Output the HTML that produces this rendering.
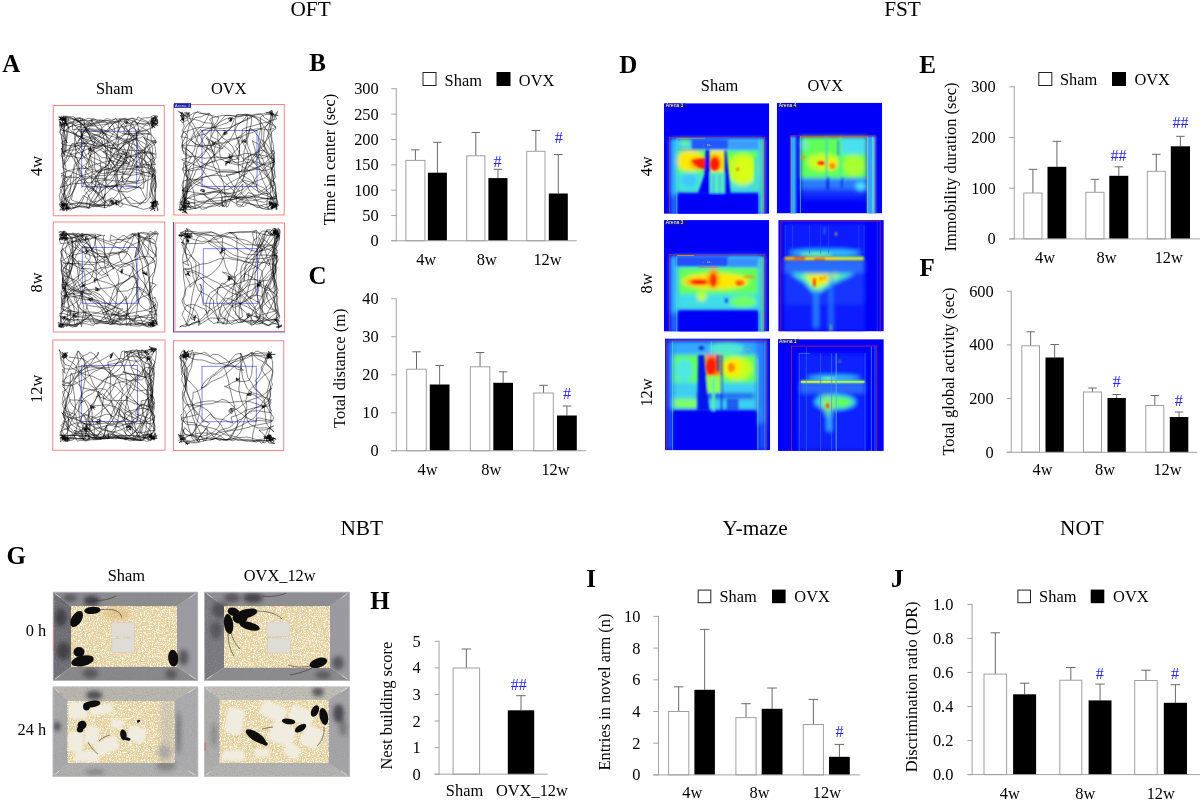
<!DOCTYPE html>
<html lang="en"><head><meta charset="utf-8"><title>Behavioural tests: OFT, FST, NBT, Y-maze, NOT</title>
<style>
html,body{margin:0;padding:0;background:#fff}
svg{display:block}
text{font-family:"Liberation Serif","Times New Roman",Times,serif}
text.sn{font-family:"Liberation Sans",Arial,sans-serif}
text.mo{font-family:"Liberation Mono",monospace}
</style></head><body>
<svg width="1200" height="802" viewBox="0 0 1200 802">
<defs>
<filter id="b1" x="-20%" y="-20%" width="140%" height="140%"><feGaussianBlur stdDeviation="0.9"/></filter>
<filter id="b2" x="-20%" y="-20%" width="140%" height="140%"><feGaussianBlur stdDeviation="2"/></filter>
<filter id="b3" x="-30%" y="-30%" width="160%" height="160%"><feGaussianBlur stdDeviation="3.5"/></filter>
<clipPath id="hc1"><rect x="663.82" y="103.2" width="105.39" height="110.64"/></clipPath>
<clipPath id="hc2"><rect x="776.82" y="102.66" width="105.39" height="110.75"/></clipPath>
<clipPath id="hc3"><rect x="663.82" y="220.12" width="105.39" height="111.5"/></clipPath>
<clipPath id="hc4"><rect x="778.24" y="220.12" width="105.59" height="111.32"/></clipPath>
<clipPath id="hc5"><rect x="664.94" y="338.41" width="105.15" height="111.76"/></clipPath>
<clipPath id="hc6"><rect x="777.94" y="339.15" width="105.88" height="111.76"/></clipPath>
<filter id="nzl" x="0" y="0" width="100%" height="100%"><feTurbulence type="fractalNoise" baseFrequency="0.75" numOctaves="2" seed="3"/><feColorMatrix type="matrix" values="0 0 0 0 1  0 0 0 0 0.97  0 0 0 0 0.87  5 0 0 0 -2.25"/></filter>
<filter id="nzd" x="0" y="0" width="100%" height="100%"><feTurbulence type="fractalNoise" baseFrequency="0.8" numOctaves="2" seed="11"/><feColorMatrix type="matrix" values="0 0 0 0 0.74  0 0 0 0 0.58  0 0 0 0 0.30  0 5.5 0 0 -2.85"/></filter>
<filter id="nzg" x="0" y="0" width="100%" height="100%"><feTurbulence type="fractalNoise" baseFrequency="0.9" numOctaves="2" seed="5"/><feColorMatrix type="matrix" values="0 0 0 0 0.3  0 0 0 0 0.3  0 0 0 0 0.32  1.6 0 0 0 -0.74"/></filter>
<filter id="pb1" x="-30%" y="-30%" width="160%" height="160%"><feGaussianBlur stdDeviation="0.6"/></filter>
<filter id="pb2" x="-40%" y="-40%" width="180%" height="180%"><feGaussianBlur stdDeviation="2.2"/></filter>
<filter id="pb3" x="-40%" y="-40%" width="180%" height="180%"><feGaussianBlur stdDeviation="1.1"/></filter>
<clipPath id="pc1"><rect x="52.8" y="591.8" width="145.4" height="89"/></clipPath>
<clipPath id="pc2"><rect x="204.2" y="591.8" width="145.7" height="89"/></clipPath>
<clipPath id="pc3"><rect x="52.6" y="686.4" width="145.7" height="90.4"/></clipPath>
<clipPath id="pc4"><rect x="204.1" y="686.4" width="145.8" height="90.4"/></clipPath>
</defs>
<rect width="1200" height="802" fill="#fff"/>
<text x="310.6" y="16.4" font-size="21.3" text-anchor="middle">OFT</text>
<text x="902.5" y="16.4" font-size="21.3" text-anchor="middle">FST</text>
<text x="361.8" y="535" font-size="21.3" text-anchor="middle">NBT</text>
<text x="755.1" y="535" font-size="21.3" text-anchor="middle">Y-maze</text>
<text x="1081.9" y="535" font-size="21.3" text-anchor="middle">NOT</text>
<text x="2.3" y="72" font-size="25" font-weight="bold">A</text>
<text x="309.2" y="71.3" font-size="25" font-weight="bold">B</text>
<text x="308.6" y="283.8" font-size="25" font-weight="bold">C</text>
<text x="619.2" y="72.6" font-size="25" font-weight="bold">D</text>
<text x="919.2" y="72.6" font-size="25" font-weight="bold">E</text>
<text x="919.6" y="275.8" font-size="25" font-weight="bold">F</text>
<text x="6.5" y="564" font-size="25" font-weight="bold">G</text>
<text x="370.2" y="609.2" font-size="25" font-weight="bold">H</text>
<text x="586.2" y="586.8" font-size="25" font-weight="bold">I</text>
<text x="891" y="586.8" font-size="25" font-weight="bold">J</text>
<g>
<path d="M415.4 160.4L415.4 149.8" stroke="#6a6a6a" stroke-width="1" fill="none"/>
<path d="M411.15 149.8L419.65 149.8" stroke="#6a6a6a" stroke-width="1" fill="none"/>
<rect x="405.9" y="160.4" width="19" height="80.35" fill="#fff" stroke="#a0a0a0" stroke-width="1"/>
<path d="M437.4 172.7L437.4 142.3" stroke="#6a6a6a" stroke-width="1" fill="none"/>
<path d="M433.15 142.3L441.65 142.3" stroke="#6a6a6a" stroke-width="1" fill="none"/>
<rect x="427.9" y="172.7" width="19" height="68.05" fill="#000"/>
<path d="M475.8 155.8L475.8 132.5" stroke="#6a6a6a" stroke-width="1" fill="none"/>
<path d="M471.55 132.5L480.05 132.5" stroke="#6a6a6a" stroke-width="1" fill="none"/>
<rect x="466.7" y="155.8" width="18.2" height="84.95" fill="#fff" stroke="#a0a0a0" stroke-width="1"/>
<path d="M497.95 178.1L497.95 169.3" stroke="#6a6a6a" stroke-width="1" fill="none"/>
<path d="M493.7 169.3L502.2 169.3" stroke="#6a6a6a" stroke-width="1" fill="none"/>
<rect x="488.4" y="178.1" width="19.1" height="62.65" fill="#000"/>
<path d="M535.85 151.3L535.85 130.5" stroke="#6a6a6a" stroke-width="1" fill="none"/>
<path d="M531.6 130.5L540.1 130.5" stroke="#6a6a6a" stroke-width="1" fill="none"/>
<rect x="526.7" y="151.3" width="18.3" height="89.45" fill="#fff" stroke="#a0a0a0" stroke-width="1"/>
<path d="M558.3 193.5L558.3 154.5" stroke="#6a6a6a" stroke-width="1" fill="none"/>
<path d="M554.05 154.5L562.55 154.5" stroke="#6a6a6a" stroke-width="1" fill="none"/>
<rect x="548.8" y="193.5" width="19" height="47.25" fill="#000"/>
<path d="M396.25 88.25L396.25 241.25" stroke="#a3a3a3" stroke-width="1" fill="none"/>
<path d="M391.25 240.75L576.75 240.75" stroke="#a3a3a3" stroke-width="1" fill="none"/>
<path d="M391.25 240.75L396.25 240.75" stroke="#a3a3a3" stroke-width="1" fill="none"/>
<text x="378.75" y="246.25" font-size="16.4" text-anchor="end">0</text>
<path d="M391.25 215.55L396.25 215.55" stroke="#a3a3a3" stroke-width="1" fill="none"/>
<text x="378.75" y="221.05" font-size="16.4" text-anchor="end">50</text>
<path d="M391.25 190.2L396.25 190.2" stroke="#a3a3a3" stroke-width="1" fill="none"/>
<text x="378.75" y="195.7" font-size="16.4" text-anchor="end">100</text>
<path d="M391.25 164.85L396.25 164.85" stroke="#a3a3a3" stroke-width="1" fill="none"/>
<text x="378.75" y="170.35" font-size="16.4" text-anchor="end">150</text>
<path d="M391.25 139.5L396.25 139.5" stroke="#a3a3a3" stroke-width="1" fill="none"/>
<text x="378.75" y="145" font-size="16.4" text-anchor="end">200</text>
<path d="M391.25 114.1L396.25 114.1" stroke="#a3a3a3" stroke-width="1" fill="none"/>
<text x="378.75" y="119.6" font-size="16.4" text-anchor="end">250</text>
<path d="M391.25 88.75L396.25 88.75" stroke="#a3a3a3" stroke-width="1" fill="none"/>
<text x="378.75" y="94.25" font-size="16.4" text-anchor="end">300</text>
<text x="426.2" y="264.6" font-size="16.4" text-anchor="middle">4w</text>
<text x="486.8" y="264.6" font-size="16.4" text-anchor="middle">8w</text>
<text x="547.5" y="264.6" font-size="16.4" text-anchor="middle">12w</text>
<text x="334.8" y="159.5" font-size="16.45" text-anchor="middle" transform="rotate(-90 334.8 159.5)">Time in center (sec)</text>
<text x="497.6" y="167.2" font-size="16" text-anchor="middle" fill="#2a2ae6">#</text>
<text x="558.8" y="142.6" font-size="16" text-anchor="middle" fill="#2a2ae6">#</text>
<rect x="423" y="72.5" width="13" height="13" fill="#fff" stroke="#222" stroke-width="1"/>
<rect x="496.5" y="72" width="14" height="14" fill="#000"/>
<text x="444.6" y="85.6" font-size="16.4">Sham</text>
<text x="518.8" y="85.6" font-size="16.4">OVX</text>
</g>
<g>
<path d="M416.5 369.2L416.5 351.8" stroke="#6a6a6a" stroke-width="1" fill="none"/>
<path d="M412.25 351.8L420.75 351.8" stroke="#6a6a6a" stroke-width="1" fill="none"/>
<rect x="406.7" y="369.2" width="19.6" height="81.55" fill="#fff" stroke="#a0a0a0" stroke-width="1"/>
<path d="M439.65 384.5L439.65 365.5" stroke="#6a6a6a" stroke-width="1" fill="none"/>
<path d="M435.4 365.5L443.9 365.5" stroke="#6a6a6a" stroke-width="1" fill="none"/>
<rect x="429.8" y="384.5" width="19.7" height="66.25" fill="#000"/>
<path d="M480.05 366.8L480.05 352.5" stroke="#6a6a6a" stroke-width="1" fill="none"/>
<path d="M475.8 352.5L484.3 352.5" stroke="#6a6a6a" stroke-width="1" fill="none"/>
<rect x="470.3" y="366.8" width="19.5" height="83.95" fill="#fff" stroke="#a0a0a0" stroke-width="1"/>
<path d="M503.15 382.8L503.15 371.8" stroke="#6a6a6a" stroke-width="1" fill="none"/>
<path d="M498.9 371.8L507.4 371.8" stroke="#6a6a6a" stroke-width="1" fill="none"/>
<rect x="493.3" y="382.8" width="19.7" height="67.95" fill="#000"/>
<path d="M543.55 393L543.55 385.3" stroke="#6a6a6a" stroke-width="1" fill="none"/>
<path d="M539.3 385.3L547.8 385.3" stroke="#6a6a6a" stroke-width="1" fill="none"/>
<rect x="533.8" y="393" width="19.5" height="57.75" fill="#fff" stroke="#a0a0a0" stroke-width="1"/>
<path d="M566.9 415.5L566.9 406" stroke="#6a6a6a" stroke-width="1" fill="none"/>
<path d="M562.65 406L571.15 406" stroke="#6a6a6a" stroke-width="1" fill="none"/>
<rect x="557" y="415.5" width="19.8" height="35.25" fill="#000"/>
<path d="M396.25 298.25L396.25 451.25" stroke="#a3a3a3" stroke-width="1" fill="none"/>
<path d="M391.25 450.75L586.25 450.75" stroke="#a3a3a3" stroke-width="1" fill="none"/>
<path d="M391.25 450.75L396.25 450.75" stroke="#a3a3a3" stroke-width="1" fill="none"/>
<text x="378.75" y="456.25" font-size="16.4" text-anchor="end">0</text>
<path d="M391.25 412.75L396.25 412.75" stroke="#a3a3a3" stroke-width="1" fill="none"/>
<text x="378.75" y="418.25" font-size="16.4" text-anchor="end">10</text>
<path d="M391.25 374.75L396.25 374.75" stroke="#a3a3a3" stroke-width="1" fill="none"/>
<text x="378.75" y="380.25" font-size="16.4" text-anchor="end">20</text>
<path d="M391.25 336.75L396.25 336.75" stroke="#a3a3a3" stroke-width="1" fill="none"/>
<text x="378.75" y="342.25" font-size="16.4" text-anchor="end">30</text>
<path d="M391.25 298.75L396.25 298.75" stroke="#a3a3a3" stroke-width="1" fill="none"/>
<text x="378.75" y="304.25" font-size="16.4" text-anchor="end">40</text>
<text x="427.5" y="474.6" font-size="16.4" text-anchor="middle">4w</text>
<text x="491.3" y="474.6" font-size="16.4" text-anchor="middle">8w</text>
<text x="555.5" y="474.6" font-size="16.4" text-anchor="middle">12w</text>
<text x="344.8" y="368.2" font-size="16.45" text-anchor="middle" transform="rotate(-90 344.8 368.2)">Total distance (m)</text>
<text x="567" y="398.6" font-size="16" text-anchor="middle" fill="#2a2ae6">#</text>
</g>
<g>
<path d="M1032.9 193L1032.9 169.3" stroke="#6a6a6a" stroke-width="1" fill="none"/>
<path d="M1028.65 169.3L1037.15 169.3" stroke="#6a6a6a" stroke-width="1" fill="none"/>
<rect x="1023.8" y="193" width="18.2" height="45.9" fill="#fff" stroke="#a0a0a0" stroke-width="1"/>
<path d="M1056.9 166.8L1056.9 141.3" stroke="#6a6a6a" stroke-width="1" fill="none"/>
<path d="M1052.65 141.3L1061.15 141.3" stroke="#6a6a6a" stroke-width="1" fill="none"/>
<rect x="1047.5" y="166.8" width="18.8" height="72.1" fill="#000"/>
<path d="M1094.9 192.3L1094.9 179.3" stroke="#6a6a6a" stroke-width="1" fill="none"/>
<path d="M1090.65 179.3L1099.15 179.3" stroke="#6a6a6a" stroke-width="1" fill="none"/>
<rect x="1085.8" y="192.3" width="18.2" height="46.6" fill="#fff" stroke="#a0a0a0" stroke-width="1"/>
<path d="M1118.8 175.8L1118.8 166.8" stroke="#6a6a6a" stroke-width="1" fill="none"/>
<path d="M1114.55 166.8L1123.05 166.8" stroke="#6a6a6a" stroke-width="1" fill="none"/>
<rect x="1109.3" y="175.8" width="19" height="63.1" fill="#000"/>
<path d="M1156.3 171.3L1156.3 154.3" stroke="#6a6a6a" stroke-width="1" fill="none"/>
<path d="M1152.05 154.3L1160.55 154.3" stroke="#6a6a6a" stroke-width="1" fill="none"/>
<rect x="1147.3" y="171.3" width="18" height="67.6" fill="#fff" stroke="#a0a0a0" stroke-width="1"/>
<path d="M1180.4 146.3L1180.4 136.3" stroke="#6a6a6a" stroke-width="1" fill="none"/>
<path d="M1176.15 136.3L1184.65 136.3" stroke="#6a6a6a" stroke-width="1" fill="none"/>
<rect x="1170.8" y="146.3" width="19.2" height="92.6" fill="#000"/>
<path d="M1014.25 86.3L1014.25 239.4" stroke="#a3a3a3" stroke-width="1" fill="none"/>
<path d="M1009.25 238.9L1200 238.9" stroke="#a3a3a3" stroke-width="1" fill="none"/>
<path d="M1009.25 238.9L1014.25 238.9" stroke="#a3a3a3" stroke-width="1" fill="none"/>
<text x="995.75" y="244.4" font-size="16.4" text-anchor="end">0</text>
<path d="M1009.25 188.2L1014.25 188.2" stroke="#a3a3a3" stroke-width="1" fill="none"/>
<text x="995.75" y="193.7" font-size="16.4" text-anchor="end">100</text>
<path d="M1009.25 137.5L1014.25 137.5" stroke="#a3a3a3" stroke-width="1" fill="none"/>
<text x="995.75" y="143" font-size="16.4" text-anchor="end">200</text>
<path d="M1009.25 86.8L1014.25 86.8" stroke="#a3a3a3" stroke-width="1" fill="none"/>
<text x="995.75" y="92.3" font-size="16.4" text-anchor="end">300</text>
<text x="1045" y="262.6" font-size="16.4" text-anchor="middle">4w</text>
<text x="1106.5" y="262.6" font-size="16.4" text-anchor="middle">8w</text>
<text x="1168.8" y="262.6" font-size="16.4" text-anchor="middle">12w</text>
<text x="955.6" y="167" font-size="16.45" text-anchor="middle" transform="rotate(-90 955.6 167)">Immobility duration (sec)</text>
<text x="1118.6" y="160.8" font-size="16" text-anchor="middle" fill="#2a2ae6">##</text>
<text x="1180.4" y="127.9" font-size="16" text-anchor="middle" fill="#2a2ae6">##</text>
<rect x="1038.8" y="72.5" width="13" height="13" fill="#fff" stroke="#222" stroke-width="1"/>
<rect x="1112" y="72" width="14" height="14" fill="#000"/>
<text x="1060" y="85.4" font-size="16.4">Sham</text>
<text x="1134.4" y="85.4" font-size="16.4">OVX</text>
</g>
<g>
<path d="M1030.65 345.8L1030.65 331.8" stroke="#6a6a6a" stroke-width="1" fill="none"/>
<path d="M1026.4 331.8L1034.9 331.8" stroke="#6a6a6a" stroke-width="1" fill="none"/>
<rect x="1021.8" y="345.8" width="17.7" height="106.45" fill="#fff" stroke="#a0a0a0" stroke-width="1"/>
<path d="M1054.65 357.5L1054.65 344.5" stroke="#6a6a6a" stroke-width="1" fill="none"/>
<path d="M1050.4 344.5L1058.9 344.5" stroke="#6a6a6a" stroke-width="1" fill="none"/>
<rect x="1045.5" y="357.5" width="18.3" height="94.75" fill="#000"/>
<path d="M1092.5 392L1092.5 388" stroke="#6a6a6a" stroke-width="1" fill="none"/>
<path d="M1088.25 388L1096.75 388" stroke="#6a6a6a" stroke-width="1" fill="none"/>
<rect x="1083.5" y="392" width="18" height="60.25" fill="#fff" stroke="#a0a0a0" stroke-width="1"/>
<path d="M1116.65 398L1116.65 394.5" stroke="#6a6a6a" stroke-width="1" fill="none"/>
<path d="M1112.4 394.5L1120.9 394.5" stroke="#6a6a6a" stroke-width="1" fill="none"/>
<rect x="1107.5" y="398" width="18.3" height="54.25" fill="#000"/>
<path d="M1154.8 405.5L1154.8 395.5" stroke="#6a6a6a" stroke-width="1" fill="none"/>
<path d="M1150.55 395.5L1159.05 395.5" stroke="#6a6a6a" stroke-width="1" fill="none"/>
<rect x="1145.8" y="405.5" width="18" height="46.75" fill="#fff" stroke="#a0a0a0" stroke-width="1"/>
<path d="M1179.05 417L1179.05 412" stroke="#6a6a6a" stroke-width="1" fill="none"/>
<path d="M1174.8 412L1183.3 412" stroke="#6a6a6a" stroke-width="1" fill="none"/>
<rect x="1169.8" y="417" width="18.5" height="35.25" fill="#000"/>
<path d="M1011.25 290.8L1011.25 452.75" stroke="#a3a3a3" stroke-width="1" fill="none"/>
<path d="M1006.75 452.25L1197.5 452.25" stroke="#a3a3a3" stroke-width="1" fill="none"/>
<path d="M1006.75 452.25L1011.25 452.25" stroke="#a3a3a3" stroke-width="1" fill="none"/>
<text x="993.75" y="457.75" font-size="16.4" text-anchor="end">0</text>
<path d="M1006.75 398.6L1011.25 398.6" stroke="#a3a3a3" stroke-width="1" fill="none"/>
<text x="993.75" y="404.1" font-size="16.4" text-anchor="end">200</text>
<path d="M1006.75 344.95L1011.25 344.95" stroke="#a3a3a3" stroke-width="1" fill="none"/>
<text x="993.75" y="350.45" font-size="16.4" text-anchor="end">400</text>
<path d="M1006.75 291.3L1011.25 291.3" stroke="#a3a3a3" stroke-width="1" fill="none"/>
<text x="993.75" y="296.8" font-size="16.4" text-anchor="end">600</text>
<text x="1042.5" y="475" font-size="16.4" text-anchor="middle">4w</text>
<text x="1105" y="475" font-size="16.4" text-anchor="middle">8w</text>
<text x="1167.5" y="475" font-size="16.4" text-anchor="middle">12w</text>
<text x="953.6" y="371.5" font-size="16.45" text-anchor="middle" transform="rotate(-90 953.6 371.5)">Total global activity (sec)</text>
<text x="1116.8" y="386.8" font-size="16" text-anchor="middle" fill="#2a2ae6">#</text>
<text x="1178.8" y="405.6" font-size="16" text-anchor="middle" fill="#2a2ae6">#</text>
</g>
<g>
<path d="M466.35 668L466.35 649" stroke="#6a6a6a" stroke-width="1" fill="none"/>
<path d="M461.6 649L471.1 649" stroke="#6a6a6a" stroke-width="1" fill="none"/>
<rect x="453.1" y="668" width="26.5" height="106.2" fill="#fff" stroke="#a0a0a0" stroke-width="1"/>
<path d="M521 710.3L521 695.7" stroke="#6a6a6a" stroke-width="1" fill="none"/>
<path d="M516.25 695.7L525.75 695.7" stroke="#6a6a6a" stroke-width="1" fill="none"/>
<rect x="507.8" y="710.3" width="26.4" height="63.9" fill="#000"/>
<path d="M439.1 640.8L439.1 774.7" stroke="#a3a3a3" stroke-width="1" fill="none"/>
<path d="M434.6 774.2L547.7 774.2" stroke="#a3a3a3" stroke-width="1" fill="none"/>
<path d="M434.6 774.2L439.1 774.2" stroke="#a3a3a3" stroke-width="1" fill="none"/>
<text x="420.8" y="779.7" font-size="16.4" text-anchor="end">0</text>
<path d="M434.6 747.6L439.1 747.6" stroke="#a3a3a3" stroke-width="1" fill="none"/>
<text x="420.8" y="753.1" font-size="16.4" text-anchor="end">1</text>
<path d="M434.6 721L439.1 721" stroke="#a3a3a3" stroke-width="1" fill="none"/>
<text x="420.8" y="726.5" font-size="16.4" text-anchor="end">2</text>
<path d="M434.6 694.5L439.1 694.5" stroke="#a3a3a3" stroke-width="1" fill="none"/>
<text x="420.8" y="700" font-size="16.4" text-anchor="end">3</text>
<path d="M434.6 667.9L439.1 667.9" stroke="#a3a3a3" stroke-width="1" fill="none"/>
<text x="420.8" y="673.4" font-size="16.4" text-anchor="end">4</text>
<path d="M434.6 641.3L439.1 641.3" stroke="#a3a3a3" stroke-width="1" fill="none"/>
<text x="420.8" y="646.8" font-size="16.4" text-anchor="end">5</text>
<text x="464.5" y="796.2" font-size="16.4" text-anchor="middle">Sham</text>
<text x="531.9" y="796.2" font-size="16.4" text-anchor="middle">OVX_12w</text>
<text x="391.6" y="705.6" font-size="16.45" text-anchor="middle" transform="rotate(-90 391.6 705.6)">Nest building score</text>
<text x="518.7" y="690.2" font-size="16" text-anchor="middle" fill="#2a2ae6">##</text>
</g>
<g>
<path d="M678.7 711.5L678.7 686.8" stroke="#6a6a6a" stroke-width="1" fill="none"/>
<path d="M673.95 686.8L683.45 686.8" stroke="#6a6a6a" stroke-width="1" fill="none"/>
<rect x="668.6" y="711.5" width="20.2" height="63.4" fill="#fff" stroke="#a0a0a0" stroke-width="1"/>
<path d="M704.65 689.8L704.65 629.4" stroke="#6a6a6a" stroke-width="1" fill="none"/>
<path d="M699.9 629.4L709.4 629.4" stroke="#6a6a6a" stroke-width="1" fill="none"/>
<rect x="694.4" y="689.8" width="20.5" height="85.1" fill="#000"/>
<path d="M746 717.6L746 703.7" stroke="#6a6a6a" stroke-width="1" fill="none"/>
<path d="M741.25 703.7L750.75 703.7" stroke="#6a6a6a" stroke-width="1" fill="none"/>
<rect x="735.9" y="717.6" width="20.2" height="57.3" fill="#fff" stroke="#a0a0a0" stroke-width="1"/>
<path d="M772.1 708.8L772.1 688" stroke="#6a6a6a" stroke-width="1" fill="none"/>
<path d="M767.35 688L776.85 688" stroke="#6a6a6a" stroke-width="1" fill="none"/>
<rect x="761.7" y="708.8" width="20.8" height="66.1" fill="#000"/>
<path d="M813.35 724.5L813.35 699.4" stroke="#6a6a6a" stroke-width="1" fill="none"/>
<path d="M808.6 699.4L818.1 699.4" stroke="#6a6a6a" stroke-width="1" fill="none"/>
<rect x="803.3" y="724.5" width="20.1" height="50.4" fill="#fff" stroke="#a0a0a0" stroke-width="1"/>
<path d="M839.4 756.8L839.4 744.4" stroke="#6a6a6a" stroke-width="1" fill="none"/>
<path d="M834.65 744.4L844.15 744.4" stroke="#6a6a6a" stroke-width="1" fill="none"/>
<rect x="829" y="756.8" width="20.8" height="18.1" fill="#000"/>
<path d="M658.5 615.9L658.5 775.4" stroke="#a3a3a3" stroke-width="1" fill="none"/>
<path d="M653.3 774.9L860.1 774.9" stroke="#a3a3a3" stroke-width="1" fill="none"/>
<path d="M653.3 774.9L658.5 774.9" stroke="#a3a3a3" stroke-width="1" fill="none"/>
<text x="640.5" y="780.4" font-size="16.4" text-anchor="end">0</text>
<path d="M653.3 743.2L658.5 743.2" stroke="#a3a3a3" stroke-width="1" fill="none"/>
<text x="640.5" y="748.7" font-size="16.4" text-anchor="end">2</text>
<path d="M653.3 711.5L658.5 711.5" stroke="#a3a3a3" stroke-width="1" fill="none"/>
<text x="640.5" y="717" font-size="16.4" text-anchor="end">4</text>
<path d="M653.3 679.8L658.5 679.8" stroke="#a3a3a3" stroke-width="1" fill="none"/>
<text x="640.5" y="685.3" font-size="16.4" text-anchor="end">6</text>
<path d="M653.3 648.1L658.5 648.1" stroke="#a3a3a3" stroke-width="1" fill="none"/>
<text x="640.5" y="653.6" font-size="16.4" text-anchor="end">8</text>
<path d="M653.3 616.4L658.5 616.4" stroke="#a3a3a3" stroke-width="1" fill="none"/>
<text x="640.5" y="621.9" font-size="16.4" text-anchor="end">10</text>
<text x="692.3" y="798.4" font-size="16.4" text-anchor="middle">4w</text>
<text x="759.6" y="798.4" font-size="16.4" text-anchor="middle">8w</text>
<text x="826.9" y="798.4" font-size="16.4" text-anchor="middle">12w</text>
<text x="610.4" y="692" font-size="16.45" text-anchor="middle" transform="rotate(-90 610.4 692)">Entries in novel arm (n)</text>
<text x="839.6" y="736.9" font-size="16" text-anchor="middle" fill="#2a2ae6">#</text>
<rect x="698.2" y="590.1" width="12.6" height="12.6" fill="#fff" stroke="#222" stroke-width="1"/>
<rect x="772" y="589.6" width="13.6" height="13.6" fill="#000"/>
<text x="719.4" y="602.3" font-size="16.4">Sham</text>
<text x="794.3" y="602.3" font-size="16.4">OVX</text>
</g>
<g>
<path d="M995.3 674.1L995.3 632.8" stroke="#6a6a6a" stroke-width="1" fill="none"/>
<path d="M990.55 632.8L1000.05 632.8" stroke="#6a6a6a" stroke-width="1" fill="none"/>
<rect x="984" y="674.1" width="22.6" height="100.5" fill="#fff" stroke="#a0a0a0" stroke-width="1"/>
<path d="M1024.6 694.3L1024.6 683.2" stroke="#6a6a6a" stroke-width="1" fill="none"/>
<path d="M1019.85 683.2L1029.35 683.2" stroke="#6a6a6a" stroke-width="1" fill="none"/>
<rect x="1013.1" y="694.3" width="23" height="80.3" fill="#000"/>
<path d="M1070.8 680.2L1070.8 667.5" stroke="#6a6a6a" stroke-width="1" fill="none"/>
<path d="M1066.05 667.5L1075.55 667.5" stroke="#6a6a6a" stroke-width="1" fill="none"/>
<rect x="1059.8" y="680.2" width="22" height="94.4" fill="#fff" stroke="#a0a0a0" stroke-width="1"/>
<path d="M1100.05 700.4L1100.05 684.1" stroke="#6a6a6a" stroke-width="1" fill="none"/>
<path d="M1095.3 684.1L1104.8 684.1" stroke="#6a6a6a" stroke-width="1" fill="none"/>
<rect x="1088.6" y="700.4" width="22.9" height="74.2" fill="#000"/>
<path d="M1145.95 680.5L1145.95 670.2" stroke="#6a6a6a" stroke-width="1" fill="none"/>
<path d="M1141.2 670.2L1150.7 670.2" stroke="#6a6a6a" stroke-width="1" fill="none"/>
<rect x="1134.7" y="680.5" width="22.5" height="94.1" fill="#fff" stroke="#a0a0a0" stroke-width="1"/>
<path d="M1175.4 702.8L1175.4 684.7" stroke="#6a6a6a" stroke-width="1" fill="none"/>
<path d="M1170.65 684.7L1180.15 684.7" stroke="#6a6a6a" stroke-width="1" fill="none"/>
<rect x="1163.8" y="702.8" width="23.2" height="71.8" fill="#000"/>
<path d="M972.1 603.9L972.1 775.1" stroke="#a3a3a3" stroke-width="1" fill="none"/>
<path d="M967.5 774.6L1200 774.6" stroke="#a3a3a3" stroke-width="1" fill="none"/>
<path d="M967.5 774.6L972.1 774.6" stroke="#a3a3a3" stroke-width="1" fill="none"/>
<text x="953.4" y="780.1" font-size="16.4" text-anchor="end">0.0</text>
<path d="M967.5 740.55L972.1 740.55" stroke="#a3a3a3" stroke-width="1" fill="none"/>
<text x="953.4" y="746.05" font-size="16.4" text-anchor="end">0.2</text>
<path d="M967.5 706.5L972.1 706.5" stroke="#a3a3a3" stroke-width="1" fill="none"/>
<text x="953.4" y="712" font-size="16.4" text-anchor="end">0.4</text>
<path d="M967.5 672.45L972.1 672.45" stroke="#a3a3a3" stroke-width="1" fill="none"/>
<text x="953.4" y="677.95" font-size="16.4" text-anchor="end">0.6</text>
<path d="M967.5 638.4L972.1 638.4" stroke="#a3a3a3" stroke-width="1" fill="none"/>
<text x="953.4" y="643.9" font-size="16.4" text-anchor="end">0.8</text>
<path d="M967.5 604.4L972.1 604.4" stroke="#a3a3a3" stroke-width="1" fill="none"/>
<text x="953.4" y="609.9" font-size="16.4" text-anchor="end">1.0</text>
<text x="1009.8" y="798.5" font-size="16.4" text-anchor="middle">4w</text>
<text x="1085.3" y="798.5" font-size="16.4" text-anchor="middle">8w</text>
<text x="1160.8" y="798.5" font-size="16.4" text-anchor="middle">12w</text>
<text x="917.4" y="686.8" font-size="16.45" text-anchor="middle" transform="rotate(-90 917.4 686.8)">Discrimination ratio (DR)</text>
<text x="1099.8" y="679" font-size="16" text-anchor="middle" fill="#2a2ae6">#</text>
<text x="1174.9" y="679" font-size="16" text-anchor="middle" fill="#2a2ae6">#</text>
<rect x="1017.9" y="590.1" width="12.6" height="12.6" fill="#fff" stroke="#222" stroke-width="1"/>
<rect x="1090.7" y="589.6" width="13.6" height="13.6" fill="#000"/>
<text x="1039.1" y="602.3" font-size="16.4">Sham</text>
<text x="1113.1" y="602.3" font-size="16.4">OVX</text>
</g>
<text x="114.6" y="93.8" font-size="16.4" text-anchor="middle">Sham</text>
<text x="228.8" y="93.8" font-size="16.4" text-anchor="middle">OVX</text>
<text x="41.6" y="166" font-size="16.4" text-anchor="middle" transform="rotate(-90 41.6 166)">4w</text>
<text x="41.6" y="282.5" font-size="16.4" text-anchor="middle" transform="rotate(-90 41.6 282.5)">8w</text>
<text x="41.6" y="388.8" font-size="16.4" text-anchor="middle" transform="rotate(-90 41.6 388.8)">12w</text>
<text x="719.5" y="91.3" font-size="16.4" text-anchor="middle">Sham</text>
<text x="825.3" y="91.3" font-size="16.4" text-anchor="middle">OVX</text>
<text x="652.4" y="166.3" font-size="16.4" text-anchor="middle" transform="rotate(-90 652.4 166.3)">4w</text>
<text x="652.4" y="283.5" font-size="16.4" text-anchor="middle" transform="rotate(-90 652.4 283.5)">8w</text>
<text x="652.4" y="392.5" font-size="16.4" text-anchor="middle" transform="rotate(-90 652.4 392.5)">12w</text>
<text x="126.3" y="580.9" font-size="16.4" text-anchor="middle">Sham</text>
<text x="279.7" y="580.9" font-size="16.4" text-anchor="middle">OVX_12w</text>
<text x="46.2" y="636.4" font-size="16.4" text-anchor="end">0 h</text>
<text x="46.2" y="735.2" font-size="16.4" text-anchor="end">24 h</text>
<g>
<rect x="53.25" y="105.5" width="111" height="110.25" fill="#fff" stroke="#f08888" stroke-width="1"/>
<rect x="81.75" y="131.25" width="55" height="55.5" fill="none" stroke="#6464f4" stroke-width="0.8"/>
<path d="M67.8 124.2l-3.4 2.9l-0.7 1.9l-0.6 1.6l4.6 1.1l5.4 1.7l2.8 1.9l4.8 4.2l3.9 3.4l3 3.1l2.2 1.9l4.5 3.5l1.5 1.2l3.5 5.1l0.9 2.4l0.1 3.6l0.2 3l0.9 4.4l-3.3 0.6l-2.3 -0.2l-1.2 -4.5l-0.2 -5.1l0.4 -5.8l-0.1 -2l-0.9 -4.3l0.3 -4.9l-1.4 -2l-0.8 -2.4l-2 -3.4l-1.3 -3.6l-1.9 -3.2l-1.5 -2.7l-0.3 -1.8l-0.5 -4.9l-2.7 -1.8l-1.7 -1.2l-5.1 0.5l-2.2 5.5l-0.3 5.7l1.9 -0.2l5.7 0l4.1 0.2l5.5 1.2l2.6 0l4.2 0.9l5.9 1.1l2.4 0.9l2.9 1l2.5 1.3l4.5 1.2l4.8 2l1.9 1.1l4.9 2.3l1.9 1.1l1.4 1.5l4 4.9l1.8 2.7l1.1 3.6l-2.9 5.1l-1.7 5.2l-2.6 5.3l-3.9 0l-4.8 -0.1l-4.6 -2.4l1.4 -3.1l-0.4 -4.7l1.6 -1.8l2.7 -3.6l-1.8 -2l-0.8 -1.7l-2.5 -3.3l-1.1 -1.8l-2.3 -3l-3.8 -4.9l-2.8 -4l-4.8 -4.1l-3.3 -2.6l-2.4 -3l-3.1 -4.4l-1.7 -1.5l-1.7 1l-2.6 1.6l-1.8 1.2l-2.8 1.3l-2.9 1.8l-2.1 1.1l-3.4 2.8l1.1 5l1.2 5.1l1.9 3.5l3.9 3.8l3.1 4.5l1.5 3.3l2.3 4.8l1 2.5l1 2.2l1.7 2.7l-3.7 -1.7l0.3 -3.9l0.8 -5.7l1.3 -5.1l1.4 -3.7l1.5 -3.2l0.7 -3l0.7 -4.9l-5 0.3l-2.9 -0.8l-2.7 -0.8l-2 0.1l-5.6 0.7l-1.7 -3.2l2.6 -2.4l3.2 0.3l2.3 -0.5l4.8 -1.3l2 -0.2l3.7 1.2l5.9 0.5l5.9 0.2l6.2 -1.4l1.6 -0.4l3.7 -1.7l4.5 -0.7l3.9 -0.3l3.9 -1.3l5 -1.1l3.5 -0.4l2.7 -0.2l5.2 0.1l6.1 -0.7l4.3 1.1l1.9 1.5l-5.7 -1.5l-5.6 -1.7l-2.6 -0.7l-5.6 -1.6l-4.5 -1.3l-2.8 -0.3l-4.2 1.2l-1.8 1.8l-3 2.7l-2.1 3.1l-0.8 1.5l-0.8 1.5l-2.1 3.7l1.1 2.7l0.7 4.8l-0.4 4l-0.9 2.6l-2.7 4.5l-1.7 2.7l-1.9 2.7l-2.2 4.8l-1.2 2.4l-0.6 1.8l0.1 3.5l-1.1 5l-4.1 -0.1l-1.7 0.2l-2.3 0.4l-2.6 0.8l-6.3 0.1l-6.2 -0.1l-2.7 -1.5l-1.9 -0.8l-4.6 -1.9l-3.6 -1.3l-2.7 -1.1l-4.4 -2.8l0.6 -1.7l1.3 -2.2l1.4 -4l0.9 -3l1.5 -4l0.8 -3.1l1.2 -3.5l2.6 -1.1l4.8 -2l5.6 -0.6l3.9 4.7l1.4 1.3l1.8 1.2l2.6 1.4l3.4 2.4l2.4 2.1l3 2.5l4 -0.1l3.9 1.7l3.1 2l1.5 5l1.4 5.2l0.6 2l0.8 3.4l0.8 2.8l1.3 4.7l-3.7 1.7l-2 0.6l-2.4 -0.1l-4.6 -0.6l-4.5 -1.3l-3.3 -0.8l-2 4l-1.5 4.9l-2.4 4.1l-2.8 5.1l-0.7 4.6l-0.3 1.9l-2.4 -1.8l0.2 -5.1l1.3 -4.5l1 -1.9l3.3 -3.9l2 -3.2l1.2 -2.8l-0.1 -4.4l0.3 -3l1.2 -3l1.3 -1.6l2.7 -3.8l5.1 -3.6l2.8 -2.6l1.1 -2l2.1 -5.1l1.1 1.4l3.5 2.1l3.3 1.4l1.9 0.7l3.6 0.6l3.9 1.3l-1.1 -1.6l-3.5 -2.7l-2.6 -2.1l-3.3 -2.5l-3.1 -2.3l4.5 -4.2l2.4 -3.3l1.7 -3.3l2.5 -1.8l2.7 3.7l-1.2 5l-1.5 3.1l-0.4 2.1l-2.1 5.6l-1.7 3.5l-3.3 4.2l-1.3 2l-0.9 3.8l-0.3 4.4l-0.2 6.3l0.5 3l1.7 5l1.7 4.2l0.7 5l-4 1.2l-3.7 1.7l-3.8 1.8l-3.8 0l-6.1 -0.9l-6.3 -0.7l2.3 -5.2l1.4 -3l2.3 -5.8l2.3 -5.9l2.5 -3.7l0.9 -2l2.9 -4.4l1.1 -3.3l1.4 -4.7l2.1 -3.3l1.2 -2.1l2.9 -3.1l1.6 -5.7l2.9 -4.6l2.1 -2.7l5 -3.4l3.6 -4.6l1.7 -1.8l3.2 -2.7l5.2 -0.4l3.7 -0.8l1.7 -0.4l1.1 2.4l-1.2 2.8l-0.7 5.8l-0.5 2.7l1.8 4.7l2 4.5l1.9 2.2l2.4 2.2l-3.6 2.3l-1.9 1.7l-4.9 2.5l-1.4 1l-4.6 1.1l-4.7 2.4l-5.8 0.7l-1.7 -0.1l-2.9 -0.2l-5.8 1.3l-3.9 0.8l-2.4 0.9l-4.5 0.9l-3.7 0.5l-6.2 -1.5l-2.9 -0.3l-2.1 0.2l-1.8 1.3l-4.3 1.4l-3.7 1.2l-2.7 1.3l-2.5 1.5l-2.6 2.3l-2.8 2.1l-4.3 4.4l-2 3.7l-0.7 3.4l-1.3 3.2l-1.6 6.2l1.2 3.8l0.9 1.3l-2.4 -1.9l-1.2 -2.9l5.1 -0.5l5 0.5l4.5 -0.3l3.7 -0.2l5.9 0.2l4.9 0.4l5.7 0.8l4.7 0.4l3 -0.1l5.7 -0.3l3.6 -0.2l2.5 -0.8l4.5 -2.1l5.4 -3.2l5.5 -1.7l1.8 1.1l1.9 1.6l4.1 2.1l3.4 2.6l1.2 -1.3l4 -3.9l-1 -2.6l-2.6 -5.4l-2.4 -4.2l-1.8 0.1l-6 0.5l-1.9 0.3l-5 1.3l-4.2 -4l0 3l-0.2 2.3l0.9 1.4l2.1 2.7l2.5 4.7l1 1.9l4.4 3.9l2 1l6 2l4.1 1.2l5 -1.3l4.8 0.7l1.6 -0.8l-4.7 2.5l1.6 -0.7l1.8 -4.5l0.1 -5.3l-0.9 -2l-1 -5.4l-0.6 -3.5l-0.6 -3.6l0.3 -2.3l0.3 -1.8l1 -5.3l1 -4.6l-2.4 -3.2l-0.9 -2.2l-0.9 -1.9l-1.7 -1.7l-4.8 -3.3l-4.3 -2l-2.7 -0.8l-2.2 0.1l-3.2 0.2l-1.7 -0.4l-1.6 -0.5l-5.9 -2.3l-1.6 -1.2l-4.1 -4.7l-2.8 -2.9l-1.8 -1.5l-4.6 -2.6l-4.9 -3.3l-3.3 -1.8l-4.2 -1.4l-4.6 -2.5l-4 -4.3l-2.5 -2.8l-1.5 -2.8l-1.1 -3.9l-1.5 1.4l-5 1.9l-5 2.3l-3 0.5l-1.7 -0.6l-0.1 2.7l0.3 1.6l0.1 2.2l0 1.7l1.2 5.8l-0.4 5.7l-0.3 2.3l-0.3 5.9l1.7 0.8l3.4 1.5l3.3 1.7l4 2.5l1.5 5.4l0.4 2l0.9 4.1l1.4 2.3l1.6 4.8l3.4 4.8l3.8 4.6l3.2 2.8l4.4 4l2.1 2.6l4.2 3.5l1.3 -4.4l0.5 -5.7l0.5 -6.3l0.2 -2.2l0.4 -1.6l0.8 -4.1l1.2 -5l-0.2 -2.4l0.6 -3.4l0.4 -3.1l1.1 -4.2l0.3 -1.6l0 -1.8l-0.2 -4.4l-1.7 -5l-0.8 -2.3l-2 -1.7l-3.9 -1.6l-5.1 -2.2l-4 -1.2l-2 -0.5l-3.9 -1.3l-1.5 -0.6l-2.5 -0.6l-1.7 5.8l-0.7 1.5l-3.1 3.5l-1.7 1.6l-2.7 5.3l-2.8 5.7l-2.9 5.3l-1.2 1.5l-2.2 2.9l-1 -1.7l-0.6 -5.5l-0.7 -2.8l0 -1.7l1.2 -5l1.5 -5.7l0.3 -4.5l-0.1 -3.4l-1.2 -3.2l-0.6 -1.6l-2.3 -3.6l-0.6 -4.1l2.8 -3l2.8 -1.8l0.6 3.4l-1.1 3.2l-1 5.1l-0.7 6.2l-0.3 5l-0.5 4.7l-0.1 4.1l0.4 4.2l-0.5 2.7l-0.1 6.3l0.8 5.7l1.7 4.9l0.4 1.7l0 3.9l-0.5 2.1l-0.2 4.4l0.1 6.4l0.3 4.7l0.1 4.8l-0.4 2.8l-1.2 5.4l0.6 1.8l-3.8 -3.5l-0.8 -3.5l3.7 -2.7l3.2 -4l1.1 -2.5l1.8 -4.1l2 -3.6l1.9 -4.4l0.6 -3l0 -5.3l0.1 -3.1l0.3 -6.1l4.2 -4.1l1.6 -1.2l1.7 -2.3l1.4 -5.6l0.9 -1.6l0.7 -3.8l-0.1 -1.7l-0.9 -3.2l-1 -2.1l-1.2 -3.1l-1.1 -5.8l4.5 -2.6l4.5 -1.7l2.8 -1.7l-0.2 -4.9l2.3 -0.3l2 1l5.6 0.2l4.6 2.2l1.5 2.7l0.7 1.4l2.6 3.3l2 1.6l1.7 1.7l3.3 4l3.7 1.6l2.4 0.5l4.8 0.3l2.4 -0.1l3.8 0l1.3 -5l1.2 -3.2l0.2 -2.7l1.7 2.7l6.1 -1l5.9 -2.2l4.7 -3.6l1.3 -2.1l-0.7 -3l-1.4 -3.3l-3.5 2.4l-3.3 3.2l-4.3 4.1l-3.2 3.5l-1.2 1.4l-4.7 4.1l-3.6 3.2l-5.1 1.8l-1.7 0.9l-2.4 1.3l-2.8 1.8l-2.5 2.9l-2.3 1.2l-4.3 1.7l1.1 -2.1l1 -1.5l2.8 -3.7l1.5 -6l0.6 -3l0.3 -4l0.2 -3.3l0.5 -5.9l1.3 -1.2l0.6 2.5l3.3 3.2l2.1 3l2.8 5.3l2.6 5.5l2.2 4.9l1.7 2.5l3.2 4.4l0.9 1.5l3.4 3.2l-0.7 2.4l-0.2 3.2l0.8 3.3l1.9 3.2l1.6 2.4l1.1 1.9l2.4 2.3l4.3 3.5l1.7 3.4l0.3 2.7l-1.1 4.1l0 3.2l-0.2 3.8l0 2.6l0.9 6.3l1.3 4.4l1 2.2l-0.3 1.1l-0.6 -3.5l-1.2 -5.4l-1.2 -2.8l-0.3 -1.7l-1.8 -3.4l-0.6 -3.9l0.2 -3.6l0 -4.1l0.2 -4.1l0.1 -3.2l-1 -4.4l-0.7 -4.1l2.9 -5.1l2.3 -4l-0.1 -4.6l-0.5 -3.3l-0.5 -2.8l-0.7 -3l-1.9 -1.8l-1.3 -2.9l0.2 -2.6l-0.4 -3.1l-0.5 -6.1l-2.5 -5.5l-2.9 -1.2l-2.8 -1.2l-4.1 -2.5l-1 2.1l-4.2 3.7l-5.5 1.5l-2.5 3.7l-0.6 2.3l-0.4 2.7l4.1 1.3l2.1 0.7l3.3 2.4l3.7 2.3l3.3 1.6l1.7 1.1l3.7 1.8l0.1 3.9l-0.6 2.1l-0.9 4.1l0.1 3.7l0.4 2l1.2 3.5l1.6 3.2l2.7 4.2l3.3 3.8l0.9 2.7l-0.9 5.1l0.1 4.6l1.1 4.8l1.8 -5.8l-0.4 -2.2l-1.4 -4.1l-1.9 -2.2l-2.5 -3.1l-2 -3.1l-0.3 -2.2l0.7 -4.7l-3.6 1.6l-5.8 1.3l-3.4 0l-2.7 -0.1l-1.6 -0.3l-3.1 -0.6l-2.7 -0.4l-4.9 0l-5.2 -0.8l2.5 -3.4l2.3 -3.1l1.9 -3.6l2.4 -1.6l3.6 -1.3l2.2 4.3l3.5 4.9l2.1 2.6l3.2 4.8l2.9 3.3l-2.5 4.4l-2.3 5.6l-4 1l-5.6 -2l-2 -0.7l-1.9 -1.3l-2.7 -2.6l0.5 2.1l1.8 4.2l1.5 2.6l1.8 0l3.3 0.4l3.9 1.1l3.7 0.9l5.6 0.8l0.6 -5.1l-1.1 -5.1l-0.4 -4.3l-1.2 -4.8l-1.2 -5.9l-1.1 -4.3l-0.7 -3.4l-0.4 -4.9l-0.7 -5.8l-0.4 -5.3l-0.3 -1.6l-0.4 -5.1l-1.5 -4.9l-1.9 -3.3l-4 -4l-3.7 -2.4l-2.1 0.6l-4.3 1.8l-3.6 0.9l-2.7 0l-2.4 -0.8l-3.7 -0.3l-4.7 1.6l-5.5 1.4l-4.8 2.8l-1.9 1.5l-1.4 2l-1.6 1.7l-2.1 2l-1.4 1.6l-1.4 2.2l-3.8 3.7l2.1 -2.1l1.7 -3.6l2.3 -3.6l4.2 -4.8l5.4 -3.3l2.5 -1.3l2.2 -1l2.2 -0.9l2.9 0.3l4.9 0.2l4.4 3.1l1.6 4l0.7 3.1l-1.7 2.5l-1.5 2.6l-3.1 3.9l-3.2 3.5l-3.6 2.3l-5.7 2.5l-1.4 1.2l-2.4 1.6l-3.2 2.1l-1.9 1l-1.6 1.5l-2.6 2.7l-5.6 -0.5l-3.1 -1.2l-4.8 -0.3l-3.3 -0.9l-2.8 -1.8l-0.7 -1.5l-0.9 -2.1l-0.5 -2.1l1.5 2.6l1.2 3.7l2 -4.1l0.1 -2.7l0 -4.1l1.1 -5.8l0.8 -6l0.7 -3.8l-0.6 -3.3l-0.1 -1.6l0.2 -2.5l0.8 -1.7l-1.3 -0.6l-4 0.9l-2.9 0.5l-1.2 0l5.2 -3.4l5.2 0.6l3.8 0.2l1.9 1.6l3.8 -0.4l3.6 0.4l3.3 2.7l4.4 2.4l1.3 -4l-0.2 -0.1l-2.4 2.8l-2.4 4.4l-2.2 3.2l-0.9 1.9l-2.8 5.7l1.1 6.1l-0.7 1.9l-3.2 5.3l-1.6 1.8l-1.7 3.3l1.2 2.2l2.6 4.3l1.4 2.1l1.2 1.2l3.1 3.3l2 -3.6l1.7 -5l1.8 -3.9l2.6 -4.9l2.3 -4.5l2.9 -4.6l3.7 -4.1l3.9 -4l1.7 -2.2l2.1 -2.9l0.9 -2.1l2.6 -3.1l3.4 -3.3l1.4 1l3.6 4l4.5 2.9l3.3 2.2l2 2.8l3.2 2l3 3.5l1.3 1.9l2.1 3.7l2.3 2l2.2 1.2l-0.2 3.3l-3 4l-1.2 1.6l-1.2 1.6l-1.7 2.2l-2.3 3.5l-1 2.3l-2.6 5.5l-2.1 5l-2.3 1l-2.7 1.3l-1.3 1.2l-3.9 2l-2.6 1.9l-5.5 1.6l-3.6 0.8l-2.1 1.3l-1.7 1l-3.1 2.5l-3.1 4.2l-3.2 3.3l-1.1 1.7l-2.3 2.4l-2.6 4.3l-5.7 -1.5l-3.3 0.7l-3.3 0.7l-4.2 0.8l-3.8 0.5l-2.8 0.2l-1 -2.3l1 -2.9l1.2 -2.7l1.5 -3.3l0.8 -2.6l1.6 -5.5l0 -4.4l-0.4 -2.9l0.5 -3.1l0.8 -3.7l-4.2 1.5l-2.3 1.1l-2.1 1.4l-0.2 3.8l2.1 4.4l-0.4 2.9l-0.6 2.8l-0.5 4.8l2.6 1.5l0.4 1.6l0.6 2.3l-1.2 5.4l-0.9 1.1l-2.3 -4.8l-2.1 -3.8l-1 -6l0.7 -2.3l1.8 -4.2l1 -1.7l2.5 -3.2l1.6 -2.6l2.5 -3.8l2.7 -4.2l2 -5.9l3.3 -4l1.1 -1.2l2.4 -4.8l1.7 -6.1l4.6 -2.6l2.4 -0.5l2.2 -0.4l2.3 -0.4l5.6 -1.5l3.6 -1.6l2.6 -0.9l2.6 -1.2l5.5 -2.7l5.4 -3.1l4.8 -2.2l5.6 -0.9l6.1 -0.2l5 0l4.1 -0.1l1.7 0.4l4.8 1.2l3.3 4.8l0.5 4.1l-2.1 1.3l-3.8 3.6l-2 2.7l-2.6 5.5l-3.4 5.1l-2.4 3.6l-3.3 3.2l-3.4 2.9l-1.3 1.5l-2.7 4.5l-2.6 5l-3.7 4.1l-2.3 2.9l-1.2 2.5l-1.3 2.4l-1.2 1.4l-3.2 3.6l-3.8 4.7l-1.2 2.2l-2.1 1.3l-5.5 -0.9l-4.5 -1.2l-2.1 -0.9l-3.3 -1.4l-4.4 -0.1l-1.7 -0.4l-5.9 -0.6l-3.9 -0.9l-3.1 -1.4l1.1 -5.7l1.3 -5l0.6 -2.6l1 -2l2.3 -3.4l5.8 -2.1l3.7 -0.7l2.7 -0.4l5.2 0.3l3.1 0.2l1.6 0.1l2.4 -0.3l3.9 0.8l2.6 0.3l2.2 -0.3l2.2 -2.8l1.7 -2l1.3 -1.9l2.4 -3.3l1.9 -2l2.6 -3.6l2.2 -2l1.8 -1.4l-0.8 -3.9l0 -3.3l-1.8 -4.3l-1.1 -3.2l3.6 -1.7l4.8 -3l3 -1.9l5.5 -1l2.6 -1.5l2.8 3.6l1.7 1.6l2.7 2.4l1.9 2.6l0.8 2.9l-0.1 1.8l-0.3 3.8l0.2 2.6l0.2 2.2l-1.2 5.1l-0.6 2.3l-1.3 4.2l-0.7 4l-0.5 2l-0.7 4.3l-0.1 2.6l-0.2 2l-0.2 5.1l-0.2 1.6l-0.1 5.6l-2.4 1.5l-4.5 3.7l-3.1 3l-2.5 -0.5l-3.4 -0.4l-4.7 -1.5l-4.2 -0.7l-4.5 -2.2l-2.3 -1.7l-2.7 -2l-1.6 0.5l-5 2.6l-4.8 3.1l-3.2 1.6l-4.8 0.9l-3 -1.5l-0.3 2l-2.4 0.5l-2.3 -1l-4.1 -0.6l-2.4 0.1l-2 0.8l-2.9 1.4l-2.6 -3.8l-4.7 -3.5l-2.1 -4.2l-2.9 -4.4l-1.3 -3.7l1 -2.9l1.5 -3.8l0.6 -3.3l0.3 -5.5l0 -1.9l0.1 -2.8l0.2 -5.4l1.1 -5l4.8 -3.1l5.7 -1.4l2.3 -0.8l3.1 -0.6l2 -0.3l0.9 -3.1l1.8 -3l1.2 -1.8l1.2 -1.4l-1.7 -1.9l-1.9 -1.8l-1.9 -1l-5.6 -2.9l-4.9 -2l-4.5 -1.9l-5.4 -0.8l-1.6 -0.5l1.5 -3.7l0.7 -3.2l-0.1 -2l0.2 -2.6l0.4 -2.6l1.9 5.2l-0.9 6.1l-3.3 3.2l-1.5 2.5l2 2.2l2.9 2.6l3 5.6l-1.4 -2.8l-4.2 2.3l0.1 1.6l3.1 0.8l5 0.7l3.2 0.2l2.8 0l3.4 0.1l4.7 0.6l4.6 -0.5l2.2 0.5l2.1 0.5l2.5 0.8l3.6 1.1l3.4 2.3l4 2.3l4.6 2.1l4.4 1.2l1.9 0.2l5.8 2l3.4 1.4l-0.3 1.5l-3.2 -0.6l-1.9 -0.3l-2.6 -1.1l-3.3 -1.5l-2.9 -2.8l-3.7 -4.5l-2.8 -3.2l-2.7 -3.7l-1.3 -3.8l0.3 3.9l-4 -2.5l-2.3 -2l-2.1 -1l-4.1 -1l-4 0.1l-2.5 0.1l-1 -3.4l-3.2 -5l-2.3 -2l-2.2 -2.8l-3.6 -3.4l-5.1 -1.7l-1.8 -1.1l-1.7 -1.1l-3.4 0l-0.1 -0.9l3.6 2.4l3.4 1.9l4.3 2.1l3.5 1.6l5.2 2.1l2.2 0.3l3.4 0.6l1.9 1.1l4 0.2l5.1 0.4l2.2 -0.1l5.8 0.7l1.9 0.6l5.4 2.3l3.9 2.4l4.1 2.5l4.4 1.8l4.1 2.2l2.6 1.2l5.3 2.3l2.4 0.6l4.2 4.8l2.6 2.6l1.3 1.3l2.3 2.3l2.7 3.6l1.6 5.3l0.6 3.7l0.7 3.8l2.1 4l-0.5 5.5l-2.9 5.1l-0.5 2.8l-1.3 5.5l-1.8 3.2l-2.6 3.4l-3.7 0.2l-3.5 0.3l-4.7 0.2l-2.5 0.4l-4.1 -3.6l-2.2 -2.5l-3.5 -4.2l-4.3 -4.7l-0.7 -1.6l-1 -6.2l-0.2 -1.8l-1 -6l-0.6 -2.1l-2.3 -4.9l-2.5 -3.3l-1.4 -3l-0.7 -2.2l-0.7 -2.5l-0.6 -3.9l-0.5 -6.3l-1.2 -5.7l-0.6 -3.1l-0.9 -5.3l-1.2 -4.3l-0.9 -1.3l-2.3 -3l-4.6 -2l-5.2 0.1l-5.4 0l-6.1 1.4l-3.3 0.5l-5.4 1.8l-1.6 -0.3l-3.4 0.6l-2.9 1.1l1.6 2.2l1.4 -1.9l1.9 -5.1l0.2 -2.4l-4 -0.7l-1.9 -0.7l5.5 2.3l5.9 -0.2l2.2 0.4l1.9 0.3l4.3 1.2l1.9 -0.2l2.2 -0.9l5.8 -1.6l5.1 1.1l2.3 0.9l5.8 2.3l3.7 0.3l2.7 0.1l1.7 -0.5l1.9 -0.1l1.6 -0.5l2.9 3.2l1.4 1.7l1.6 1.5l-1.5 2.7l1.5 1.4l1.7 0.9l6.1 1.3l4.7 0.8l4.5 0.1l3.4 -0.6l4.3 -0.8l1.9 0l4 -0.4l-3.3 -2.9l-1.4 -0.9l-2 -1.3l-3.7 -2.1l-1.8 -1.2l-1.8 -3l-2.5 -0.9l-2.3 -0.9l-4.8 -0.7l-4.2 -1.1l-4.5 0.5l-3.5 0l-2.7 1.6l-4.6 2.9l-4 3.4l-1.4 1.3l-1.8 5.7l-0.8 1.9l-1.8 1.2l-3 1.4l-5 2.8l-3.1 1.5l-5.4 0.9l-6 0.3l-3 -0.5l-0.9 2.3l-1.7 5.5l1.5 2.9l2 4l1.2 1.6l1.5 3.6l1 2.4l0.7 1.6l1.9 6l1.2 4.4l-1.8 2.1l-2.4 5.1l-1 2.8l-2.6 5.1l-2.7 3.3l-5 2.8l-2.4 5.6l-0.1 2.8l-0.1 2.8l2.4 0.3l1 -1.6l1.3 -3.9l0.9 -1.5l2.3 -4.9l1.7 -5.4l1.8 -3l0.8 -1.6l0.7 -3.2l0.5 -2.7l0.2 -2.7l0.4 -6.2l0.9 -3.6l3.6 -2.6l4.3 -3.1l2.4 -2l-1.8 -2.4l-2.3 -4.2l-0.9 -1.9l-3 -4.6l-4.1 -4.1l0.4 4.9l-0.3 5.9l-1 3.3l2.5 5.6l1.4 2.2l1.2 4l2.2 5.4l2.7 5.1l0.9 1.4l1.1 3.2l1.8 4l1.2 1.5l3.1 -1.9l2 -3.1l1.4 -2.9l1.5 -3.2l1.4 -5l2 -3.7l2.1 -3l3.3 0.7l4.6 0.2l1.1 -1.3l1.5 -1.3l2.2 -1.3l3 -3l4.7 -3.8l4.2 -1.8l4 -2.1l6 -1.3l2.7 -0.7l4.4 -0.8l4.8 -0.4l3.2 1.2l2.6 0.9l-4.9 -0.3l-5.3 -1l-5.2 -0.7l0.1 2.2l1.4 5.8l0.5 4.3l1.1 5.8l0.8 2.9l1.5 5.9l0.5 2.4l-3.7 2.5l-2.3 1.9l-1.7 0.8l-1.3 1.4l-5.2 2.2l-3.7 1.7l-5.5 -0.5l-5.6 -0.6l-4.9 -2l-1.8 -1.2l-2.3 -2.2l-2.7 -4.5l-0.4 -1.8l-0.3 -3.3l0.2 -4.8l0.6 -2.6l0.8 -4.7l0.2 -5.6l0.9 -5.5l0.5 -5.3l0 -4.9l-0.3 -1.8l-0.3 -1.6l-0.7 -3.1l-1.1 -3.4l-3.4 0.6l-4.9 1.4l-5.2 1.7l-2.1 2.2l-2.1 1.5l-2.6 3l-3.3 3l-2.4 2.3l-3.4 1.4l-3.8 0.4l-3.6 0.3l-4.4 1.2l-0.7 0.5l4.5 -2.5l4.5 -2.5l5.9 -1.6l5.2 -2l3.4 -0.1l2.1 0.1l3 0.9l4.6 2.1l6.1 2.1l-5 2.4l-4.3 2.5l-3 1.9l1.1 6.3l1.7 5.8l-0.9 5l-0.5 5l-0.1 3.3l0.1 2.2l2.6 1.6l3.8 3.6l5.5 -1.1l4.4 -0.9l6.1 -0.6l6.2 -0.5l5 -1.1l5.7 -0.7l2.3 -0.4l2.1 0.3l1.8 0.2l3.6 -0.6l3.3 -1.3l4.2 -1.5l2.8 -1.3l1.2 -3.2l2.4 -3.7l0 -3.8l-0.8 -1.7l0.1 -2.1l0.2 -5.1l-2.6 -5.7l-2 -0.9l-2.1 -1l-6.1 -0.8l-3.7 -0.3l-2.8 0.4l-2.8 -0.4l-6 -0.3l-5.2 -1.3l-5.8 -0.1l-6.3 -0.9l-4.3 -1.5l-3.7 -1.4l-3.2 -1.3l-3.5 -1.9l-5.3 -1.3l-5.3 -1.9l-4.5 -2.2l-4.8 -3.3l-2.7 -1.6l-3 -3.6l-2.4 -4.1l-0.7 -2.1l-1.3 -2.8l-2.9 -2.7l-1.5 4.9l-0.3 5l0.9 2.3l-0.1 3.2l1.2 4.8l0.4 2l0.6 4.9l0.2 5.4l-0.3 2.9l-1.2 4.3l1.9 3.4l1.9 4l0.8 4l0.5 4.3l-1.4 5.1l-0.6 4.4l-1.2 2.2l-0.4 3l0.7 2.2l0.5 2.8l1.4 4.4l1.5 3.2l3.3 4.2l3.9 2l4.7 1.2l1.8 0.8l1.8 0.4l5.7 0.7l2.2 -0.3l1.6 -1.5l2.8 -1.9l2.5 -2.1l2.8 -2.4l1.1 -1.2l1.9 -1.2l3.7 -3.9l1.7 -2.2l1.5 -1l4.8 -4l3.9 -1.6l3.1 -1.1l0.9 -2.1l0.5 -6l0 -5.3l0.3 -5l0.4 -2.5l1.2 -4.5l1.5 -3.3l1.3 -3.8l1.6 -5.8l-0.7 -3.7l6.1 -1.9l1.8 -0.9l0.9 -2.8l1.3 -3.2l0.2 -3.5l-0.7 -3l-1.8 -3.1l-3 -5.4l-3.8 1.1l-2 0.1l-4.3 0.4l-1.8 0.6l-4.6 2.3l-3.3 0.5l-6 1.3l-5.9 0.7l-3.4 0.3l-5.3 -0.3l-5.4 -0.2l-1.8 0.2l3.3 0.4l1.6 0.3l5.1 0.7l5.3 3.1l2.1 2.6l1.7 2.4l3.8 3.7l2.6 2.4l3.6 3.5l3.5 2.3l1.7 1.5l4 3.7l3.3 2.9l-2.5 -0.3l-2.6 -0.2l-2.4 -0.4l-4.4 1.5l-2.6 0.3l2 -1.9l4 -3.6l4.1 -3.4l2.7 -3.5l1.3 -3.7l1.5 -3.8l0.7 -4.5l0.9 -2.6l1.3 -3.8l1.5 -3.8l1.6 0.9l1.5 0.6l5.5 1.7l4.9 1.5l5 -1.5l3.7 -0.6l0.6 -3.2l2.1 -4l-4.7 -0.6l-3.3 2.1l-5.2 0.3l-2.9 0.6l-2 2.8l-3.3 3.7l-1.9 1.9l-4.3 2.5l-2.9 2.1l-3.6 4.3l-3.4 2.9l-2.1 2.9l-1.9 1.8l-2.6 -0.6l-0.6 4.1l-1.5 5.9l-3.9 -2.7l-3.1 1.5l-1.7 0l1.6 1.5l4.2 4l2.5 4.4l2 2.2l1.5 1.7l1.1 1.4l-4.1 -4.8l-1 -1.6l-1.4 -2.2l-3 -5.3l-1.6 -2.2l-2.9 -4l-1.6 -0.9l-5.6 -0.5l-5.8 -1l-2.8 -3l-1.7 -1.3l-3.1 -2.8l0.6 -6.2l-0.4 -2.8l-0.9 -4.3l0.1 -1.9l-1.6 -1.4l-5.5 -1.8l-5.7 -1.4l-2.8 -1.3l-1.4 1.2l-3.6 2.3l-1.3 0.3l4.7 -1.9l2.3 -0.8l3.7 -0.1l1.7 0.7l5.5 2.2l5.1 3.5l4 4.7l2.9 5.6l1.8 3.6l0.4 2.6l4.2 3l3.5 1.9l3.7 1.2l4.1 -0.4l5.7 -0.2l3.4 -0.6l2.4 -0.2l2.2 -0.6l3.5 -1l2.8 -0.9l5.3 -1.7l3.3 -1.7l1.5 2.7l1.6 2.9l3.4 4.7l3.4 2.3l0.9 1.6l2.2 4.4l3.6 2.6l2.4 2.3l1.6 1.3l0.2 0.9l-5.4 0.5l-3.5 -0.5l-2.1 0l-2.5 -0.3l-2 -0.7l-4.6 -2.6l-1.9 -1.5l-2.4 -2.2l-2 -1.8l-1.5 -1l-4.2 -2.6l-3.5 -1.5l-5 -1.8l-4 -0.8l-4.8 -1.4l-2.7 -1.6l-3.1 -1l-4 -3.1l-1.4 -1.2l-4.1 -3.7l-4 -3.4l-2.7 -5.7l-1.1 -1.9l-2.9 -1.7l-4.8 -3.4l2.2 1.3l4.7 3.9l-3.3 5.2l-2.4 3.1l-1.3 3.9l-0.7 1.8l0 6.3l1 2.7l0.7 3l2.2 2.2l3.1 2.1l2.7 1.8l3.5 2.2l2.6 1.3l3.9 2.2l1.7 0.8l1.3 1l3.4 1.8l5.3 1.7l3.3 0.8l5.6 2.1l2.3 0.9l4.4 1.1l4.4 1.8l5.7 0.8l3.3 -0.7l4.1 -0.6l4.3 -1.2l6 -0.9l3.8 -1l1.3 -0.5l-5.6 -2.2l-4.2 -0.9l-4.7 -0.1l-2.1 -0.6l-4.1 -1l-4.4 -1l-4.2 -1.3l-3.9 -0.1l-3.1 -0.3l-5.7 -2.4l-4.7 0.6l-4.7 1.2l-2.3 0.7l-4.1 0.8l-2.6 0.8l-5.3 2.3l-2.6 2.7l-0.9 1.3l2.6 3.6l2.9 2.5l4.9 3.8l5.5 2.9l3.1 2.1l1.8 1l1.4 0.9l1.9 1.6l2.8 -1.3l1.7 -1l1.7 -1.6l2.9 -4l1.6 -1.4l1 -2.1l2.9 -4.3l2.6 -4.5l0.7 -1.9l1.2 -2.4l0.8 -2.2l0.8 -2.4l0.3 -3.3l1.2 -4.2l0.5 -6.1l2 2l1.4 2l2.9 2.6l1.9 1.3l3.2 4.9l1.7 2.5l2.4 3l2.4 1.9l1.5 0.8l3.9 1.7l0.6 3l-2.2 3.6l-5.7 0.3l-4 -1.1l-5.2 -2.3l-5.7 -1l-3.8 2.1l-2.2 -0.3l-6 0.7l-2.9 0.2l-5.4 0.2l-3.6 0.3l1.6 -3l2.3 -4.8l2.3 -2.6l3.6 -5.1l1.3 -1.9l0.9 -3l1.6 -3.7l2.1 4.4l3.5 3.4l4.1 4l2.4 1.9l1.3 1.6l2.8 3.8l0.7 1.7l1.9 3.9l1 1.8l1.4 1.9l-4.2 1l-2 0.4l-2 0.5l-6 0.4l-1.9 0.1l-4.6 0l-4.7 -0.9l-3 -0.1l-5.3 -0.1l-2.9 -0.4l-3.1 -0.1l-1.7 -0.4l-5.7 1.3l-6.1 1.5l-5.3 0l-3.6 0.6l-1.8 0.2l-6.4 0.3l-3.3 0.5l-6 2.1l-4 0.9l1.8 -0.4l2.4 -4.3l3.4 -3.6l-1.2 -1.2l-2.3 -1l-3.1 -1.7l0.5 2.4l3.6 4.4l2.4 5.6l-3.4 4.8l-2.4 2.8l-1 3.3l1.4 5.5l0.6 3.9l-0.1 2.1l0.9 -2.1l-0.7 -4.6l-0.3 -1.6l2.8 3.8l2.5 3.1l1.6 2l2.7 -1.6l4.4 -3.6l1.9 -2.5l3.3 -5l1.2 -2.3l4.3 2.9l2.9 2.9l3.9 2l5 2.6l2.6 0.2l4 -3.8l1.3 -1.1l2.5 -1.4l2 1.2l3.7 2.5l1.7 1.2l3.3 2.5l2.7 -3.1l-4.3 -4.3l-2.9 2.3l-2.1 1.7l-2.8 1.7l-1.4 0.9l-1.7 -1.5l-1.3 -1.7l-1.6 -2l-2.2 -1.7l-2.1 -2.9l-1.5 -1.5l-3 -2.7l-4.8 -3.1l-2.5 -1.3l-3.1 -2.5l-3.4 -3.1l-3.9 -4.6l-3.5 -0.5l-5.4 0.1l-2.3 -0.2l-1.6 -0.8l-4.7 -3l2.3 -0.6l3.8 -1.5l2.2 -0.8l5.8 -1.4l2 -0.2l3.1 0l2 -0.1l4.7 -0.4l5.2 1.2l2.1 0.6l4.1 0.6l2 0.3l2.6 -0.6l6 -1.8l4.1 -0.8l4.4 -0.1l4.1 0l3.9 0.3l1.7 0.4l6.1 0.8l1.8 0.5l4.2 0.7l2.2 1.1l3.4 0.8l1.7 0.6l3.3 0.6l3 1.1l2.4 1.4l-1.7 3.4l-2.1 3.2l-0.9 3.6l-0.2 2.7l-0.5 2.8l-0.7 3.3l2.7 3.6l1.4 4.6l0.1 5.4l1 2.3l1.4 -5.9l-0.1 -2.7l-0.3 -3.5l-0.1 -5.7l0.2 -4.8l0 -2.5l-0.6 -3.5l0.6 -6l-1 -3.7l-0.1 -1.3l-2.9 -4.9l-0.5 -1.9l-0.2 -2.2l0 -3.5l0 -6.4l-1.8 -5.9l-2.6 -4.3l-2.8 -4.8l2 1.2l2.7 1.5l2.4 1.5l1.8 1l4.4 -0.8l-5.3 2.2l-5.2 2.9l-4.8 3.5l-4.1 2.8l-1.7 0.9l-3.3 2.1l-3.7 1.2l-3.2 0l-3.8 -0.7l-5 -1.3l-4.9 -2.4l-1.3 -1.3l-4.6 -3.9l-1.7 -1.4l-2.6 -2.8l-4.1 -4.1l-3.1 -2.5l-3.5 -1.9l-1.1 -1.4l-1.6 -2.9l-3.1 -4.8l-1.2 -2.7l-1.1 -1.8l-0.5 -2.5l-1.3 1.1l-2.7 1.7l-1.9 1.1l-2.8 1.5l-2.4 1.6l-2.4 1.4l-1.9 1.6l-4.3 3.3l-1.2 5.2l1.2 5l0.3 6.3l0.1 2l1.5 6l-1.4 -0.3l1.2 -2.1l1.2 -4.6l0.3 -3.1l0.2 -4.4l0.2 -2.3l0.2 -4.2l0.4 -6.3l0.4 -2.2l5.4 -1.2l4.1 -1.2l4 -0.6l3.1 -0.3l4.6 -0.4l3.9 0l4.5 -0.7l2 -0.4l2.7 -1l4.3 -2.7l2.3 0l3.3 1.3l2.9 -0.5l1 -1.3l1.8 1.8l3.8 4.3l2.6 4.7l3.5 2.6l5.4 3.2l1.2 1.2l-0.1 4.5l-1.2 2.4l-1.7 4.5l-1.2 2.6l-1.8 5.8l-2.3 5.8l-2.1 2.3l-4.7 3.6l-2.4 2.1l-3.8 2.4l-2.2 1.3l-1.7 1.6l-3.9 3.6l-3.8 4.2l-4.3 2.4l-4.6 2.5l-1.7 1.3l-1.3 1.1l-1.8 1.8l-3.2 4.8l-1.6 4.1l-1.4 2.5l-1.4 2.5l-4.8 2l-4.8 0.3l-2.8 1l-3.8 -0.9l-2.6 1.3l-1.1 0.5l4.3 -0.3l3.5 -3.5l4 -2.2l4.4 -1l2.6 -0.1l4.8 0.8l4 -0.2l1.8 0.7l3.3 1.8l4.1 0.7l2.6 -0.2l5.5 -2.6l-3.1 -3l-1.5 -2.2l-2.6 -4.2l-3.7 -4l-2.1 -5.8l1.2 -4.2l1 -1.5l2.6 -3.5l2.4 -3.1l4.5 -3.9l4.4 -3.1l-4.3 -2.7l-2.4 -1.5l-1.5 -0.7l-5.6 -2.4l-3.3 -1.9l-2.3 -1.9l1.1 -3.7l1.5 -5.3l2.5 -1.6l1.9 -2.1l4.3 -3.6l3.9 -4.8l4.2 -3.9l2.2 -2.1l3.2 -3.8l2.4 -1.2l4.9 -0.9l2 -0.2l4.1 -0.6l2.8 3.2l3.4 4.1l4.2 3l1.9 1.2l4.6 2.7l3.5 4.1l4 1.9l5.3 0.1l-4.6 0.8l-2.1 2.2l-1.4 1.4l-3 4.1l-4.5 2.8l-3.3 3.1l-3.3 4.3l-3.8 2.4l-2.1 1.1l-4.1 1.2l-3.6 2.4l-3.4 4.3l-2.1 5.2l-2.6 4.7l-4.3 3.6l-4.4 4.5l-2.8 2.7l-2.3 1.3l-5 -3.7l-4.1 -2.1l-3.2 -2.3l-1.8 -2.1l0.6 -5.2l0.3 -6.2l3.4 -0.8l-3.6 -4l4.3 3.6l3.9 3.3l2.1 1.7l0.7 2.5l1.8 2.9l1.8 5.7l0.8 1.6l0.1 1.9l1.8 5.6l0.7 1.7l1.6 5.4l-0.4 5.8l0.5 -1.9l0.5 -5.6l-0.4 -3.4l0.3 -3.6l-2.1 5.1l-5.5 2.3l-3.1 0.6l-2.1 0.5l-2 -2.8l-2.2 -4.6l-2.5 -2.8l-1.2 -1.2l0.7 -1.5l1.8 -3l1.3 -1.1l4.2 -3.8l3.1 -3.4l1.4 -1.6l3.3 -4.9l2 -4.2l-4.2 3.1l-3.8 3.8l-3.5 1.3l-1.3 1l-3.2 2.8l-1.1 1.5l-2.5 5.3l-1.1 1.3" fill="none" stroke="#000" stroke-width="0.52" stroke-linejoin="round" opacity="0.9"/>
<path d="M152.45 122.11L150.44 121.44L153.06 122.14L155.33 124.59L153.59 120.13L150.86 120.08L153.35 123.65L153.59 122.34L152.71 124.18L152.25 121.86L152.64 121.38L152.11 119.71L154.67 122.13M126.2 122.41L124.1 120.86L124.39 121.99L126.29 123.77L125.77 122.38L127.08 121.68L127.05 121.01L126.56 123.2L128.47 122.71L125.72 123.87L125.74 123.23L127.95 122.1L125.29 122.3M67.43 208.55L68.49 209.67L67.38 207.59L66.08 207.07L66.87 211.25L67.27 207.93L70.43 206.72L66.12 208.09L70.13 208.42L67.86 206.01L68.08 208.8L66.42 206.52L67.31 209.5M153.18 204.13L153.2 201.35L153.62 202.9L150.18 202.45L154.04 202.41L154.32 201.84L153.89 206.3L152.91 204.47L153.31 201.13L154.45 201.96L152.1 205.87L152.52 202.5L151.96 205.48M153.51 120.04L155.16 118.24L153.92 119.22L154.17 118.53L152.35 121.66L154.15 118.57L150.66 121.85L151.99 120.14L151.74 118.56L151.69 120.73L150.51 123.04L154.56 121.3L155.08 120.97M154.65 123.55L151.65 121.82L154.46 124.43L157.1 123.07L151.68 124.09L157.65 123.09L156.43 124.6L152.84 126.55L153.04 123.74L153.8 122.77L155.15 123.4L154.54 122.79L153.93 122.5M152.16 125.72L152.83 128.23L151.25 127.16L154.2 125.94L151.87 126.15L151.01 124.86L152.91 124.93L155.16 127.9L151.46 125.16L152.13 126.56L152.56 124.1L150.84 125.38L152.81 124.95M62.63 205.47L63.86 204.89L61.85 202.75L65.63 207.24L61.06 204.92L61.72 203.59L63.35 206.17L60.72 208.2L64.32 204.85L62.85 203.66L61.28 206.65L62.19 203.88L64.26 204.38M116.46 202.26L115.96 203.39L117.2 204.47L119.46 203.76L116.26 204.73L116.03 204.58L114.97 203.31L116.57 200.62L116.34 205.26L114.95 200.47L117.31 200.71L119.07 202.12L117.96 203.44M152.48 206.06L151.42 205.55L153.73 208.78L151.72 203.06L152.79 205.73L154.27 206.19L150.96 206.59L152.35 206.32L153.23 205.61L152.06 206.6L152.78 207.75L149.48 207.81L151.51 205.46M89.48 150.15L92.32 151.54L90.85 150.38L88.24 149.81L90.81 147.15L90.51 150.17L88.74 151.52L90.59 149.93L90.22 150.5L90.96 148.84L88.08 148.68L88.42 149.95L88.83 150.37M64.77 123.14L64.62 123.48L63.64 126.14L67.77 124.66L63.5 120.24L65.06 120.14L66.27 123.68L66.98 126.14L65.66 120.17L65.82 124.07L66.27 121.41L65.69 120.93L64.08 123.66M61.6 124.58L62.21 126.7L61.7 125.39L63.64 123.83L61.72 123.69L60.58 122.44L64.16 123.29L62.21 125.46L60.25 122.44L61.32 126.13L61.75 123.72L61.16 125.36L60.18 121.8M111.72 202.34L112.65 203.1L113.72 200.6L111.67 200.89L108.72 201.79L112.01 203.75L113.38 201.79L109.82 200.7L114.59 203.39L111.68 202.71L111.08 199.39L113.92 204.16L110.85 203.15M64.96 203.96L63.06 204.72L64.28 205.43L66.63 204.83L65.61 203.49L66.27 205.63L64.5 202.9L62.4 205.29L67.16 206.27L67.81 204.99L64.38 204.79L67.78 204.12L65.23 204.33M153.65 118.49L150.91 117.98L154.35 118.24L156.57 117.35L155.23 117.01L152.87 119.48L153.25 119.02L152.6 117.98L154.83 117.85L153.34 118.21L155.23 117.44L153.49 119.4L152.87 117.55M63.31 120.16L62 119.08L62.46 120.28L66.37 116.98L64.91 119.08L60.18 118.58L63.81 118.85L61.89 120.16L63.64 120.64L65.27 118.75L66.09 119.58L62.99 120.45L63.64 119.23L66.53 119.14L60.63 119.04L63.54 123.21L61.12 119.06M155.58 119.92L155.85 120.59L156.16 117.51L154.54 116.12L157.79 123.39L157.7 121.15L154.32 120.88L155.13 120.91L156.03 118.77L154.07 121.21L153.65 121.79L154.91 120.2L157.6 119.43L157.5 121.17L151.9 123.08L153.21 119.71L154.89 120.27M154.93 203.37L152.18 202.89L158.14 201.86L154.61 200.45L157.61 201.87L156.75 205.02L155.07 202.29L154.55 203.35L153.87 201.17L158.73 204.19L153.19 207.17L154.05 203.68L155.01 207.17L155.73 203.61L154.98 200.53L153.53 205.79L151.13 201.25" fill="none" stroke="#000" stroke-width="0.5"/>
<rect x="173.75" y="104.5" width="110.5" height="110.5" fill="#fff" stroke="#f08888" stroke-width="1"/>
<rect x="202" y="130.5" width="55" height="56" fill="none" stroke="#6464f4" stroke-width="0.8"/>
<path d="M188.2 119.8l-1.6 0.5l-4.1 2.5l-2.1 -2.3l5.7 -2.3l2 -1.5l5.1 -3.6l3.1 -0.7l3.6 -0.5l1.7 1.4l6.2 0.1l1.6 -0.1l-2.8 5.7l-2.4 4l-1.1 2.1l-4.1 2.9l-4.3 3.9l-2.5 3.9l-0.9 4.3l3.9 3.7l1.9 0.8l4.1 0.5l4.9 0.2l3.4 0.2l3.1 -0.7l3.5 -1.1l3.8 -0.7l4.2 0.1l4.1 -1.1l2 -1l2.7 -1.2l4.5 -1.4l2.6 -1.2l2.7 -1l4.9 -2.5l5.7 -1.4l4.4 -2.4l4.6 -1.6l3.4 -2.1l2.2 -1.9l4 -2.8l0.4 -2l0.3 -5.2l-0.6 -3.8l-0.6 3.3l-1.3 5.4l-1.7 3.5l-1 2l-1.3 1.7l-1.3 2.7l-0.8 2.3l-0.1 3.2l-0.2 2.8l-0.1 3l1 6.1l1.8 4.7l2.9 4.1l2.1 2.8l1.3 1.3l1.7 2.6l-3.9 1.5l-4.6 3.7l-3.3 3.3l-2.7 3.1l-4 4.1l-1.3 2.3l-2.1 4.3l-5 3.8l-4.2 4l-3 3l-1.6 1.9l-3.1 1.8l-5.7 0.8l-4.7 0.8l-5.6 0.3l-3.1 0.1l-1.9 0.2l-4.8 0.6l-2.4 -0.1l-2.4 0.5l-2.3 1l-2.2 1l-2 0.5l-3.6 1.6l-2.3 0.6l-5.6 -0.5l-5 -1.3l-2.4 -0.4l1.4 -2.2l2.3 -5.4l2.3 -4.4l0.9 -6l0.8 -4.8l0.1 -3.1l-0.8 -3.4l-0.3 -1.6l-0.3 -2.9l0.2 -2.1l0.2 -2l0.8 -2.1l1.8 -3.3l2.8 -5.5l0.3 -1.7l2.2 -3.8l0.8 -3.4l0.4 -3.9l1.6 -4.3l1.4 -3.4l2.9 -3.9l2.4 -1.5l4.6 -1.3l2.3 -0.3l3.3 -1l6 1.5l2.7 -0.1l5.7 -0.7l3.2 -1.1l1.8 -0.7l2.1 -1.8l4.4 -1.5l3.5 -1.4l4.2 -1.8l3.8 -2.1l4.3 -3.3l5.5 -0.5l3.3 4l3.4 2l3.9 3.2l1.9 2l1.9 1.7l0.2 2.3l-3.2 1.7l-2.6 5.3l-1.8 2.7l-1.8 1.6l-3.3 3.8l-3.5 4.6l-2.6 2.8l-2.4 3.5l-2.2 2.9l-1.8 2.5l-4 4.6l-0.9 1.6l-1 4.6l-1 5.6l-1.5 3.7l2.8 2.6l2 2.8l3.2 5.5l3.6 4.2l2.1 4l2.6 5.8l1.6 2.2l3.6 1.2l3.8 -1.5l4.1 -3.1l3 -0.1l2.9 -1.7l-1.7 -5.6l-0.1 -5.2l0.1 -3.1l-0.7 -5.6l-4 -2.9l-1.5 -1l-2.4 -2l-4.2 -4.4l-2.2 -2.3l-2.1 -2.8l-4.5 -4.5l-2.3 -4l-1.6 -4.9l-0.1 -2.6l-1.5 -3.2l-0.8 -2.1l-0.6 -3.3l-1 -5.2l0.1 -4.1l0 -4l0.6 -6.2l0.6 -6.1l-0.9 -2.7l-0.8 2.4l-1.8 2.7l-2.1 1.7l-4.2 3.4l-2.4 4.7l-0.8 2.1l-2.1 4.1l-2.7 4.4l-3.4 3.2l-2.7 3.6l-1.7 1.5l-3.7 3.9l-3.7 3.1l-2 1.3l-3.4 2.7l-1.8 2.8l-5 3.9l-4.8 1.2l-1.8 0.3l-5.3 1.5l-2.7 1.2l-1.4 1.2l-1.4 2.4l-1.1 4.6l-0.5 6.2l-0.1 5.5l0.5 3.2l-0.1 2.6l-1.4 5.9l-1.5 5.8l-0.9 2.7l-0.4 -4.2l3.8 -4.1l3.9 -3.2l2.1 -1.1l5.5 -1.7l5.2 -1.5l4.3 0l2.9 0.1l4.4 -1.6l2.2 -0.6l2.8 -0.5l5.8 0.3l2.7 0l6 1.6l5 2.6l4.2 3.2l5.2 2.8l2.2 0.5l-3.8 3.8l-2.9 -1.4l-4.2 -1.4l-5 -2.7l-1.8 -1.4l-4.1 -4.9l-1.9 -1.6l-4.3 -4.7l-1.8 0.1l-1.8 0.1l-2.1 -0.3l-3.5 -0.4l-2.3 -0.2l-3.9 -1.1l-4.8 -1.2l-2.8 -0.8l-1.6 -0.9l-3.4 -3.2l-2.1 -2l-4.5 -3.4l-1.1 -2.2l-1.4 -4l0.7 -1.9l1.1 -5.3l-0.9 1.2l1.9 2.1l1.1 3.9l-1.2 4.7l1.2 1.9l2.1 4.7l2.8 5.1l2.2 5.5l0.6 4.6l0.6 3.5l-0.3 5.1l0.8 2.9l0.1 1.8l-0.1 -0.3l-3.9 -2.8l-4.2 -2.5l-1.9 -2.2l1.3 -5.6l0.2 -1.7l0.4 -2.4l0.6 -2.8l-1.9 3.3l-1.6 1.6l-2.5 3.5l5 3.4l2.8 1.4l2 0.9l2.9 0.9l4.6 2.6l1.9 2.5l2 0.7l5 -2.7l3.2 -0.9l4.3 -1.8l5.3 -1.1l3.2 -0.7l3.6 -0.5l5.5 -1.9l4.1 -4.3l4.5 -3.3l0.6 -3.6l0.7 -4.8l-3.1 3.3l-2.9 4.3l-0.6 2.3l-2.9 2.6l-3.5 2.8l-2.7 1.1l-0.8 4l-1.8 2.5l-2.5 -1.1l-3.6 -1.2l-4.8 -3l-1.7 -1.5l-4.7 -2.8l-3.4 -2.4l-4.8 -1.5l-4.3 -0.5l-4.8 -1.1l-4.9 -0.7l-3.3 -0.4l3.8 -2.9l4.2 -1.9l4.1 -4l5 -4l3.6 -2.8l1 -3.5l1.9 -5.3l1.6 -3.1l3.1 -3.5l3.4 -3.9l3.4 -3.9l2.7 -3.3l1.6 -3l2.7 -2.7l4.6 -3.2l6 -1.1l2.8 -0.7l3.8 -0.6l-1.9 4l-2.2 2.8l-1.5 2.6l1.8 2.4l2.4 4.9l3.4 5.1l3.1 4l4.6 3.7l3.8 1.8l5.5 1.2l1.4 0.8l2.4 0.5l5.4 -1.7l3.5 -1.3l2.1 -4.8l-1.5 -3.9l-3.2 -4.1l-3.2 -4l-1.3 -2.8l-1.9 -3.7l-2.1 -5.1l4.1 3.6l1.1 1.7l1.2 1.6l1.9 3.4l1.5 2.9l1 1.5l1 2.4l0.4 2.4l0 2.9l-1.5 4.5l-1 1.5l0.8 4l0.9 4.8l0.1 2.1l1.3 6l-4.1 2.6l-5 3.8l-2.3 1.3l-4.8 3.4l-4.3 0.8l-5.3 0.8l-2.3 -0.4l-2.1 0.1l-2.7 0.4l-5.4 0.2l-6 -0.9l-3.6 -0.5l-5.3 1l0.5 5.2l0.1 1.7l0.1 1.7l2.3 0l-1.8 -1.7l-1.9 -0.9l-3.3 -0.4l-1.7 0.1l-4.8 0.6l-6.1 -0.6l-5.6 -1.1l-3.8 -1.9l-5.2 -1.4l-4.7 -1.1l-4.3 4.5l-0.6 1.6l1.8 1.4l2 2.2l1.7 2.4l-2.5 -2.1l-2.5 -0.4l-0.5 3.9l1.1 -2.6l2.1 -5.3l1.1 -2l3.5 -3.6l3.1 -2.5l2.8 -0.8l6.1 -0.5l3.9 -0.4l2.7 -0.6l3 -0.2l4.3 -0.9l4.5 0.8l3.8 1.1l4 0l3.5 -0.3l5.1 -0.7l5.8 -2.5l3.1 -1.7l1.2 -1.2l1.2 -1.3l3.7 -2.2l4.9 -2l3.5 -1.3l5.2 -2l3.8 -2.9l2.7 -4.2l3.2 -4.7l0.4 -3.5l-0.3 -3.9l-0.4 -4.7l-1.1 -3.9l-1.6 -4.1l-1 -5.6l-1.6 -5.6l1.8 -3.8l2.1 -5.3l0.7 -3.9l1.1 -2.4l2.3 -4.7l1.8 -3.6l0 -0.3l-3.3 4.5l-3.4 4l-1 3.1l-0.4 2.3l-1.3 4.5l0 1.9l0 2.6l-2 5.4l-0.6 1.9l-1.4 3.3l-4.1 4.6l-2.7 2.9l-2 4.3l-1.9 2.7l-2.5 4.9l-3.6 4.6l-1.1 1.7l-1.9 4.1l-1 3.8l-1.2 2l-3.6 2.7l-2.9 2.4l-5.4 2.9l-2.5 1l-3.8 0.5l-3.2 0.2l-4.1 1.1l-3.9 0.4l-5.1 1.1l-3.8 1.6l2.5 3l4.6 3.6l3.4 3.2l1.6 0.9l3.5 1.5l-0.3 0l3.4 -4l3.3 -2.4l-1.2 2.3l-0.9 2.7l-1.7 1.6l0.4 -5.1l-0.2 -4l-1 -2.4l-1.9 -4.9l-0.9 -1.8l-3.3 -2.7l-1.6 -1.9l-2.1 -2.7l-2.9 -3.3l-2.3 -2.3l-2.2 -3.4l-3.1 -4l-3.2 -5.3l-2 -3.3l-1.3 -2.1l-0.9 -1.4l-0.9 -1.6l-3.5 -3.4l-1.9 -1.5l-2.9 -2.3l-2.1 -1.9l2.9 -2.5l4.6 -3.5l2.1 -1.8l4.5 -2.9l3.1 -4.1l1.3 -1.2l1.3 1.7l2.2 3.6l3 2.2l1.2 2.7l2.5 5.7l1.1 4.2l0.7 2.1l1.7 5.9l1.3 3.4l1.3 2.5l1.2 3l1.4 6l1.5 5.3l1.8 4.5l0.6 2.4l1 2.4l-0.1 4.1l0.5 4.4l0 3.2l0.7 4.5l0.4 4l1.7 -0.7l1.5 -3.8l2.1 -5.7l0.8 -2l1.2 -2.9l3.7 -5.1l2.2 -2.7l2.9 -2.5l1.4 -1.6l4.9 1.3l2.4 0.6l3.2 1.2l5.6 2.9l3.4 1.3l3.4 3.3l1.4 1l3.2 3.7l2.3 5.7l2.3 4.6l0.4 3.9l-0.4 -6.1l-1.3 -6l-1.4 -3.9l-0.6 -5.6l-1.9 -3.8l-1.5 -3l-0.7 -1.5l-0.7 -1.8l-2.4 -4.2l-2.4 -4.8l-1.8 -2.3l-2.9 -2.1l-5.1 -2.5l-2.6 0l-4.5 0.7l-5.9 1.8l-2.1 0.6l-5 -1.3l-3.4 -1.3l-5.3 -1.3l-1.7 -1.5l-2.8 -1.3l-4.3 -2.7l-2.5 -2.3l-4.5 -4.2l-3.1 -3.7l-2.3 -3.3l-2.1 -4.5l-3 -5.2l-1.3 -2.1l-2.4 -4.7l-2.5 -3.6l-1.6 -3l-1.2 -5.3l-2.7 -1.7l-2.4 0.7l-0.6 3.3l-0.1 1.9l0 3.4l1 4.7l-2.1 4.7l4.7 3.2l0.7 1.7l-0.4 4.1l-0.8 4.1l0.1 1.7l-0.9 5.2l0.1 5l-0.1 3l0 5.7l2.3 4.5l1.4 3.9l0.7 2.1l0.5 4.8l-0.5 3.3l-1.1 5l-2.6 4.9l-1.1 4.2l-0.7 4.9l0.3 5.1l1.2 2.1l0 -6.4l0.3 -5.3l0.5 -4.7l0.6 -4l0 -3.5l0.5 -5.2l0.1 -2.9l0.5 -3.5l0.8 -5.3l0.8 -1.5l3.7 -3.6l3.2 -2.1l1.4 -1.3l3.7 -4.1l2.3 -2.3l2.2 -4.1l1.8 -5.8l1.3 -2.8l1.5 -4.2l0.9 -1.7l2.6 -5.3l1.8 -3.8l2.9 -3.6l4.1 -4.7l1.6 -2.1l3 -0.2l2.1 0l3 0.8l3.5 0.7l4.7 -0.3l1.9 -0.6l3.7 -0.9l2.5 0.7l3.7 1l2.1 1.2l4.9 2.6l1.9 3.2l1.8 3.1l3.3 3.3l3 4.8l1.5 4.3l0.8 1.8l1 4.6l0 2.1l0.7 5l0.4 5l-0.1 3.9l-4.9 2l-6.3 1.1l-5.1 2.5l-4.3 1.8l-2.8 1.1l-4.8 1.2l-2.8 0.6l-3 0l-4.7 0.5l-3.7 1.7l-1.8 0.6l-1.5 0.9l-4 0.7l-4.5 -0.6l-2.1 -0.6l-5 0.3l-3 0.3l-3.8 0.7l-3.4 1.2l-2.1 1l-4.5 3.3l-2.6 1.6l-2 1.9l-3.5 2.4l-2.1 1l-4 1.7l4.9 1.3l1.7 -2.3l2.1 -4.9l0.5 -2.2l0.9 -3.4l2.2 -4l1.7 -4.8l1.8 -1.8l2.4 -1.4l5.1 -3.1l1.7 -0.6l5.5 -1.4l1.9 -0.1l-0.4 -4.4l0.2 -5.3l0.1 -2.9l0.7 -2.8l2.3 -4.2l1.4 -1.9l2.2 -3.1l2.1 -2l3.5 -3.8l2.9 -2.5l5 -3.6l3.7 -1.5l3.8 -2.1l5.3 -3.2l2.1 -1l1.8 -1.1l0.4 2.2l-0.3 5.3l-1.3 4.7l-0.9 4l-1 4.6l-1.1 2.9l-1.2 4.8l-0.9 3.7l-0.6 1.6l-0.6 4.2l0 2.3l0 2.8l-1.1 6.1l-0.9 5.1l-4 1.6l-4.5 -0.4l-4.7 -0.1l-3.8 0l-4.5 0.1l-2.2 0.9l-4.9 1.9l-4.2 1.3l-4.4 0.7l-4.7 1.2l-4.6 1.5l-2.9 1.8l-3.8 2.7l-1.3 1.3l-2.8 2.6l-1.9 1l0 5.1l1.5 3.1l2.3 4.3l0.8 1.7l2.9 4.8l1.3 0.4l-3.4 -3.1l-4.4 -3.8l0.9 -4l0.2 -3.1l0.4 -2.9l0.3 -3.9l1.1 -5.2l0.8 -5.5l0.1 -2.4l-0.7 -1.8l-0.9 -6.3l0.9 -5.6l-0.1 -5.9l0.1 -2.2l-0.4 -3.6l0.3 -1.9l1 -1.8l2.6 -4.5l1.9 -1.3l1.8 -1.5l4.4 -2.5l5.9 -1.1l3.7 -1.8l2.1 -1.6l3.3 -2.4l3 -3.7l3.1 -2.3l4.6 -2.7l3.5 -1.8l3.5 -0.2l2.8 0.6l-2.8 1.7l-1.8 1.2l-2.6 1.8l-1.8 0.3l-5.1 2.2l-2.8 0.7l-5.9 1.6l-3.7 0l-2.7 -0.3l-3 -0.2l-4.5 0.2l-5.8 1.9l-2 0.8l-5.6 1.7l-2.8 4.9l2.9 0.2l3.9 0.5l4.4 3.3l3.1 2.7l2.4 1.3l5.7 1.8l2.3 0.5l5.7 2.7l2.2 2.2l-1.7 -3l-1.8 -4.6l-0.9 -2.2l-1.6 -2.8l-1.3 -1.8l1.7 1.3l4.5 1.8l3.2 2.4l5.4 2.8l2 2.4l-3 -0.2l-4.1 -1.3l-1.7 -0.8l-3.6 -1.1l-4.2 0.6l-2.5 0.4l-5.2 0.3l-1.9 -0.2l-3.6 -0.4l-6.2 -0.7l-4.9 0.4l0 1.4l4.3 2.6l2.6 1.3l1.3 1.5l3.5 2.8l1.6 1.7l3.1 3.6l1.5 1.4l4.4 2.2l4 1.6l4.8 1.7l5 2.2l3 0.6l6.3 -0.1l2.4 0.2l3.4 0.3l5.3 2.2l2.4 2l4.9 2.6l5.5 3.2l1.2 1.4l3.1 4.7l1.6 1.3l3.8 3l2.1 1.1l1.7 0.9l5.9 2.4l1.7 2.7l2.6 5.1l1.8 5.2l0.1 1.3l-0.1 -2.8l-0.1 -2.8l0 -3.6l-0.3 -4.3l-2.2 -4.2l-1.6 -2.8l-1.6 -5.2l-1.4 -4.3l-1 -1.9l-2.2 -4.5l-0.8 -4.4l-1 -2.3l-1.2 -5.2l-0.7 -2l-1.1 -2.1l-2.5 -3.7l0.4 -5.3l0.4 -3.5l0.6 -3.1l1.2 -5.1l0.1 -4.4l-0.2 -4.3l-1.1 -2.5l-1.7 -3.8l-2 -3.4l-2.4 -1.4l-1.4 -0.9l-2.5 -0.6l-2.4 -0.9l-3.6 -0.1l-5 2l-1.6 0.2l-5.2 -0.9l-3.4 -0.1l-4.1 0l-2.9 0.1l-2 0.4l-3.4 0.8l-4.2 0.8l-3 1.6l1.8 3.2l1.1 3.4l2.2 3.5l4.6 4.3l1.8 2.6l1.9 2.1l3.2 2.3l1.3 1l3.4 3.5l1.8 1.9l2 5.8l1.8 2.6l2.4 4.7l-3.7 -3.2l-3.9 -4l-1.9 -2.2l-2.3 -2l-4.9 -3.6l-2.7 -3.2l-1.6 -1.2l-1.9 -1.6l-5.2 -2.6l0.3 -3.9l0.4 -4.1l0.1 -2.3l0.6 -2.5l-1.7 -0.4l-4.8 -0.4l-2.7 -0.5l-4.9 -1.9l-5.4 -1.4l-2.7 -0.2l-2.9 -1.4l-4.4 -3.8l-1.7 -1l-2.6 -1l3.6 2.2l4.8 3.3l0.7 2.4l0.7 1.9l3.1 5.4l1.2 1.2l0.9 2.3l0.8 3.4l1.2 3.5l1.5 3l2.2 4.2l2.3 2.2l2.3 1.7l1.4 1.4l1.5 2.1l1.6 1.8l3 5.1l1.6 4.7l1.1 3.1l1.4 2.3l0.9 2.3l0.9 1.9l2.8 4.5l1.1 1.3l2.7 2.6l1.2 1.4l2.7 2.2l4.4 4l1.5 1.7l2.2 4l0.8 4.3l0.1 2.6l0.1 4l3.9 1.5l2.5 -3.6l2.7 -3.3l4.3 4l2.2 0.4l5.5 0.6l2.9 0.3l5.4 2.1l5.4 2.3l3 -3.4l3.3 -3.8l-1 -2l-0.5 -5.5l-0.1 -2.5l-1.1 -2.3l-2.5 -3.6l-1.7 -3.6l-0.9 -4.4l-0.6 -2l-1.5 -2.9l-1.3 -2.6l-2.3 -2.4l-2.9 -5.6l-3 -4.3l-2.6 -5.2l-0.6 -2.2l-0.2 -2.5l-1.1 -3.4l-1.7 -5.1l1.7 1.4l4.7 2.1l-0.1 3l0 4.6l0.1 3.3l0.3 3.6l1.1 6.1l4.4 -0.9l3.4 -1.3l1.8 -0.3l2.4 -1.1l1.7 -1.9l-4.4 -2.1l-4.6 -1.3l-3.2 -0.5l-3.5 -0.4l-1.6 -0.1l-4.9 -0.6l-2 -0.3l-4 -0.5l-3.1 0.8l-2.4 1.1l-2.2 0.4l-4.8 0.7l-3.4 0.6l-5.7 0.8l-3.2 0l-0.5 -1.7l-0.7 -3.7l0.2 -3.9l-0.8 -4.6l-1.2 -4.3l0.1 -2.3l0.1 -4.3l-1.4 -3.9l-1.9 -2.3l-0.7 -1.5l-1.8 -5.4l0.1 -3.6l-2.5 -2.3l-4.9 0.8l-3.7 2l-6.2 0.8l-1.9 2.5l-4.2 3l-2.4 3.1l-2.5 3.8l-0.9 2.4l-0.6 2.6l-0.9 2.6l1.2 3.8l-0.4 2.2l0.2 5.7l0.5 1.6l0.5 2.6l3.8 2l3.5 1.5l-3.5 -2.8l-4.9 -3.8l-0.7 -4.2l0.7 -3.7l1.9 -3.5l0.9 -1.8l2 -3.9l0.9 -4l1 -3.9l2.6 -5l1.7 -4.9l1.2 -2l2.9 -1.8l2.1 1.9l2.3 -0.1l2.6 0.7l5.8 1l4.5 1.1l4.1 1.1l-1 2.3l-1.5 2.9l-3.5 4.1l-4.6 4.5l-1.7 2.5l-1.6 2l-1.6 2.4l-3 5.5l-2.2 2.7l-1.3 2.3l-1.1 5.7l-1.2 4.4l-0.8 4.4l-0.5 4.3l-0.8 4.6l-2.1 5.5l-1.8 4.3l-0.5 4.3l-1 6.1l-1.7 2l-1.5 1.4l-3.3 3.5l-0.8 3.5l3.2 -0.9l2.7 2.7l1.8 2.2l3.2 1l5.3 1.1l3.3 -1.4l2.2 -0.4l2.8 0.4l1.9 1.1l2.3 -1.2l4.4 -1l2.7 -0.2l4.5 -2.8l5.3 -2.8l3.1 -0.8l2.3 -0.2l4.9 -0.3l3.9 -2.2l3.1 -0.7l2.3 -0.1l2.7 -0.1l1.8 -0.1l2.6 0.8l4.5 0.9l3.4 0.1l5.2 1.3l2.9 -0.2l3.2 0.4l3 0.1l1.8 -3.4l-1.7 -2.2l0.6 -1.7l0.6 -3.9l-1.9 -5.2l-0.2 -2.1l0 -3.5l1 -5.5l-0.3 -4.1l-0.6 -3.8l-0.7 -2.3l-3.1 -4.3l-2.9 -4.5l-2.9 -1.7l-2.6 -2.8l-1.5 -3.2l-1.6 -5l0.3 -2.7l0.9 -4.1l0.6 -3l0.4 -4.8l-0.1 -2.4l-0.1 -5.9l1.6 -1.2l3.3 -1.3l4.6 -0.2l5.7 2.1l1 2.4l-3.3 0.7l-5.4 2.5l-6 1.1l-5.7 1.6l-2.1 0.7l-3.6 0.8l-2.5 0.6l-5.3 2.1l-0.6 3.4l-0.2 3.1l0.3 3.2l0.2 2.3l1.2 3.2l3 5l1.8 5.1l-0.1 5l-0.5 1.9l-1 3.1l-1.3 4.2l-1.5 2.3l-1.7 3.3l-2.4 3.6l-1.4 1.7l-1.9 4.1l-1.2 2.3l-1 3.3l-0.6 4.1l0.5 3.9l2.2 1l2.8 0.8l2.4 0.4l2.4 0.4l2.5 0.2l4.9 0.2l2.1 0.2l2.3 -0.2l5.3 -1.3l4.3 -0.4l4.3 -0.1l2.3 0l3.8 0.3l-5.9 -2l-4.7 -1.6l-3.2 -1l-2.8 -2l-4.1 -2.6l-4.7 -3.7l-3.6 -2.2l-2 -1.2l-1.6 -0.8l-2.9 -3l-0.9 -3l-0.4 -2.7l-0.4 -4.9l-0.4 -4.3l0.1 -1.7l0.6 -5.9l0.2 -2.9l0.4 -3.6l-0.2 -2.8l-1.6 -5.8l-1.3 -4.4l-1.7 -5.7l0.3 -4.1l0.4 -6.2l1 -5.7l1.2 0l5 0.3l5 0l5.9 0.9l2 0.5l2.9 0.8l5.5 3.2l3.9 2l4.3 2.4l3.5 2.2l-2.6 1.4l-2.4 0.8l-1.9 0.5l-3.4 -0.3l-5.5 -0.9l-4 0.3l-5.8 0.9l-1.6 0.3l-2.7 0.7l-1.9 2.1l-2.8 2.2l-3.4 2.2l1.7 6.1l0.1 6.3l0.1 1.7l-0.6 3l-1.9 4.5l-5.1 1l-5 2l5.6 0l4 0.3l4 -0.5l2 -0.7l4.6 -3.5l4.9 -2.8l2.6 0.9l2 1.3l5.4 1.4l2.6 -0.8l1.6 -0.9l5.1 -3.9l1.5 -2.7l1.7 2.7l-1.7 2.3l-1.3 1.7l-1.4 1.4l-2.1 1.7l-4.5 3.8l-1.3 1l-3.8 2.4l-3.5 0.6l-6 2.4l-1.4 1.7l-0.6 1.6l-5.5 2.9l-3.6 2.1l-2.3 1.2l-2.7 1.4l-5.4 3l-4.2 4.3l-4 5l-3.5 2.6l-2 1.7l-5 2.3l-2.7 1.6l-2.4 2.3l-3.2 2.6l-3.5 1.1l-4.9 1.5l-3.6 0.6l-5.1 -0.1l-3.6 0.2l-1.5 -0.1l4.8 1.2l0.5 -3.8l0.4 -4.1l1.6 -5.1l-1.2 4.2l-1.5 3.4l1 4.7l-2.8 -0.8l0.8 -1.4l1 -4l1.5 -3l1.3 -4.5l1.8 -3.8l4.3 -4.4l4 -3.4l2.9 -1.5l2.2 -1.4l2 -2.3l-3.3 0.1l-5.1 -0.2l-2.6 -0.4l-2.9 0.6l-5.9 1.3l-1.1 4.2l1 3.5l0.7 4l1.1 6.1l-1 6l0 4.9l-0.4 -0.4l3.6 -5l3.7 -1.2l2.8 -0.5l3.1 -0.3l3.7 -1l5.2 -0.2l5.5 -1.6l4.1 -1.5l5.4 -0.5l5.2 -0.8l2.9 -0.2l4.9 0.9l2.4 0.8l5.7 0l4.2 0l4.3 -1.4l3.9 -1.1l3.6 -0.9l1.7 -0.5l1.8 -0.2l4.1 -0.7l1.9 0.1l3.3 -0.4l1.4 -1.5l1.3 -4.5l0 -5.7l-0.2 -4l-1.1 -5l-1.1 -5.9l-0.7 -4l-1.8 -3.1l-2.1 -6l-2.3 -3.4l-3.4 0.7l-4.4 2.4l-4.6 1.6l-5.1 2.6l-1.8 1.4l5.9 1.3l5.8 1.9l2.9 0.9l5.7 2.3l2.6 1.2l4.1 1.5l2.8 3.2l1.1 6l-1.4 2.5l-1.5 1.3l-3.9 4.4l-4.3 4l-4.7 2.6l-1.1 1.1l-1.2 -4.3l-1.5 -5.2l-2.3 -6l-0.8 -1.9l-3.1 -3.6l-1.4 -1.7l-2.3 -1.6l-3.1 -1.4l-2.9 -2.5l-4 -1.8l-4.1 -2.5l-2.2 -0.8l-3.8 -1.2l-2.7 -0.5l-3.6 -0.8l-1.9 0.1l-5.1 0.4l-5.5 0.4l-2.3 0.4l-3.2 -0.8l-3 -0.4l-3.4 -0.7l-2.1 -0.1l-3.6 0.9l-3.3 1.3l-2.6 0.3l-1.8 0.8l2.8 1.2l5.8 1.8l3.7 2.1l6 1.9l4 1.1l2.8 0.8l4.2 1.2l5.3 1.6l6.2 0.2l3.9 0.3l5.5 0.5l5.8 -0.6l2.1 -0.1l6 -1.4l4.2 0.3l5.4 -1l3.8 -0.7l0 1.7l1.5 3.4l1.8 5.7l1.3 2.9l1.5 2.9l1.2 2.7l0.2 3.2l1.3 5.3l-0.5 2.5l-0.8 6l1.5 4.1l1.2 -4.8l0.2 -2.1l0.4 -1.8l0.6 -1.6l0.1 -2.6l-0.3 -4.5l0 -5.7l0.8 -4.3l0.5 -4.7l0.5 -3.7l0 -1.8l0.2 -5.2l-0.2 -3.7l0 -2.4l-0.4 -2.8l-0.4 -2.4l-0.2 -4.4l0 -5l0.1 -3.9l0.6 -3.4l-0.6 -5.6l-1.3 -5.8l0.1 -2.8l0.3 -2.4l0.9 -5.6l0 -2.2l-1.2 -3l-1.3 1.1l-2.8 0.8l1.7 0.1l2.8 0.9l3 0.5l4.7 0.9l-4 -0.4l-4.9 -2.1l-2.7 -0.2l-4.4 1.5l-5.4 0.5l-5.5 0.3l-5.8 -0.2l-6.1 -0.4l-3.2 0.8l-2.4 5.3l-2.2 5.4l-0.7 1.8l-3.3 4l-3.9 4l-2.1 2.1l-4.8 4l-4.5 3.8l-3.4 2.9l-2.7 1.5l-2.1 1.5l-1.2 1.2l-3.4 3.6l-4.8 3.7l-2.1 2.4l-4.1 2.8l-5 2.4l-0.7 2l1.7 0.7l2.4 0.4l2.1 0.2l1.8 -0.3l4.3 -0.6l4.9 -0.6l3.4 -2.4l3.1 -2.2l1.6 -0.8l3.7 -2.2l5.6 -1.7l4.6 -0.7l2.9 -0.8l5.6 -1.7l3.1 -4.3l2.4 -2l3.7 -5.2l3.7 -4.9l3.7 -2.6l0.8 -3.3l0.3 -2.6l0.9 -1.5l1.1 -2.2l2.1 1.2l2.9 2.8l1.9 2.7l1.3 1.5l2.1 5.5l2.5 3.6l2.1 3.5l-3.8 4.4l-3 2l-2 4.9l-1.8 1.5l-2 2l-3.4 2.2l-4 2.4l-2.6 1.5l-2.3 1.7l-3.4 1.2l-2.2 1.1l-3.2 0.4l-5.4 0.5l2.1 2l1.6 3.3l1.5 1.6l1.5 3.1l3.1 2.7l1.9 1.7l3.9 4.3l4.6 4.4l2.1 2.7l2 2.7l3.2 1.8l1.7 1.1l1.6 1.5l1.8 -0.3l1.8 -1.2l2.6 -1.5l4.2 -0.8l5.4 -0.4l5.7 0.3l0.2 1.7l-5 1.6l-3.6 1.9l-1.5 0.4l-2.5 -0.1l-5.7 -1.7l-4.8 -2l-4.5 -1.8l-1.6 -0.3l-4.5 -0.6l-3.5 -1l-4.6 -0.1l1.7 -0.9l4.5 -2.4l3.9 -4.1l1.5 -2.1l3.7 1.6l5.5 2.1l2.9 1.2l4.6 1l2.8 0.1l6.1 -1.7l2.3 -1.3l-2.1 2.1l-1.8 0.8l-3.3 0.8l-4.8 3.3l-6 -1.3l-2.3 -1l-3.5 -1.5l-5.4 -0.9l-2.5 0l-1.9 -0.1l-4.9 -0.6l-2.1 -0.3l-2.6 -0.8l-3.3 -0.8l-1.8 -0.6l-3 -1.3l-3.5 -1.4l-2.1 -0.8l-5.3 -1.8l-5.4 -1.5l-5.3 -2.6l-1.5 -0.7l-1.4 -0.9l-2 -1.4l-2.9 -1.5l-1.6 -0.7" fill="none" stroke="#000" stroke-width="0.52" stroke-linejoin="round" opacity="0.9"/>
<path d="M270.7 204.34L269.85 206L272.07 202.77L271.63 206.46L273.7 204.83L272.07 202.18L269.53 206.14L270.39 202.45L270.2 205.04L271.62 202.78L270.88 205.52L269.1 203.01L268.67 202.51M187.24 202.49L188.32 203.6L188.64 201.24L189.76 203.88L188.24 203.74L188.47 203.95L184.93 202.87L184.55 200.84L187.93 201.42L189.94 204.01L184.65 202.79L185.61 204L184.39 200.68M225.19 133.1L223.57 133.34L224.33 134.01L226.75 131.79L223.82 130.1L225.29 134L224.6 133.63L225.21 133.13L225.59 132.19L223.29 133.36L226.25 131.44L227.19 134.01L222.3 134.67M244.45 141.4L245.91 140.57L244.13 139.49L244.17 142.59L244.18 142.85L245.43 142.08L245.94 140.22L244.86 141.62L246.2 142.74L243.7 140.88L242.18 142.81L241.45 140.54L245.17 141.74M213.1 142.6L211.83 143.84L214.99 144.15L212.74 145.22L212.61 143.4L216.1 141.47L214.91 143.42L213.03 142.53L214.48 144.33L213.33 143.87L211.55 140.95L211.39 141.75L213.24 141.82M227.8 163.03L228.8 161.74L229.92 163.41L226.12 161.47L228.18 160.82L230.8 161.06L225.8 164.15L226.7 163.15L228.84 162.32L226.48 162.15L225.8 165.65L225.69 161.54L229.95 163.18M184.77 211.59L183.82 210.93L182.48 209.35L187.5 213.36L184.6 210.41L186.22 211.31L184.19 212.16L186.05 210.61L184.41 211.58L182.14 212.55L185.56 211.51L186.12 213.52L185.01 211.48M271.07 201.77L272.14 204.65L270.85 200.2L271.43 198.77L273.75 202.92L269.17 203.32L270.05 202.44L273.43 203.77L268.79 202.78L270.09 201.85L268.65 201.47L270.21 201.78L269.37 202.27M272.4 207.22L272.83 208.81L270.67 207.2L272.98 206.32L275.4 206.95L273.06 205.89L275.4 205.64L270.83 207.08L271.98 208.91L272.95 206.05L274.02 205.81L271.12 206.49L271.84 209.12M187.64 113.89L186.09 112.84L184.64 115.86L186.56 115.28L185.9 113.85L189.48 112.63L186.96 114.54L188.39 114.53L187.9 116.89L186.86 116.24L188.39 113.56L189.07 112.68L188.74 116.66M275.11 205.68L277.43 204.3L273.22 206.53L273.56 204.67L275.47 203.62L276.51 204.98L275.11 204.57L274.21 207.72L275.66 204.69L272.81 205.58L274.67 203.17L276.36 204.35L276.83 206.65M271.6 113.47L269.3 112.63L271.92 114.77L269.28 112.15L271.71 113.47L270.02 111.04L271.69 110.47L272.8 116.19L271.31 115.16L271.49 113.9L273.51 114.16L274.16 113.28L270.47 113.21M230.49 120.12L231.64 117.69L230.14 121.92L232.37 117.61L230.45 120.25L231.72 118.85L228.24 118.5L229.69 120.72L229.49 120.24L232.03 120.63L230.89 121.12L229.95 117.12L229.95 117.65M230.88 156.61L231.13 157.52L232.61 159.61L227.88 157.25L230.85 157.89L230.94 155.4L231.24 155.42L228.73 153.61L230.93 159.02L233.01 155.01L232.13 157.36L228.83 155.89L229.99 159.61M183.53 119.64L183.5 119.36L181.56 118.54L182.24 119.04L184.03 118.68L180.74 120.02L183.08 118.39L182.7 118.96L183.56 120.96L182.67 119.74L184.32 119.78L183.38 121.34L183.23 120.89M203.09 190.64L203.2 192.35L204.95 190.04L200.7 189.38L202.84 191.47L204.42 191.13L204.23 192.32L203.14 189.33L203.38 189.4L201.46 189.71L200.14 190.64L203.68 191.91L202.4 190.86M183.3 115.99L181.61 115.75L182.98 117.61L184.78 115.6L180.7 112.19L182.88 119.5L183.59 116.35L181.36 113.64L182.6 112.19L180.78 115.87L181.52 116.81L181.07 117.81L183.56 118.77L180.17 115.63L182.83 115.53L184.36 116.84L185.1 118.24M185.76 206.65L182.65 206.39L183.27 209.94L188.59 205.8L188.56 207.27L186.27 206.15L186.25 205.99L184.41 205.43L184.63 206.32L186.81 208.23L183.33 206.33L182.88 206.57L184.64 207.88L184.92 203.9L184.88 209.06L187.61 207.68L185.45 204.99M273.79 205.92L274.06 205.59L272 203.48L271.34 202.12L273.99 208.39L272.79 205.58L274.66 205.34L273.61 204.5L273.45 204.97L275.23 205.35L277.3 204.08L276.74 206.65L272.11 207.79L272.96 205.27L272.15 203.98L272.41 207.69L270.99 208.71" fill="none" stroke="#000" stroke-width="0.5"/>
<rect x="53.25" y="222" width="111.5" height="110" fill="#fff" stroke="#f08888" stroke-width="1"/>
<rect x="82.25" y="247.5" width="54.75" height="55.75" fill="none" stroke="#6464f4" stroke-width="0.8"/>
<path d="M67.8 239.9l0.1 2.5l1.3 3.9l0.8 2.2l2.2 5.7l1.2 3.2l3.6 5.2l1.6 1.9l1.8 1.5l4.9 3.7l4.2 3.5l1.5 2.1l3.5 2.8l2.8 1.6l1.8 0.8l1.5 0.4l1.9 0.6l4 0.9l5.5 2.4l2.5 1l1.6 1.2l2.4 2.1l3.4 4.5l2.9 5l1.1 2.9l1.5 3.7l0 4.8l1.4 5.7l1.1 2.8l0.3 5.1l0 1.8l2 -3.2l2.3 -2.8l3.5 -4.8l3.1 4.6l2.3 5.1l5 2.8l4.5 -0.5l4.5 -2.2l0.4 -0.5l-4.5 -1.1l-3.6 0.1l-4.8 -1.1l-3.3 -1.2l-3.1 -0.1l-2.2 -0.2l-4.2 -1l-5.6 -0.9l-4.9 0.8l-4.2 0.9l-2.7 0.8l-4.9 0.9l-1.2 -1.6l-0.8 -2.7l-1.5 -4.9l-3.1 -4.3l-1.9 -2.6l-2.6 -3.7l-3.4 -4.8l-3.2 -2.4l-5 -1.5l-4.8 -2l-3.5 -0.3l-4.3 -0.9l-2.4 -1.4l-1.4 -1l-3.7 -3.5l-3.6 -3.1l2 -1.4l1.8 -1.4l2 -3.6l2.1 -4.1l0.9 -3.6l0.6 -2.9l0 -4.3l-0.1 -3.8l0.5 -4.7l-1.1 -5l-0.7 -5.2l4.4 0.2l3.4 0.3l3.6 0.8l0.3 -6.2l0.1 -2.2l-0.8 -0.9l-2.5 5.3l-0.8 1.7l-0.9 2.9l-0.7 2l-1.1 3.3l-1.7 3.1l-1.7 3.5l-1.8 2.8l-0.9 2.4l-3.2 4.7l-4 4.1l-1.4 2.3l1.6 4.7l-0.6 3.2l-0.5 5.5l-0.1 4.2l4 -4.4l4.6 -3.4l3.6 -1.9l3.2 -2.8l3.2 -1.9l2.9 -2.8l-3.5 -0.9l2.1 -3.2l2.2 -2.1l2.1 -2.7l1.6 -1.4l1.9 -2.3l0.1 -2.4l-0.9 -2.7l-1.2 -1.6l-1.8 -2.7l-2.1 -2.9l-1.2 -1.9l-2.7 -3.5l-2.2 -3.4l-1 -3l-1.6 -1.2l-3.1 -0.7l3 2.7l5.3 2.6l4.9 3l3.3 3l3.6 5.2l1.7 3.2l2.7 1.4l5.4 2.7l3.9 0.8l2.1 0.2l-4.2 3.6l-5.6 1.2l-6.2 -0.3l-6.2 -0.3l-2.1 -0.2l-2.4 -0.2l-3.6 -0.8l0.6 2.8l0.8 4.9l0 4.4l-0.7 3.3l-1 2.4l-1.2 1.9l-3.7 2.3l-4.8 2.8l-2.7 1.2l-1.8 1.7l2.2 0.6l1.3 1.8l1.9 2.9l2.5 2l3.6 1.2l2.6 0.9l5.1 1.1l4.3 0.5l4.7 0.8l3.1 1.2l4.9 2.1l3 3.3l3.2 4.9l2.9 3.8l2.8 3.4l2.6 1.5l2.8 1.1l3.1 0.4l0.8 1.7l3.1 -3.3l2.5 -4.4l1.4 -4.6l1.9 -3.9l1.4 -2.7l1.2 -4.9l2 -3.7l3.5 -5.1l1.5 -2.5l2.1 1.5l2.8 1.9l1.6 1l2.7 2.9l2.7 3.4l1.9 4.4l0.5 1.7l1.6 5.7l1.2 4.4l-3.2 2.2l-4.2 3l-3.8 3.3l-4.9 2.1l-5.4 -0.1l-3.7 -0.5l-2.2 -1.5l-4.7 0.2l-4.4 1.1l-3.2 -1.4l-2.5 -2.1l-2.4 -1.9l-5.3 -1.7l-2.3 -0.5l-5.3 -1.4l-3.6 -0.4l-4.1 -0.3l-5.3 0.1l-5.6 0.5l-2.2 0l-5.4 -0.6l-2.2 -0.7l-3.4 -0.2l-3.5 -1.2l-4.1 0.3l4.4 -3.2l2.3 -1.9l3.5 -2.5l4.7 -2.8l3.9 -2.9l2.4 -5.3l1.4 -3.6l4 -4.5l1.2 1.3l3.6 3.7l3.2 1.8l4.8 3.7l4.8 2.8l2.1 1.7l3.5 2.4l5.3 2.7l2.8 0.9l3 0.7l2.4 0l-2.4 2l-3.6 4.3l-5 3.8l-3 2.1l-5.4 1.2l-4.3 -1.1l-4.6 -0.9l-3.4 -0.8l-5.4 0l-4.3 0.5l-6 -0.1l-2.6 0.1l-4.9 -1l-4.6 -2.1l-3.8 -0.9l3 2.2l2.8 5.1l5.1 2.9l2 1l3.2 -1l3 -2.2l1.8 -1.3l4.6 -2.8l4.1 -4l3.3 -1.9l3.9 -0.6l4.6 -2l3.8 -2.9l1.3 -1l2.4 -2.7l0.7 -1.6l2.1 -5l1.2 -4.1l0.9 -2.7l2.2 -4.7l1.6 -2.6l4.9 -1.4l2.4 -0.9l4.6 -3.4l0.9 -3.3l2.9 -4l0.5 -1.9l0.7 -2.1l0 -2.5l-1.4 -3.1l-2.5 -5.2l-3.2 -3.3l-5.4 -0.7l-2.9 0.4l1.1 5.4l2.1 4.8l3.6 0.5l4.4 1.9l3.5 3l1.7 2.2l3.3 5.3l2 3.6l3.5 3.7l2.8 5.6l2.5 3l1.1 4.6l0.4 3.7l0.9 6l0.5 5.2l-0.4 4.5l0.3 5.2l2.3 -0.5l3 1l-2.2 4.3l-3.6 1.3l-1.4 -1.2l-2.7 -0.2l-3.9 -1.5l-5.2 -0.8l-3.3 -0.6l0.4 1.7l4 -0.5l4 -0.2l5.8 -0.8l1.8 -1.2l5.2 -1.9l0.9 -4l-1.5 -5l-1.1 -2.2l-1 -5.3l-1 -6.1l-0.8 -3.7l-0.9 -6.1l-0.5 -2.2l-0.3 -2.6l2.2 0.6l2 0.4l2.2 1.6l-3.1 2.5l-1.4 3.1l-0.9 1.4l-2.1 2.1l-3.3 1.7l-3.9 1.3l-1.5 0.9l-2.6 2l-3.6 3.5l-2.7 3l-2.2 2.3l-3.2 2.3l-4.4 2.2l-4.9 1l-3.8 0.4l-2.3 -0.5l-1.9 -0.3l-2.8 0.1l-2.7 0l-2.3 -0.2l-6 -1.6l-5.1 -0.3l-6.1 0l-4.5 0.3l-3.1 -0.5l-6 -0.4l-4.3 -1.3l-2.6 -0.6l-1.1 -4l0.7 -1.7l0.9 -2.7l0.1 -3l1.3 -2.7l2.6 -4.2l4.5 -3.9l3.2 -2.9l2.7 -2.6l2 -2.2l3.1 -3l2.2 -1.2l4.1 -2.6l5.8 -2.1l5.4 -2.8l4.1 -0.8l3.8 -2.4l-0.4 -3.1l0.5 -1.9l1.1 -4.5l1.8 -5.1l2.6 -4.8l2.8 -4.9l1.4 -1.4l2.1 -1.8l1.5 -1.1l2.3 -0.9l2.9 2.4l3.1 1.4l2.2 -1.8l1.7 -2.4l4.7 1.7l4.8 1.2l4.4 0.6l3.2 0.4l2.6 0.6l1.9 3.3l0.7 -2.2l1.3 -6.3l-2.2 -1.4l-5.8 1.3l-4.7 0.1l-3.9 -1.1l-3.1 1.5l-3.2 -1.6l-1.2 4.3l-1.9 5.4l-2.8 5.1l-1.6 4.4l-1.4 3.5l-2.5 3.1l-1.5 1.7l-2.1 1.5l-3 1.1l-4.7 2.6l-4.4 2.1l-3.7 0.5l-1.4 1l-3.2 3.1l-2.1 2.3l-2.7 -2.3l-3.5 -3.4l-5.2 -0.3l-5.2 -0.1l-5.6 -2.7l-3.7 -2l-2.2 -1.1l-3.7 -0.9l-1.6 -2.5l-1.6 -5.4l-0.1 -5.9l2.3 -5.8l0.4 -1.9l1.2 -3.9l-0.1 -2.2l-0.3 -1.6l1.8 1.2l5.2 1.1l2.7 0.4l2.6 0.2l3.8 0.6l5.2 0.4l2.5 -1.1l4.5 -0.3l1.8 3.4l2 1.6l1.7 2l3.3 5.4l1.7 3.9l0.8 1.9l1.6 5.1l1.6 3.1l3.2 4.3l2.4 1.6l-0.9 1.8l-0.6 -2.3l-1.4 -2l-1.9 -4.1l-2.2 -3l-2.8 -4.6l-1.8 -1.7l-6 -1.7l-3.4 -1.1l-5 -1.4l-4.2 -1.1l5.5 3.1l1.9 2.3l3 -5.6l0.6 -3.5l1.2 -5.3l1.6 -0.8l3.3 -1l-4.2 -1.1l-3.2 -0.1l-5.1 0.1l-4.1 0.5l-2 0.7l-5.7 1.3l-4.1 1.3l-5.9 -0.1l-4.8 -0.9l-1.8 0.3l-0.3 -3.3l3.4 -0.6l4.4 4.5l3 2.8l2.7 1.7l4.2 3.9l2 2.1l3.7 3l1.6 2.5l1.2 3.4l2.5 2.5l2.2 3.7l3.4 3.5l2.6 4l3.5 3.4l1.6 1.1l5.1 -2.8l4.7 -3.3l2.9 -1.7l2.6 -2.6l2.2 -0.2l4 -0.9l4.7 -1.2l3.1 -1.3l2.2 -1l2 -0.8l2.4 -1.4l3.4 -1.8l3.4 0l3.2 0.2l2.5 0.1l2.2 0.7l1.5 2.7l2.2 5.9l-1.2 2.4l-0.4 4.4l-1.9 5.4l0.1 5.1l-1.6 4.2l-1.2 4.8l-0.6 2.8l-0.1 3.9l0 1.7l1.3 4.1l-0.8 4.1l5 -3.3l0.9 -1.5l-3.3 3.5l-1.6 0.6l-3.8 1.5l-4.1 1l-2.2 0.4l-3 0.4l-5.8 1.4l-3.5 0.6l-1.8 0.8l-5.4 2.1l-4.2 -1.2l-6 -1.7l3.9 1.3l5.5 0.6l5.5 0.1l3.3 0.6l1.9 -0.1l6 -0.4l4.5 1l4.1 1.4l3.1 1.3l5.2 1.6l3.6 1.5l-2.9 0.9l-5.7 2.4l-1.6 0.8l-3.6 -1.2l-3.6 -2.5l-4 -1.5l-4.5 -1.3l-4.2 -2l-5.6 -3l-3.9 -2.4l-4.6 -2.2l-2.1 -1.6l-1.8 -0.9l-3.3 -1.4l-5.1 -1.5l-4.1 -3.3l-4.6 -3.9l-4.7 -3.4l-4.2 -2.2l-2.6 -1l-4.6 -2.5l-3.9 -1.9l-4.3 -3.2l-4.6 -1.3l-0.8 -4.5l2.7 3.6l1.1 2.3l1.1 1.3l2.4 2.7l1.3 1l2.1 0.8l3.2 1.3l4.8 2.8l2 1.2l3.7 2.5l3.7 2.6l2 1.6l3.3 2.4l2.4 2.2l3.5 3.4l1.9 4.1l1.9 5.1l3 4.7l2.6 1.2l1.6 -4.5l3.2 -1.5l5.7 -0.5l-4.8 -2.9l-1.7 -1.2l-5.3 -2.8l-5 -3l-3.9 -1.1l-1.8 -0.2l-4.8 -0.5l-5.4 -1.1l-1.5 -0.9l-1.6 5.9l-0.5 4.9l-0.5 2.9l-1.3 2.2l-4.7 3.2l-3.5 0.5l-6.4 0.7l4.1 0.5l4.1 -1.3l5.1 -0.6l4.4 0.3l2.6 0.8l1.8 0.4l2.9 0.2l1.5 -1.7l3.7 -2.1l3.1 -1.3l2.6 -1.4l3.2 -1.9l5.7 -1.6l1.1 -2.1l1.2 -2.1l2.3 -4.7l1.7 -2.3l2.6 -2.7l0.6 -1.5l2.8 -3.8l0.3 2.5l0.1 1.6l1 5.2l0.1 2l-0.3 2.4l-0.5 2.1l-0.4 4.6l-0.2 3.7l0.5 5.3l2.5 -3.8l4.4 -2.3l2.6 -1.2l2.8 -0.5l2 -0.4l2.9 0l3.8 0l5.7 0.7l2.5 3.1l1.3 4.2l-2 -4.4l-2.6 -4.1l-3.3 -5l2.3 -0.1l5.1 -1.2l-2.9 -3.6l-2.5 -4.1l-1.2 -5.3l-0.3 -6.2l-0.2 -6.2l-0.2 -1.9l-0.1 -3.8l0.3 -3.7l-0.9 -4.9l-0.1 -3l-0.2 -3.5l-2.1 -4.6l-3.2 -5.5l-1.6 -2.7l-1.3 -2.1l-0.8 -3l-0.6 -3.2l-0.7 -5.5l0.4 -3.8l-0.5 -1.4l1.2 5.9l-0.4 3.7l0 4.6l-0.3 3.2l-1.7 2.6l-2.2 5l1.3 -1.5l2 -2l2.3 -4.7l0.8 -1.9l1.4 -3.1l3 -4.7l1.4 -1.7l5.6 -2.7l1.3 -1.5l2.6 -0.5l-2.8 2.7l-2.9 2.4l-3 0.9l2.4 1.4l2.8 2.5l2.9 3.1l1.1 3l-1 2l0.7 5.5l-3.6 -4.5l-1.2 -3.7l-1 -2.3l-0.7 -6.3l-1.2 -5.6l-1.6 -1.1l-4.3 -0.8l-3.3 0.5l-5.5 2.7l-2.6 1.6l-5 2l-2.4 0.2l-6.2 0.2l-1.6 0.2l-4.5 0.6l-1.9 0.4l1.1 -5.5l-0.3 -0.2l5.3 2.7l2.1 1.5l2.7 1l5.7 1.5l3.9 1.7l2.8 1.6l2.7 2.7l3.2 2.9l3.4 5.2l1.4 1.8l1 2.8l1.6 3.7l1 3.5l0.6 3.7l0.1 3.5l0.2 1.9l0.9 6.2l0.3 1.6l0 4l0.2 3.7l-0.9 3.7l-0.6 -3.5l-1.4 -3.3l-1.9 -5.2l-0.1 -4.1l-1.4 -4l-1.1 -5.8l0.2 -2.1l-0.6 -4.3l-1.9 -5.2l-1.5 -5.3l-0.3 -3.6l0.5 -2.3l0.5 -3.5l0.4 -3.9l-0.3 -5.3l-0.7 -1.7l-0.2 5.9l0 3.4l-0.5 2.6l-0.4 1.7l-2 5.8l-0.5 5.9l1.3 5.9l0.4 5.7l1.2 5.3l0.1 1.6l-0.2 4.5l-0.2 3.9l0 2.8l0.3 6.1l0.3 3.7l0.2 2.5l-0.4 3l-0.5 1.6l-0.3 2.9l-0.5 3.2l-0.1 1.7l-1.2 4.6l-0.6 2.5l-0.7 2.9l-3.2 -3.4l-2.2 -2.3l-4.1 -4.6l-5.1 -3l-3.4 -1.6l-4.2 -2.3l-5.7 -1.7l-4.3 -1.5l-1.7 -0.9l-3.9 -0.8l-5.6 -1.8l-3.1 -0.6l-6 -1.7l-5.7 -1.3l-2.9 -0.8l-5.8 -1.8l-2.4 4.8l-2.6 2.1l-0.2 5.1l1.7 -1.8l1.4 -4.8l0.5 -4.8l-0.5 -3.8l-0.4 -2l0.2 -4.1l0.3 -4.4l1.1 -4.2l0.4 -4.3l-0.9 -4.3l-0.1 -2.4l-1 2.8l-1.1 2.5l-0.7 2.4l-0.3 6.2l0.5 4.7l0.5 4.4l2 4.8l0.7 2.6l0.9 4.9l0.6 3.4l1.7 4.4l0.7 6.3l0.7 5.7l-2 5.9l-2.7 2.3l2.2 -5.2l2.6 -1.9l1.8 -0.6l3.9 -3.1l1.9 -4.6l-3.6 -4.2l-3.8 -4l-2.6 -4.2l-1.7 -4.2l-1 -3.2l-3.2 -4.6l-1.2 -2.2l2.3 -0.4l2.6 0.2l3 5.2l2.7 2.5l2.3 2.2l1.3 2.1l0.9 3.9l0.6 3.5l0.7 3.2l0.6 3l0 2.9l-0.3 2.2l-0.2 2.1l-0.2 2l-1 3.5l0.3 3.4l-5.7 -0.5l-4.3 -0.2l-2.6 -0.4l-2.3 -0.6l-4.1 -2.4l0.4 4.6l3.5 -2l-0.6 -4.5l0.3 -3.4l2.7 -0.2l5.1 -1.2l1.8 -5.4l-3.6 0.9l4.6 2.4l5.9 0.5l2 0.2l2.4 -1.5l3.2 0.1l5.4 1.9l-3 2.8l-3 1.9l-3.8 1.5l-3.7 2.3l-4.3 2.6l-3.7 -1.1l-5.6 -0.5l-5.2 1.3l0.5 0.8l2 1.5l-1.2 -1.9l-0.1 -2.5l-0.3 3l-0.9 0.5l1.1 -2.9l2.9 1l4.1 -2.3l3.8 -4.4l3.6 -3.5l3.4 -2.1l-6 -1.7l-2 -1.1l-2.9 -2l-4.5 -1.7l-0.8 -1.5l3.2 -1.6l1.5 -2.1l1.7 -2.8l2.4 -4.1l3.7 -3.5l3.1 -1l1.4 -0.9l5.1 -2.7l4.8 -2l2.5 -1l3.1 -1.3l4.8 -2.5l5.4 -2.6l1.8 -0.5l1.9 -0.6l-3.2 -1.9l-2.6 -2.7l-1.8 -3.4l-2.1 -3.6l-1.8 -2.4l-1.4 -2.7l-2.3 -4.3l-0.5 -1.7l-1.6 -5.7l-0.5 -1.8l-1.6 -4.4l-2.5 -5.6l-0.9 -0.6l-2.1 1l-5.3 0.8l-2.6 0.7l-3.2 0.8l-5.2 0.4l-3.8 0.6l-2.9 0.1l-0.8 0.6l2.2 -3.6l2.6 -3.5l2.5 1.1l4.1 3l4 1.3l4.4 1.6l3.8 2.5l2.8 1.4l1.7 0.8l1.5 1.1l1.7 2.5l1.6 1.9l3.3 3.3l3.1 1.8l4.1 4.2l2.4 2.1l5.8 2.2l3.3 1.5l4.1 1.7l2.4 0.8l2.6 -0.5l3.4 -0.9l5.4 -2.8l0.1 2.3l0.5 3.3l0.1 2l0.9 3.8l1.7 6.1l1.9 4.7l2.1 3.5l2.7 5.7l3.5 2.5l2.6 2l2.9 1.6l4.3 2.9l0.2 2.9l-2.3 1.5l-1.7 2.1l-2.7 4l-2.4 5.1l-4.9 3.4l-4.8 1.8l-4.2 0.3l-4.4 0.5l-5.1 -0.4l-3.3 -0.4l-3.5 -0.4l-2 0.4l-6 -0.5l-6.2 -0.8l-3.7 0.3l-4.9 0l-2.1 -0.1l-1.2 -2l-1.3 -2.1l-2.5 -3.5l-2.2 -2.8l-3.2 -3.2l-1.8 -2.9l-2.1 -3.9l-2.6 -2.6l-0.6 -4.1l-0.1 -2.5l0.1 -6l0.2 -2.8l-0.6 -1.6l-1.3 -2.8l-0.8 -3.4l-0.6 -1.8l-1 -3.2l-0.3 -6.3l-0.4 -1.6l-0.3 -2.2l-0.5 -2.4l-2.5 -5.8l-0.6 -2.6l0.4 -2.7l1.7 -5l2.4 -3l4.3 -3.6l2.4 -3l2.3 -0.7l3.1 3.7l3.8 4.3l2 2.4l2.3 3.2l1 1.8l2.1 4.2l1.6 3.7l0.9 3.7l0.6 2.7l0.1 2.8l-0.2 6.1l0 1.6l0.4 4.2l1.6 5.1l2.4 5.4l1.9 1.5l4 4.3l3.8 3.8l3.7 3.1l3.6 3.5l-3.3 3.7l-2.4 1.4l-4 1.6l-5.5 2.1l5.4 -1.7l2.4 -1.3l5.5 -2.9l1.5 -1.7l2.6 -2.1l2.8 -1.9l1.7 -1.1l3.5 -2.1l3.5 -5l1.4 -4.2l2.1 -5.1l0.8 -1.4l2.7 -3l-1.4 -0.9l-4.9 -2l-3.9 -1.3l-3.7 -1.3l-4.8 -2.7l-4.4 -3l-2.5 -1.4l-4.7 -2.4l-1.8 -1.1l-5.3 -2.1l-2.8 -1.8l-1.6 -1.3l-3 -3.4l-1.8 -1.2l-4.2 -3l-2.2 -1.3l-4.7 -3.8l-1.6 -1.8l-2.9 -2.9l-0.2 -4.7l-4.7 -2.7l-5.2 1.7l-3.6 0.7l-2.9 -0.8l5.6 -1.2l5.9 0.3l5.5 0l5.4 0.2l2.7 0l2.9 -0.1l1.8 0.9l4.2 1.7l4 1.2l3.4 0.8l4.2 1.5l5.2 1.5l3.3 1.8l3.3 -1.1l2.1 -0.2l1.9 -0.2l4.5 -3.8l3.7 -2.9l2.4 -1.2l2.4 -0.5l0.9 1.4l3.3 4.5l2.1 3.9l0.6 1.6l0.6 1.6l0.7 2.4l0.7 4.4l0.5 1.5l3.1 5.1l1 2.8l0.7 1.6l4.6 -4.3l2.7 -4.9l1 -5.1l-0.9 -5.2l0.8 -1.1l-4.9 -1.4l-3.5 -1.6l-5.2 -2.6l-4.1 -2.5l-1.9 -0.9l-1.7 -0.3l-2.3 0l-0.3 -1.4l-1.7 4l-1.1 1.5l-1.8 2.4l-2.1 2.4l-2.4 5.2l-2.5 3.6l-1.9 2.1l-6.1 -1.5l-2.7 0.1l-3.9 1l-2.6 0.2l-5.4 -0.8l-5.3 -1.9l-3.1 -1.2l-2.2 -0.2l-3.5 1.3l-2.3 1.6l-2 0.5l-5 1.3l-5.8 1.5l2.9 3l1.8 1.5l2.2 3.3l-5 -0.5l-4 -0.3l-2.9 -0.1l-1.4 1.9l0.3 2.1l5.2 2.8l2.4 1.2l-5 2.5l-1 2.3l-0.8 1.9l-1.1 2.7l2.4 4.8l0.6 2.8l0.6 4.8l1.3 5.9l1 5.7l-0.4 6.2l-0.7 5.7l-0.6 2.4l-2.5 3.5l-2.1 4l-1.3 -0.2l-1.4 0.8l3.8 0.3l1.9 -1.1l2.4 -2.2l4.9 -2.8l1.5 -0.7l2.4 -0.6l2 -0.6l2.7 5.6l0.5 1.6l0.6 -5.3l0.1 -1.7l1.4 -5.8l0.3 -4.1l-0.5 -4.2l-0.9 -5l-1.2 -4.8l-0.4 -5.6l-0.6 -1.6l-1.9 -6.1l-1.9 -1.5l-5.2 -2.4l-4.4 -1.8l-2.4 -0.6l-1.4 -1.8l1.9 -2.3l1.1 -4.5l1.1 -2.3l0.6 -2.1l1.6 -5.6l1.3 -5.7l1.7 -5l0.3 -3.4l-0.3 -4.3l-4.1 -4l-3.4 -1.4l-4.4 -1.9l-1.8 0.6l6.2 -1.3l2.1 2.3l0.8 1.5l1.7 1.1l1.2 1.4l1.3 3.7l1 4.6l0 3.5l-0.9 4.2l0.9 5l0.6 1.5l1.3 4.6l2.2 3.1l0.8 5.9l0.7 5.9l2.8 2.6l1 1.3l2.7 4.5l4.6 4.3l1.7 2l-4.1 0l-4.3 -0.8l-1.8 -0.2l-1.9 0l-3.4 0.2l-3.7 0.3l-3.2 1l-5.8 1.5l-1.2 1.5l-0.3 6.3l-0.4 3.2l0 2.2l-0.2 5.5l-0.5 4.9l-0.8 5.9l1.5 1.3l-0.2 -4.9l-0.5 -2.6l0.1 -3.8l2.5 -5.5l1 -4.2l0.7 -5l0.3 -2.9l-0.2 -3.1l-0.5 -4.1l-0.4 -1.9l3 -5.6l1.6 -3.3l0.8 -3.9l0.7 -2.4l0.6 -2.3l1.4 -5.9l0 -2.5l0 -5.1l1.8 -6.1l1.4 -2.8l0.1 -2.9l0.2 -3.4l1.5 -5.6l2.5 -2l2.1 -1.3l2.3 0.9l4.6 0.1l2.5 2l5.8 2.3l5.6 2.3l5.3 2.2l6 2.1l3.6 2l5.2 1.9l2 1l1.9 1l-3.1 0l-6.3 0.8l-5 0.7l-2.9 1.1l-2.2 1.5l-1.9 1l-4.7 3.3l-3.6 3.1l-2.6 1.4l-2.5 0.3l-4.5 -0.4l-3.4 -0.1l-2.8 -0.2l-3.5 -0.4l-3.3 0.2l-4 0.1l-4.3 -0.3l-3.6 -1.7l-0.7 -0.6l5.2 -3.6l1.5 -1.2l1.8 -1.7l2 -2.6l1.8 -1.6l2.8 -2.6l2.2 -2.8l0.7 -1.7l1.7 -4l0.7 -2.1l0.5 -2.5l-0.7 2.8l-1.5 1.1l-3.4 1.1l-1.7 0.9l-4.4 2.5l-1.6 1l-3.5 2.9l-3.6 2.7l-1.2 0.9l0.6 5.1l-1.1 4l1.1 6l-0.6 4.7l4 1.6l3.8 4.9l5 3.9l1.1 1.4l0.8 2.9l3.4 5.1l1.8 2.5l3 5l1.4 3.1l1.2 5.4l1.7 4.2l1.1 2l3.1 4.3l1.5 5.2l3.4 2.1l2.6 -3.1l2.6 -2.9l2.5 -2.3l1.7 -3.4l1.9 -5.4l1 -2.4l1 -1.8l2.3 -4l3.3 -4.2l2.1 -5.9l1.8 -2.9l4 -3.7l2.5 -1.9l2.4 -1.9l4.9 -3.4l3.8 -3.2l2.9 -2.4l3.8 -2.1l2.5 -1.8l3.5 -1.9l4.8 -2.4l-0.4 -0.5l-4.3 -4.4l-1.7 -1.9l-2.2 -3.6l-2.9 -5.4l-2.6 -5.3l-1.6 -4.9l-1.2 -0.8l5.5 3.1l3.2 2.5l2.5 0.9l-0.8 6.1l-0.8 5.4l-0.4 1.6l-0.8 2.1l-5.2 2.7l-3 0.5l-4.1 0.5l-3.2 1.5l-4 2.1l-2.1 0.8l-2.6 1.6l-4 3.2l-2 2.6l1.5 3.1l1.1 4.9l-0.8 3.8l-0.5 6l-0.4 2.5l-0.6 6l-1 5.8l-0.9 2.8l-1.7 5.3l-1.2 2l-1.5 4.3l-0.8 2.8l-1.6 2.9l-1.1 -1.2l-4.4 -1.1l-4 -1.1l-4.6 -2.2l-4.7 -3.4l-2.6 -1.4l-1.5 -1.1l-2.2 -1.9l-5.1 -3.5l1.7 -1.6l1.3 -2.3l0.1 -3.4l0.7 -2.1l1.3 -4.9l1.6 -5l0.5 -4.5l-0.1 -6.1l-0.3 -1.7l-0.9 -5.5l-1.6 -3l-1.8 -2.1l-1.3 -1.3l-2.2 -2.4l-2.8 -2.7l-5 -3.1l-4.5 -3.6l-1.9 -3.2l-1.6 3l0.2 2.5l0.9 4l-0.7 3l0 6.2l0 5.6l1.2 4.2l-0.2 5.3l0.4 5.7l2.2 0.5l5.3 1.4l4.9 1.6l2.7 0.6l6.3 -1l5 -0.2l2.4 0.2l3.1 1l5 2.7l3.4 3.6l1 2.3l1 2.7l0.1 3.6l2 3.5l1.7 4l2 5.8l0.3 1.6l2.6 1.6l4.7 0.6l6.1 -0.1l6 -0.4l3 -0.2l5.2 1.7l6.1 -0.4l5.3 -1.1l2.9 -0.6l2.9 -1.7l0.8 -2l-2.9 -2.6l1.8 -4.3l1 -3.1l0.7 -6.1l-1.1 -1.2l-1.5 -4.8l-0.3 1.1l-3 0l-2.7 -3.5l-4.6 -4.3l-3.8 -2.5l-4.1 -0.5l-2.5 0.4l-2.7 0.9l-3.8 2.2l-6.2 0.4l-4.3 0.1l-0.7 -3l-0.7 -1.9l-2.2 -3.1l-1 -1.4l-2 -2l-1.7 -3.4l-1.5 -3.6l-0.6 -1.6l-1.5 -4.9l-0.8 -5.5l0.2 -4.4l0.3 -1.9l-0.3 -2.4l0.1 -5.1l-0.7 -4.5l-0.5 -5.9l1.5 -1.6l-2 0.4l-2.9 -0.6l-1.4 1.1l-5 2.1l-1.9 0l-2.4 0l-2.1 0.9l-2.8 0.5l-5.6 0.8l-5 1.1l-6 1.2l-4.6 0.7l-2.6 0.2l-1.2 -4.1l2.8 0.3l3.8 0.1l3.4 4.3l3.2 2.2l3.2 1.7l5 3.2l2.5 1.2l5 1.9l4.5 1.5l2.6 1l5.2 -0.4l5.6 0.4l6.1 -1.8l3.9 -1.4l4.9 -1.4l4.3 -2.6l3.9 -2.5l4.1 -2.8l2.9 -1.3l2.1 -0.6l2.6 -1.7l3 -1.9l4.6 -3.1l4.1 -1.7l6 -0.1l0 0.2l-2.5 -3l-1.1 0.1l-1.6 1.4l-3.2 -1.2l-2 1.8l-2.3 4.2l-3.8 5.1l3.9 3.2l1.1 1.2l2.8 3.3l2.8 1.8l2.1 2.3l1.4 3.8l0.6 2.6l-1.1 5l-1.2 5.5l-2 2.3l-2.1 2.9l-2.9 5.4l-2 3.3l-1.6 4.8l-0.5 1.7l-2.7 5l-2.4 5.9l-1.6 2.1l-3.2 3.3l-2.3 3.3l-1.5 2.1l-1.6 1.6l-4.6 3.5l-3.6 1.6l-1.5 -4.9l0.5 -4.5l-2.3 3.4l-2.3 4.1l-1.1 2.7l-0.4 1.7l-0.4 1.5l4 -4l3.1 -2.9l5.2 -3l4.2 -1.1l-1.3 1.2l-4.2 2.1l-3 2.3l-5.2 3.5l-1.1 1.3l-1.9 -0.4l-2.4 -0.9l-3.4 -0.5l-5 -0.7l-2.3 -0.8l-3.7 -0.8l-6.1 -1.4l-3.8 0l-5 -0.9l-3.3 -0.4l-4.9 -2.2l-3.7 -1.9l-3.2 -1.5l-3 -1.4l-1.2 -2.3l2.2 -2.4l-1 -2l-1.1 -6.3l0 -4.7l1.7 -4.2l0 -1.7l0.1 2l0.3 2.1l0.7 3.4l0.4 5.3l4 -4.9l2.9 -4.1l2.4 -1.5l1.4 -1.1l5.1 -2.9l4.4 -2.8l1.4 -0.8l2.7 -1l2.4 -1.9l1.7 -4.6l1.3 -3.9l2.4 -5.9l1.1 -4.5l-0.4 -6.2l-1 -2.9l-0.2 -2.8l-0.6 -4.4l-0.1 -3.4l0.1 -4.3l0 0.5l-5 3.5l-1.3 1.5l-4.4 3.4l-2 2.3l-2.7 4.1l-3.5 4.3l-1.5 3.5l-2.3 3.9l-1.3 2.2l-2.7 5.7l-1 3.7l-0.6 3.5l-0.4 2.9l-1.1 5.5l-0.5 2.3l-0.6 2.9l3.4 5l2.7 3.9l2.4 5.4l1 3.6l0.2 2l-0.9 5.4l0.8 6.1l1.4 4.6l3.8 -2.9l5.7 -2.3l6 -0.6l5.9 0.8l4.6 1l4.6 1l4.3 -0.8l1.9 1.1l1.6 -0.9l3.1 -1.4l3.3 -0.9l2.6 -0.7l6 -1.5l5.4 -0.3l1.8 -0.5l6.2 -1.5l6 -1.2l5 -0.3l2.1 -0.3l0.8 -0.4l-5 -2.1l-3.5 -1.1l-2.2 -1.3l-5.1 -3.7l-1 -1.7l-1.6 -4.1l-0.7 -1.9l-0.7 -5.7l0 -2.5l0.3 -4.8l0.2 -3.6l-1.1 -2.3l-0.7 -3.6l-3.2 1l-3.9 3.1l-4.9 3l-2.1 1l-4.9 2l-4.3 1.4l-4.5 0.8l-5.9 0.4l-3.9 0.5l-5.9 0.5l-6.4 0.2l-3.5 4.3l-2.5 1.8l-3.5 0.8l-3.5 0.4l-4.6 -0.1l-5.2 -1.2l-1.4 -1.9l2.2 -2.7l2.4 -2.9l0.7 -2.9l0.7 -3.7l1.7 -5.1l0.9 -4.2l1.5 -3.1l1.1 -4l0.5 -2" fill="none" stroke="#000" stroke-width="0.52" stroke-linejoin="round" opacity="0.9"/>
<path d="M152.1 322.11L153.13 323.24L153.09 320.71L151.7 324.86L150.75 323.59L151.66 321.86L152.6 321.33L153.93 322.3L151.26 324.83L150.27 324.32L153.31 322.83L149.62 322.13L150.79 323.95M82.39 284.8L82.32 286.66L81.15 286.26L80.16 286.82L85.39 283.99L83.5 284.18L83.86 285.44L84.85 285.96L82.27 286.64L82.38 285.26L82.45 284.85L83.9 285.8L82.6 286.59M86.78 250.91L85.05 251.24L86.3 252.23L88.43 250.28L85.57 253.91L87.07 251.7L86.76 250.52L86.13 247.91L86.86 253.91L86.94 252L87.5 251.69L87.85 250.97L89.11 252.19M121.25 271.59L122.64 272.53L121.24 269.37L121.79 273.59L123.07 268.65L122 269.2L121.9 270.94L121.91 271.4L120.05 271.67L119.85 271.91L120.89 272.11L121.68 272.41L121.01 270.59M74.62 315.52L75.24 316.44L75.29 317.53L77.05 316.95L73.6 316.71L76.13 313.07L73.52 315.49L73.32 314.08L74.02 314.94L73.05 315.95L75.34 315.93L72.43 317.67L73.47 314.9M98.25 289.59L97.64 290.11L98.12 288.31L97.61 288.12L97.17 291.19L98.4 289.47L96.58 287.82L97.13 290.16L95.8 286.64L95.25 290.67L97.93 290.23L100.24 289.67L95.63 290.72M62.86 324.49L62.98 326.12L62.91 326.18L62.68 325.26L63.2 322.56L62.32 323.27L61.92 323.83L61.34 324.95L61.36 324.78L63.8 326.99L60.62 326.67L65.44 324.48L61.62 325.11M90.46 299.88L89.88 300.67L92.44 299.37L92.2 297.4L89.53 299.19L90.87 301.41L88.88 300L91.19 298.61L87.57 299.88L90.39 299.03L93.43 300.33L88.59 297.46L90.66 299.59M67.69 319.97L68.2 318.65L66.42 318.98L66.33 319.79L68.29 320.18L70.1 320.21L69.34 319.62L64.69 317.57L65.43 319.8L66.96 319.95L68.06 319.76L67.47 320.14L69.55 321.72M63.91 317.46L65.01 318.62L63.48 317.69L64.62 316.88L64.08 319.55L65.25 316.02L62.62 317.62L65.1 317.85L63.16 319.26L62.44 318.49L64.44 317.78L63.39 317.64L65.34 318.78M95.03 279.74L95.72 278.53L96.14 277.8L94.03 279.39L94.54 280.62L94.49 279.41L94.95 282.74L93.87 280.26L96.79 279.61L97.3 278.91L95.82 280.38L94.41 280.64L94.71 280.9M150.75 325.31L153.2 325.76L150.37 324.13L152.09 323.94L151.88 324.4L147.91 323.96L150.79 326.39L149.69 322.69L152.7 325.76L151.73 324.31L150.27 323.98L147.75 325L151.62 324.92M62.25 237.93L64.67 235.93L62.58 238.61L61.48 239.13L62.63 239.74L62.27 238.8L63.98 237.23L59.43 238.16L65.25 236.69L65.22 240.93L64.69 236.47L59.25 239.11L64.21 238.34M65.82 238.75L65.92 235.75L67.39 238.09L62.82 237.35L66.32 239.52L67.31 239.01L65.29 238.49L66.91 239.65L65.68 237.58L67.47 240.3L67.61 238.72L66.51 239.04L67.15 237.52M145.17 272.95L143.35 272.35L146.59 274.02L143.44 272.88L147.32 275.74L147.23 273.59L142.17 269.95L144.11 273.62L145.77 274.64L146.35 274.42L142.17 272.75L146.93 274.56L146.48 271.33M86.21 238.95L89.2 239.01L87.54 239.83L84.83 240.55L86.45 238.85L87.41 239.19L85.48 238.87L86.05 237.29L85.19 239.02L84.16 239.72L86.25 238.18L85.43 237.14L85.48 241.32M63.39 234.91L60.32 236.24L61.53 235.57L66.99 235.26L60.32 234.07L62.23 236.11L64.13 231.11L62.23 236.14L62.71 232.37L64.11 231.52L60.75 233.75L64.42 238.33L62.83 238.71L64.44 234.56L67.19 235.21L63.87 234.46L64.97 231.35M152.63 324.01L151.98 323.97L155.04 325.71L152.78 326.09L154.47 323.41L152.83 326.54L153.78 322.72L151.78 325.29L152.46 324.85L150.52 324.36L152.69 325.29L150.94 322.72L153.23 324.97L154.17 324.53L153.7 321.34L152.51 323.25L151.81 324.41" fill="none" stroke="#000" stroke-width="0.5"/>
<rect x="175" y="223" width="109.5" height="108.5" fill="#fff" stroke="#f08888" stroke-width="1"/>
<rect x="203.25" y="248.75" width="54.25" height="54.5" fill="none" stroke="#6464f4" stroke-width="0.8"/>
<path d="M189.2 237.1l2.5 1.6l3.3 1.1l4.5 1.1l2 0.8l4.5 -0.6l2.4 0.5l4 0.3l4.1 0.3l4 -0.1l1.9 0l5.7 2.3l4.3 1.7l5.4 3.2l2.2 1.3l5 3.3l4 0.8l5.3 -0.2l2.8 0.4l3.7 0.3l2.7 -0.2l4.7 0.3l2.9 0.1l6.1 0l0.8 0.7l-3.5 2l-1.4 0.8l-3.1 0.7l-4.5 2.2l-4.1 1.6l-2.3 1.1l-2.4 1.4l-3.7 2.1l-4.5 2.6l-2.6 2.2l-1.2 2.1l-2 3.6l-1 2.3l-1.1 4.3l-0.7 5.6l0 1.7l-0.1 2.7l0.3 5.3l0.2 4.2l-1 4.5l-0.1 2.1l-0.3 6.2l2.1 4.2l1.7 0.7l2.1 -2.4l3.6 -3.4l1.6 -1.6l4.9 1.6l5 2.1l3.9 4.7l5.1 2.1l0.8 -0.1l4.8 -3.8l2.1 -2.2l2.2 -3.9l-2.2 -2.5l-1.8 -2l-5.2 -2.7l-2.1 -1.5l-3.4 -4.7l-0.7 -1.5l-0.5 -1.6l-0.9 -5.5l0.3 -5.8l-1.2 -2.7l-0.8 -3l-1.7 3.7l-4.4 2.9l-0.9 1.9l-1.4 4.4l-3.9 4.9l-2.7 1.7l-2.5 0.9l-4 1.5l-3.8 0.8l-2.8 1.4l-1.6 1.7l-2.3 2.8l-1.5 3.3l-1.6 2.3l-0.8 3.4l-0.9 4.7l-1.6 -1.5l-6 0.1l-2.4 0.8l-1.6 -2l-2.7 -1.4l-0.9 -1.7l-1.3 -3.6l-0.7 -4.8l-0.4 -5.3l1.4 -6.2l2.5 -4.9l1.1 -1.2l4.4 -2.7l4.6 -3.1l3.6 -2.4l2.2 -1.7l5 -3.5l4.8 -2.7l5 -4l5 -3.9l0.4 -2.7l0.2 -3.2l0.4 -1.9l3.8 -4.3l2.8 -2.1l1.8 -2.2l4 -3.8l1.8 -3l0.9 -1.4l0.7 -1.9l1.7 -6.1l1.3 -3.5l1.5 -2.7l3.6 0.1l2.4 1.3l2.9 1.8l3.2 3.9l-1.5 3.4l-2.6 4.8l-1.2 3.3l0.6 4.7l0.3 2l-0.3 2.6l-0.4 2.6l-0.2 2.1l0 2.8l0.3 2.8l-0.1 2.9l-0.7 3.8l-2 4.5l-1.9 4.5l-2.3 5.8l-1.7 3.9l-0.8 3.7l-1.7 6l-0.1 3.3l-0.2 2.9l-1.6 5.6l-1.5 3.9l-1.8 1.5l-3.7 4.3l-2.8 0.7l-0.2 -2.4l0.1 -0.2l0.4 -5.1l1.3 -5.3l2.6 -5.2l3.7 -4.5l1.3 -2.5l2.3 -4.9l2.2 -5.9l0.7 -2.2l1.1 -2.6l1.5 2.7l2.5 4l2.3 3.8l1 4l0.2 2.1l-1.1 1.7l-1.3 2.7l-1.8 3.4l-1.8 3.2l-2.1 4.5l-1.7 2.2l-1.7 1.5l-1.9 0.8l-2.3 0.7l-3.1 1.8l-1.6 0.8l-3.6 -0.2l-2.1 -1.2l-2.9 -1.9l-4 -2.4l-4.3 -3.8l-1.2 -2.5l-2 -2.1l-1.4 -5.9l-0.1 -4.2l0 -1.8l0.5 -5.9l0.7 -4.3l0.4 -2.7l0.8 -3.4l0.4 -5.7l-0.4 -3.2l2.1 -2.9l0.2 -2.1l0.7 -6.3l0.3 -3.9l0.2 -5.5l-0.8 -4.2l-0.3 -2.5l0.3 -6l-0.5 -3.7l-2.6 -2.5l-4.7 -1.2l2.2 1.2l3.7 2.7l1.6 1.6l3.4 2.9l3.4 3l2.6 0.9l2.3 0l5.7 0.4l3.7 0.3l5.8 1.6l2.3 1.3l5.2 2.5l2.8 2.3l2 4l1.1 4.1l-1.3 2.7l-2.1 3.8l-4.3 3.5l-1.5 1.8l-3.7 4.8l-2 1.7l-3.8 3.3l-1.9 2.4l-1.3 1.5l-3.8 3.8l-4.6 1.7l-4.5 2.8l-2.4 1.1l-1.6 1.5l-3.8 4.3l-1.4 2.4l-2 4.1l-2.1 5.7l-1.4 4.1l-0.5 5.8l-1.8 0.3l-3.7 -2.5l-4.2 -3.2l-1.1 -4.3l-1.2 -3.2l-1.5 -5l-0.2 -6.2l-1.5 -0.9l-4.5 -3.8l-2.1 -1l-5.2 -2.6l-1.9 -1l-0.3 -1.9l-1.6 -3.3l-1.8 -5.3l-1.3 -2.7l-0.3 -2.8l-1.2 -5.6l-0.7 -5.4l-2.5 -3.6l-1.9 -1.9l-1.2 -5l0.4 -3.6l0.1 -1.7l0.2 -5l0 -3.4l-0.3 -1.6l-0.4 -3.3l0.3 -3.6l1.1 -2.6l0.6 2l1.3 3.6l0 1.6l-0.7 2.5l-0.7 4.2l-1.2 3.5l-1.5 5.9l-1.4 2.9l-0.6 4.2l0.3 2.6l0.1 3.5l0.5 4.5l0.6 2.2l1 2.3l0.7 2l2.8 5.2l1.2 4l0.4 2.4l3 -3l3.8 -4.9l0.9 -2.5l0.9 -2.1l0.3 -3.2l0.1 -3.4l-0.1 -3.4l-0.1 -1.7l-4 -3.1l-2.7 -3.1l-1.8 -1.1l-2.2 -1l-2.4 -1.1l-1.8 -2.1l-0.3 -2.1l-1.8 -5.2l1.1 -2.3l1 -4.5l1.4 -5.1l3 -3.3l4.7 3.6l2.6 2.2l5.7 1.8l2.4 0.9l5.1 3.2l1.9 1l1.5 0.9l4.4 3.1l1.7 0.9l4.3 1.2l2.8 1.7l3.8 2.8l3.8 2.4l5.6 2l4.6 0.8l5.2 0.9l2.2 0.8l3.4 0.1l2.8 -0.7l6.3 -0.2l3.3 -0.4l5.4 -1.9l5.5 -3.1l-0.3 -2.8l-2.6 -2.3l-4.2 -2.8l-2.3 -2.1l-2 -2.1l-3.2 -1.5l-2.7 -4.3l-1.4 -1.8l-2.2 -2.8l-3.8 1.3l0 3.3l0.8 3.2l1.4 2.6l1.2 3.6l3.4 0.1l1.9 0.3l4.7 0l3.2 0.1l3.4 -0.3l3.1 -4.4l0.9 -3.4l0.4 -2.3l0.2 -3.7l0.6 -3.2l2.2 3l-0.6 5.3l-2.5 0.9l-1.9 2.2l-1.2 4.4l-2 5.3l-3.2 4.2l-1.5 2l-2.4 3.4l-1.8 2.2l-2.3 3l-3.2 5.3l-2.7 3.4l-2.7 3.5l-0.8 3.1l-1.3 3.2l-1.7 5.8l-1.3 6.2l-0.7 1.6l-0.8 1.8l-2.9 3.8l-1.6 2l-3 3.1l1.4 0.9l4.2 3.3l4.4 3.7l2.1 2.1l1.4 2.2l1.2 2.8l3.5 2.9l3.8 -0.8l2.1 -1.1l2.7 -1.8l4.2 -2.3l2.8 -2l4.8 -4l0.8 -3.2l-0.3 -3.7l-3.6 -3.6l-3 -5.3l-2.1 -2.8l-0.8 -1.8l-1.4 5.2l-2.3 4.6l-1.7 1.6l-2.4 2.9l-3.8 3.5l-2.8 -2.3l-3.6 -4l-3.8 -4.6l-3.7 -3.4l-1.3 -1.2l-3.4 -2.5l-2.8 -1.7l-2.9 -1.4l-5.1 -3.2l-1.7 -1.1l-2.9 -1.5l-1.2 1.8l-1.6 3.3l-3.1 5.4l-1.4 1l-3.6 3.9l-1.6 5.3l-0.3 6.1l-1.7 4.5l-3.1 -5.4l-2.7 -0.7l-5 -2.5l-4.5 -1.3l-1.6 0.3l-4.4 1l-1.8 3.7l-1.7 3.5l-0.8 2.7l1.3 1.3l2.6 5.6l2.7 3.8l4.2 -3.2l5.9 -2.2l1.4 -1.1l3.9 -3.2l1.5 -2.5l3 -2.8l2.1 -1.2l2.1 -1.4l4.5 -3.2l2.8 -2.5l3.6 -4.4l1.3 -2l3.2 -5l2.6 -2.9l1.6 -2l4.5 -4.4l2.2 -2.6l3.8 -4.8l1.7 -1.3l2.4 1l4.6 2.5l3.9 2.6l4.4 3l3.5 3l2.8 1.5l3.7 1.9l4.4 4.2l3.8 3.4l-0.6 3.2l-1.4 4.8l-0.7 4.4l-0.5 2.2l-5.6 1.4l-6 1.8l-3.2 1.1l-4.2 -3.6l-4.5 -2.8l-5.4 -2.9l-5.4 -2.4l-4.8 -2.5l-5.3 -2.2l-5 -1.1l-1.6 3.1l-2 1.8l-0.1 2.2l-1.8 6l-1.5 5.9l-0.4 5.9l-0.5 0.3l0.8 -2.7l2.5 -5l2.4 -3.9l2 -2.2l4.3 -4.4l2.7 -3.8l3.2 -3.6l2.1 -3.3l3.2 -3.5l2.3 -4.3l4.3 -4.4l1 -2.6l0.2 -6.3l0.9 -3.6l2.5 -3.4l0.7 -1.5l0.7 -4.1l1 -4.9l2.2 -5.3l0.8 -2l2.4 -5l1.6 -4.3l1.3 -2.5l0.3 -1.9l4.2 -3.7l1.7 -0.1l3 3.3l3 1.6l4 0.9l-2.2 5.4l-0.3 1.7l-2 4.2l-1 3.9l-1.4 4.6l-1.2 3.2l-1.9 6.1l-3.3 -3.6l-2.3 -3.7l-1.1 -2.1l-1.7 -3.9l-1 -2l-0.8 -2.8l-0.7 -3.2l-1.3 -4.5l-0.1 -1.9l0.1 -3.3l-0.4 -4l-3.5 0.4l-4.8 1l-3.2 0.2l-2.6 0.2l-4.4 -0.1l-5.6 0.3l-3.1 0.5l-2.6 1.6l-2.6 0.9l-5.2 2.6l-3.7 1.2l-1.7 0.2l-3.7 1.1l-4.6 2.2l-2.8 0.4l-2.1 -0.2l-3.3 0.3l-2.9 -0.2l-6 0.3l-1.9 0.2l-2.5 -0.1l-2.4 -1.5l2 0.1l0 -0.4l1.8 2.8l1.4 2.2l2.7 4.3l1.3 2.7l0.9 1.4l2.7 4.8l2.2 2.9l-0.2 6.1l0 2.6l0.3 4.6l0.5 2.9l-0.5 1.9l-1.9 4.6l-0.3 3.2l-0.6 1.8l-0.4 1.8l-1.1 5.5l-0.9 5.9l-0.3 4.2l-0.8 4l-1.4 5.3l-1.4 4.6l-1.2 2.3l2.1 1.5l4 -2.5l5 -1.3l3.1 -0.8l-0.1 2.8l-1 -3l-0.3 -3.7l-1.6 -3.9l-1.7 -2.9l-1.2 -1.1l-4.9 -2.9l-2.8 -1.5l-2.1 -1.2l-0.7 -5l0.7 -2.1l0.9 -1.7l0.1 -3.1l-0.2 -4.8l-0.4 -2.6l-0.5 -3l-0.6 -3.8l-0.3 -5.9l0.4 -3.1l2.4 0.5l3.9 0.4l2 0.7l3.9 1.2l5.6 2.4l3 2l1.8 1.2l4.7 2.4l5.3 2.5l2.1 1.1l1.8 1.2l3.6 3.7l5.5 3.3l3.1 1.8l6.1 1.8l1.7 1.1l1.8 1.1l2.4 2.7l3.6 4.4l3.5 5.1l3.3 3l1.2 2.8l3.9 5.1l2.2 2.2l3.7 1.7l2.6 1.2l3.9 -3.4l3.6 -2l2.2 -0.9l1.8 -1.5l-2 -4.1l-0.8 -2.9l-2.6 -4l-0.3 -6.2l0.9 -2.9l1.7 -4l1.3 -3.1l-1.3 -3.6l-0.5 -2.2l-1.4 -3.5l-0.3 -1.7l-1.6 -5.9l0 -3.2l0.1 -5.7l0.7 -2.9l1.5 -2.3l1.4 -2.2l-2.1 -5.9l-0.5 -1.8l2.1 -1.2l1.8 -3.2l0.7 -2.8l1.1 -5.2l-1.4 -1.2l-3.3 -1l-4.7 0.2l-1.6 0.4l-5.6 -1.1l-2.9 -0.9l-2.1 -0.6l-2.4 -0.2l-6.1 -0.8l-3.7 -0.3l-6.4 0l-6.2 0.9l-5.2 0l-3.9 1.3l-1.8 0.9l-2.1 0.7l-2.9 1.1l-2.3 0.8l-1.6 0.6l-3 1.8l-0.8 1.5l-1.6 1.6l2.7 2l5 3.1l3 2.7l2.7 4.9l1.9 2.9l1.2 4.1l0.6 3.2l1.1 2.4l2.6 5.2l3.2 4.6l1.5 2.2l2.3 4.8l1.2 1.7l1.6 1.4l2.3 2.1l3.4 3.8l4.2 3.1l4.4 2.2l3.3 2.3l2.9 0.7l0.7 3.2l2 4.2l1.1 4.4l0.1 2.1l0.1 2.4l-0.8 5l-1.6 0.1l-5.6 -1.7l-2.5 -1.2l-5.3 -0.5l-3 -0.3l-5 -0.1l-3.4 0.4l-4.3 0.7l-5.8 0.2l-1 -2.6l-4.4 0.4l-4.2 -0.6l-4.3 -0.3l-2 0.2l-2.1 1.1l-5.4 3.4l-4.3 2.9l0.5 -2.3l-0.5 -4.5l-1.4 -1.1l-2.4 -1.3l-4.2 -2.7l-4.4 -3.5l-2.6 -5.3l-1.3 -4.1l1.8 -4.5l0.5 -1.9l0.4 -2.1l1.2 -3.7l4.4 -4.2l3.3 -2.3l5.4 -2.8l3.2 -1.6l4.5 -0.9l4.6 -2.6l4.1 -3.9l3.4 -3.8l2 -2.8l0.9 -2.4l1.2 -3.2l1 -1.5l0.8 -3.4l0.1 -5.1l-3.8 -3.4l-1.3 -1.2l-2.1 -2.3l-1.9 -2.2l-2.7 -1.9l-1.3 -1.1l-3.4 -1.3l-2.5 -0.5l-2.1 -0.5l-3.3 -0.1l-4.9 0.2l-1.7 -0.2l-4.5 -0.1l-2.9 0l-2.2 0.3l-4 -1.4l1.6 -0.2l5.6 -2.4l1.9 1.7l4.8 1.7l6.1 1.4l3.3 0.5l4.8 0l2.6 0.2l4.7 0.5l5.8 0.2l3.7 0.2l2.8 0.4l5.4 1l3.8 0.7l3 0.8l3.3 0.6l3.1 0.7l4.9 2.7l1.5 1l2.9 1.5l2.4 1.2l4.4 2l-1.4 4.1l-2 4.1l-0.9 5l-1 2.6l-0.8 4.1l-0.5 1.8l-0.9 2.9l-0.3 4.7l0.3 4.8l0.1 4.9l1.4 5.8l1.4 4.9l0.4 2.2l0.7 2.5l1.2 5.8l-0.3 4.9l-1.1 5.4l-2.9 2.2l-4.4 1.7l-6 -2.1l-3.3 -0.5l-1.5 -1.2l-4.1 -3.7l-1 -1.4l-0.1 -4.8l-0.3 -3.1l0.9 -5.5l1.4 -5.9l1.1 -4.9l1.1 -5.7l1.3 -6.1l-0.1 -2.8l-0.3 -4.6l1.5 -5.6l3 -4.1l2.8 -5.5l2.4 -3.3l1.4 -2.1l0.6 -3.9l0.5 -2.3l0.7 -4.3l3.1 -1.4l1.8 -2.4l1.7 -3.4l2.4 -1.5l4.6 0.2l3.5 4l-3 -3.9l-1.1 -0.7l-1.9 5.1l-0.7 3.5l-0.8 2.3l-3.2 4.7l-2.9 1.9l-0.4 6.1l-0.1 2l0 3.3l-0.8 4.2l-1.7 5.1l-0.6 2.1l-0.9 3.5l-0.4 1.9l-2.7 4.5l-1.7 3.4l-1.6 2.5l-1.6 1.8l-3.6 2.7l-4.3 1.8l-3.2 2.1l-2.5 1.7l-2.7 2.2l-4.1 4l-2.1 2.4l-4.3 3.5l-4.4 2.7l-4.5 3.9l-3.3 2.5l-2.9 2.1l-4 1.6l-5.9 2.5l-3.3 0.3l-4.8 0.3l-2.7 0.6l-2.3 1.5l1.4 -0.9l5.1 0.5l0.6 -2l1.9 -3.3l1.4 -2.7l1.5 -3.3l1.8 -5.4l0.6 -3.1l1.4 -3.3l0.9 -1.9l1.6 -3.2l1.9 -3.4l2.6 -5.5l-2.7 -5.6l2 2.1l-0.7 2.6l0.2 5l0.9 3.4l0.9 5.7l0.3 2l3.7 1.4l4.6 3.2l2.2 3l3.2 4.4l0.8 3.1l1.3 1.3l3.7 2.7l1.7 -1l4.2 0.6l1.6 0l4.4 -2.5l4 -2.1l3.8 -1.9l-0.3 -1.6l-0.3 -4.2l-1.6 -6.1l-1.4 -2.9l-1.4 -2.6l-1 -4.1l-1 -5.4l-0.4 -1.6l-0.7 -3.1l0.1 -2.1l1.4 -5.5l-4.8 -2.5l-5.2 -2.6l-3.5 -0.5l5.1 3.5l2.4 2.3l2.7 1.7l4.1 3.8l3.4 3.7l1.5 1.2l4.2 4.4l1.9 3.4l2.7 4.3l2.3 3.3l2.3 4.3l1.6 5.9l0.6 6l1.9 1.7l2.5 0.8l3.1 2.4l3.6 0.8l3.3 -1.5l4.6 -0.9l1.9 -0.6l1.6 -1.1l-5.3 -1.5l-4.1 -0.9l-2 -0.9l-1.7 -1.5l-3.2 -4.7l-3.1 -3.8l1.2 -2.7l1 -3.5l0.3 -1.9l0.3 -2.3l0.8 -3.3l1.4 -6.2l1.1 -3.3l2.6 -4.8l2.5 -2.6l3.3 -4.5l2.3 -5.2l-1.2 -2.3l0.2 -3.3l0.1 -2.5l-2.2 -5.2l2.6 1.2l1.7 3.4l-2.1 5.1l-1 3.4l-2 4.1l-1.5 3l-2.7 5.2l-4.8 0.8l-2.4 0.3l-5.7 -1.4l-4.1 -0.4l-4.3 0.6l-5.6 2.1l-6 2l-3.7 0l-1.9 0.5l-3.2 1.4l-1.7 0.6l-3.6 0.9l-4.5 0.4l-0.2 5l-0.3 4.5l-0.2 1.9l0 1.9l1.2 4.7l1.4 5.3l1.4 4.1l1.1 1.6l4.1 2.4l2.8 2.8l3 2.3l2 -0.8l5.2 -1l4.8 -0.8l4.4 -0.1l6.1 -1l3.7 0.2l4.3 0.1l4.7 -0.3l2.6 -0.2l5.7 -1.7l2.5 -4.1l0.6 -3.3l-0.4 -4l-0.4 -2.7l-0.9 -3.8l-0.1 -1.9l-0.1 -2.7l-0.6 -5.8l-0.5 -2.1l-0.6 -4.3l1.4 -5.1l0.1 -1.8l-0.2 -3.7l-0.4 -4.6l-0.4 -1.9l-1.5 -4.4l0 -5.1l0.8 -2l0.3 -2.2l0.5 -3.9l1.2 -4l0.3 -4.6l0.2 -3.4l0.8 -3.2l0.8 -1.5l-1.8 -2.6l-3.6 -1.9l-1.3 2l-3.9 4.1l-2.1 3.2l-2.4 4l-2 3.5l-1.9 6l-3.3 4.8l-0.8 1.5l-2.7 5.7l-1.5 2.1l-2.3 1.4l-3.2 5.1l-0.8 1.5l-0.6 2.9l-0.6 5.4l0.6 -4.9l0.6 -3.1l-0.5 -6.2l3.9 -3.6l3.3 -4.4l3.9 -3.5l4.3 -3.8l1.8 -1.3l3.1 -2.4l3.7 -4.1l2 -2.2l3.4 -5.1l1.4 -4.4l0.4 -3.4l-1.2 1.1l-3.3 4.2l-2.2 3.8l-1.9 3.5l-3.5 5.3l-3.1 4.2l1.8 -1.4l4 -2.8l6.2 -1.7l0.3 3.2l0 5.4l-0.2 4.2l0.1 1.9l-0.2 4.6l-0.3 2.6l0.4 4.6l0.9 3.5l0.7 2.2l2.3 5.8l0.1 5.6l-2.1 2.9l-1.1 1.8l-1.9 -1.9l-5.1 -1.8l-2.1 -1.2l-3.8 -2l-2.8 -1.9l3.4 -2.6l-2.4 5.3l-0.7 4.6l-2.9 3.8l-5.2 3.1l3.3 -3.8l2.6 -4.4l2.3 -4.5l0.7 -2.9l1.6 -4.9l1.5 -6.2l2.2 -3.8l1.1 -1.6l0.8 -2.7l1.4 -2.3l2.7 -5.2l2.6 -4.4l1.4 -3.2l0.8 -5.8l-0.1 -2.4l0.3 -3.2l-0.3 -4l0.1 -5.3l-1 0.6l0.1 2.5l0.4 2.6l-0.3 1.9l0.3 2l0.1 2l0 2.3l-0.5 4.9l-0.2 5.4l-0.7 3.9l-1.2 5.3l0.8 4.3l0.3 5l0.5 3.6l0.6 4.1l-0.1 5.2l0.1 3.6l0.1 2.5l-0.2 3.7l0.2 4.2l1 5.8l0.3 3.4l0.6 4.9l0.1 2.4l0.6 6.4l1.4 4.1l0.7 0.2l-6 -2l-5.5 -3.2l-3.4 -2l-2 -0.9l-1.6 -0.4l-4.1 -0.3l-1.8 0.3l2.2 0.4l6 1.9l4.4 0.8l5.7 0.7l2.8 -1.2l4.1 -3.3l-2.1 -4.4l-2.7 -1.7l-2.6 -1l-2.5 -4.6l-1.4 -3l-1 -2.6l-1.3 -5.4l-1 -2.7l-1.3 -3.4l-0.5 -5.2l-0.4 -2.1l-0.4 -2.2l-0.3 -6.3l-3.8 -2.8l-2.3 -1.3l-2.9 -1.9l-4.3 -2.6l-3.9 -1.1l-6 -2l-5.3 -1.4l-3 -0.7l-1.6 -0.9l-1.4 -0.9l-2 -1.6l-3.7 -2.5l0.1 -2.2l0.1 -4.9l0.4 -6.3l-4.7 -2.8l-2 -1.3l-4.5 -2.1l-4.5 0.2l-3.2 0.1l-5.5 0.2l-4.9 -0.9l-5.3 -0.4l-5.8 1.5l-1.6 1.2l1.3 1.6l-1.2 2.8l1.7 2.7l1.6 5.1l0.3 2.2l1.5 5.6l1.1 3.7l0 3.4l0.5 1.9l1.4 2.8l-4.7 -2.1l-1.7 -1l5.1 -1.8l2.4 -3.7l2.7 -4.1l1.8 -6l1.6 -6.2l0.9 -2.3l4.3 -4.2l4.7 -1.1l5.5 -1l5.5 1.8l2 0.8l5.3 1.9l6.2 1.7l4.5 2.7l4 2.2l2.2 1l4.5 3.2l5.5 3l4.9 1l3.8 -0.3l2.7 -0.7l2.4 -0.3l4.3 -1.2l3.9 -2.4l1.3 -1.4l2.1 -3.6l2.4 -1.7l0.4 -1.8l-0.3 -1.9l-0.3 -5l0.2 -1.9l0.5 3.5l-2.3 3.3l-1.3 4.1l-0.3 4.6l0.7 3.8l-0.1 3.3l0.3 5.1l0.4 5.4l-1 1.9l-0.7 3.9l0.1 2l-0.3 4.4l-0.8 1.6l-1.8 2.6l-1.3 1.7l-3 5.5l-2.7 5l-0.9 1.8l-2.7 3.9l-4 -1.4l-5.3 0.1l-3 1.7l-1.4 1.2l-5 3.9l-3.7 3.1l-5 2.4l-3.6 -2.4l-2.3 -1.2l-4.2 -3.8l-2.7 -3.3l-4.6 -4.2l-2.2 -2.9l-2.1 -1.7l-2.6 -1.8l-4.2 -3.2l-3.4 -3.6l-3 -3.2l-5.3 -3.5l-1.8 -0.6l-5.8 -1.1l-1.9 -2.3l2.7 0l4 -0.5l4.4 -2.1l2.6 -1.1l3 -1l6.1 -0.6l5.9 -2.4l1.5 -0.6l4.5 -1.7l3.3 0l4.3 -0.9l5.2 1.4l3.1 0.7l3 0.2l1.7 0.1l3.9 1.4l4.2 0.7l3 -0.1l2.4 -0.1l4.1 -0.1l5.1 0.3l2.5 0.4l3.6 0.7l3.5 0.8l3.2 1.5l0.2 3.1l0.3 2.4l-1.8 3.7l-1.6 4.6l-2.5 5.2l-0.5 5.1l2.9 -1.6l1.4 -2.3l0.4 -2l-0.2 -4.1l-0.5 -4.8l0.3 -4.5l-1.4 1.8l-2.5 2.2l-3.7 3.7l-2.8 2.5l-3.6 1.4l-2.4 1.2l-5.7 1.1l-3.1 0.9l-1.7 0.7l-3.4 3.2l-2.6 3.6l-0.9 2.7l-2.1 1.8l-3 2.4l-4.1 2.2l-4.3 2.6l-3.3 0.5l2.1 4.2l1.9 3.2l2.9 3.5l2.1 1.2l2.2 1.7l4 3.5l3.9 -0.4l4.5 -3.4l4.3 -2.9l5 -3.8l3.3 -3.6l4.4 -3.2l3.5 -3.6l4 -2.8l4.4 -2.6l1.7 -3.2l-1.2 -1.4l0.2 -2.4l-0.8 -2.6l-1.7 -3.9l-1.7 -4.9l-0.4 -2.6l-0.5 -2.8l-0.6 -3.7l-0.6 -3.4l-1.3 -2.8l-1.8 -3.6l-0.7 -4.5l-1.9 -5.9l-1.6 -3.8l-1.9 -3.4l-2 -3.8l-0.1 3.8l1.4 4.9l1.4 3.7l0.5 2" fill="none" stroke="#000" stroke-width="0.52" stroke-linejoin="round" opacity="0.9"/>
<path d="M277.78 235.59L277.07 235.4L275.51 238.59L278.9 233.29L276.4 233.98L278.76 235.88L278.22 233.52L279.57 235.55L278.31 235.04L277.19 238.28L279.18 235.6L277.42 233.42L277.97 235.93M275.59 232.97L274.19 233.65L277.58 234.14L277.81 230.18L275.94 234.79L274.04 230.64L275.23 232.99L276.68 233.19L276.3 234.92L274.57 231.18L274.8 231.65L275.52 233.46L274.03 233M188.18 273.83L188.45 273.86L188.62 272.89L189.5 271.8L187.02 271.54L190.2 276.21L187.51 272.79L189.31 275.98L187.93 273.23L186.74 275L188.53 272.68L185.18 274.57L188.7 275.02M189.83 235.52L189.62 233.61L189.95 234.34L190.24 233.91L189.29 235.85L192.24 237.31L191.29 233.06L189.4 237.05L189.08 238.52L190.56 234.84L191.75 236.46L190.85 237.38L186.83 235.03M258.29 286.01L258.61 285.92L257.49 286.57L258.26 283.86L257.07 286.42L258.93 285.2L257.44 286.73L257.48 284.08L260.94 285.38L257.75 284.25L257.27 286.23L259.82 285.91L258.75 285.55M181.3 235.25L181.6 236.06L181.18 236.05L178.54 235.28L180.75 233.79L183.13 235.28L179.16 235.65L182.51 235.94L178.84 235.98L181 234.89L183.47 235.06L184.2 235.76L178.63 234.98M274.6 232.33L274.1 231.65L273.58 232.77L275.7 229.37L273.51 233.61L273.61 232.09L273.63 232.2L275.88 230.15L276.52 231.05L275.61 234.45L273.78 233.05L273.65 232.51L273.87 232.98M248.09 315.36L250.02 313.98L247.92 312.96L248.42 315.63L247.61 315.75L248.63 314.92L247.15 317.22L247.79 316.76L247.89 318.15L251.09 314.49L249.43 315.75L246.44 314.03L247.7 317.21M275.55 231.92L276.65 232.21L274.27 232.71L272.9 234.59L276.26 232.65L277.77 232.34L272.55 229.92L277.46 232.36L276.81 230.54L275.65 228.92L276.95 232.57L274.93 231.98L275.7 232.64M194.16 317.97L192.9 317.97L194 316.96L193.85 318.27L195.88 315.37L194.38 320.81L195.23 315.48L194.58 318.35L192.99 316.48L191.64 317.69L191.16 319.02L194.1 319.55L194.59 320.86M276.84 321.15L277.93 323.4L278.3 323L275.96 321.4L274.14 318.95L275.55 320.23L278.01 320.92L279.3 320.1L275.06 319.56L276.19 319.21L275.27 321.12L275.44 320.76L276.88 321.5M187.7 236.32L185.4 236.16L188.43 236.73L186.26 234.41L187.38 237.88L188.13 235.85L190.43 238.3L187.81 234.63L185.86 234.65L189.16 238.29L190.64 236.59L186.29 236.21L187.33 237.67M279.06 326.01L278.33 326.36L279.52 326.78L276.06 327.14L281.61 325.39L278.25 328.26L278.7 323.61L279.14 326.77L277.68 327.49L281.41 326.49L281.07 324.66L280.82 326.58L277.33 326.7M222.47 250.61L219.8 252.89L225.23 249.77L221.58 250.28L221.8 249.16L223.44 250L220.59 253.26L222.08 248.13L222.12 250.56L222.82 250.64L221.71 251.24L222 253.61L220.2 252.37M187.37 240.83L188.23 241.13L188.74 242.1L188.94 239.75L186.11 240.99L188.62 242.72L188.35 242.69L186.57 239.11L189.15 240.55L187.62 241.54L186.74 239.07L188.74 240.91L186.01 240.86M229.92 277.76L229.16 280.76L227.84 276.43L232.52 279.01L227.89 279.26L230.4 276.66L229.37 276.19L228.4 279.33L227.12 280.08L232.49 276.7L230.4 277.11L228.56 275.71L229.93 280.29M186.06 235.82L186.54 237.2L186.57 239.1L188.36 236.8L184.42 234.05L187.63 233.71L186.82 237.44L183.39 235L186.42 233.5L182.61 233.83L183.58 235.86L184.48 236.81L188.76 237.48L187.46 232.93L188.04 235.28L184.56 238.9L186.5 236.76M274.08 232.44L273.27 231.92L274.7 230.62L273.76 233.07L276.06 228.64L272.36 234.95L271.43 233.5L272.14 236.24L273.33 233.93L274.33 232.58L273.26 233.24L273.9 232.7L277.74 234.33L277.36 235.16L274.86 233.18L270.28 234.72L271.05 231.07" fill="none" stroke="#000" stroke-width="0.5"/>
<rect x="52.75" y="340" width="112.25" height="110.25" fill="#fff" stroke="#f08888" stroke-width="1"/>
<rect x="81.25" y="365.5" width="56.25" height="56" fill="none" stroke="#6464f4" stroke-width="0.8"/>
<path d="M68.5 357.1l6.3 0.6l2.7 0.3l5.3 0.9l3.2 1.8l4 4.1l1.9 1.5l2.1 0.5l3.9 1.2l5.8 0.9l3.5 1.7l1.3 1.3l5.1 3.6l4.7 1.5l3.2 1.3l5.7 1.4l3.4 2.2l2.1 2.3l4.5 3.6l1.9 0.9l2.4 2.5l3.6 2.6l3.9 1.2l3.7 1.3l-1.8 5.7l-2.2 4.9l0 -3.6l-0.8 -3.7l-0.7 -2.8l-0.4 -4.5l0.6 -3.4l1.5 -3.6l3.8 -3.6l1.8 -5.5l-1.1 -4.8l0.5 -2.7l-5.6 -1.2l-2.2 -0.1l-2.3 1.7l-3.4 4.3l-4.2 3.3l-2.6 1.9l-2.4 2.3l-4.1 2.3l-3.1 3.5l-3.3 4.4l-4.3 4.5l-3.5 3.4l-3.5 5.2l-4.5 4l-1.9 1l-3.3 3.3l-3.9 3.2l-2 1.1l-2 1l-0.9 3l-1.3 4.6l-0.2 4.4l-0.5 2.7l0.1 5.1l0 1.7l-0.3 -4.2l-2.2 -2.1l0 -4.2l0.4 -2.6l-4.5 -4.3l-2.9 -1.1l-4.5 -1.5l-4.2 -1.7l-4.3 -1.3l-3.6 -2l-1.1 -1.8l1.6 2.3l1.1 4.2l-1.4 -3.1l0.8 -5l1.4 -5.1l1.5 -3.7l0.4 -3.6l0.4 -2.2l0.9 -2.7l0.7 -3.1l0.9 -3.4l0.1 -5.2l0.2 -5.6l0.4 -1.9l0.6 -1.6l1.4 3.5l0.8 2.9l4 -4.5l2.2 -3.2l3.3 -4.4l3 -4.1l1.4 -1.3l1.8 -1.4l4.8 -2.2l1.3 -1.1l2 -1.4l0.5 -2.5l0.3 -1.1l0.1 2.3l-3.1 2.7l-2.4 3.3l-2.1 3.5l-2.7 1.9l-4.8 3.9l-2.6 3l-2.7 2.1l-2.5 4.1l-3.2 5.2l-1.2 1.8l-0.8 1.9l-1.1 4.1l-1.9 6.1l-0.8 4.6l-0.7 3.4l-0.2 3.2l-0.5 2.2l0.1 4.6l-0.1 2.3l-1.1 6l-0.4 2.2l-2.5 5.6l0.7 2.5l0.1 0.8l1.9 2.2l1.5 2.5l0.9 1.1l3.6 -3.8l3.7 -3.1l5.4 -3l4.9 -3.4l3.3 -3l1.9 -2l-0.1 -4.6l-0.2 -6l-0.4 -4l-0.9 -2.4l-2.1 -4l-1.3 -1.9l-1.7 -3l-0.9 -5.4l-1.4 -5.8l-0.2 -1.7l-0.5 -4.4l-0.5 -5.5l0.3 -6.1l-0.4 -5.8l-0.5 -3l-1.1 -5.9l0.5 -2.5l1.6 1.8l0.8 1.6l0.5 1.9l3.6 4.5l0.6 5l0.4 3.5l0.3 2.4l0.1 2.7l-0.3 5.3l-0.6 2.5l-0.4 1.8l-0.4 3.5l-1 3.8l-0.5 2.9l-0.4 2l-1.6 4.2l-1.2 3.2l-0.4 4.3l0.3 2.3l0.1 2.5l0.3 4.3l1.1 4.5l2.6 5.3l2.6 4.4l1.7 3.4l-1.6 1.7l-1.9 2.3l-2.1 0.3l-2.8 -2.1l-3.7 -3.7l-2.5 -2.4l-3.1 -3.3l-2.9 -3.9l-1.8 -4.9l-1.4 -5.5l0.7 -4.6l3.6 -3.9l2.6 -5l1.4 0.7l2.2 0l2.9 -0.1l6.1 1l-2.4 2l5.2 -2.8l1.6 1.4l1.8 2.6l2.2 3.5l0.6 4.1l0.3 5.3l-0.2 5.9l-4.1 2.5l-1.5 2l-5.2 3.3l-1.6 0.9l-2.6 2l-3.7 2.3l-4 3.8l-0.4 0l-2.2 -2l-2.2 -2l-2 -3.7l-1.2 -3.2l2.1 -3.8l-0.5 -2.7l2 2.3l3.5 4.4l1.4 1.3l2.7 3.1l3.3 5.1l1.6 2.7l2.8 -1l5.5 0.6l6.1 -1.2l2.9 0l4.4 -0.8l6.2 -0.7l1.8 0.1l3 0l5.1 0.6l2.8 -0.4l3.1 0.1l2 -0.2l4.8 0.4l2.9 -1l2.6 -0.7l2.6 -0.9l4.3 -0.3l6.2 -1.1l5.1 -1l2.9 -3.3l0.5 -3.8l-0.6 -2.1l-1.5 -5.8l-0.2 -5.9l-0.5 -6.3l-0.1 -3.4l-0.3 -2l0.1 -3l0.5 -6.1l-0.2 -3.2l-1.2 -1.4l-1.9 -2.8l1.4 -2.3l1.8 -4.9l-3.7 -3.4l-1.2 -1.4l-1.7 -1.4l-4.2 -4.1l-1.3 -1.5l-3.4 -3.5l-1.1 -1.3l-2.9 -5.3l-2.4 -3.3l-2.5 2.4l-1.5 1.6l4.2 0.1l2.8 0.1l2 0.1l5.2 0.9l6.2 0.5l4.5 1.8l0 4.8l-1.1 3.5l-0.4 2l0.1 3.1l-2.8 2.1l-2.3 -4.9l-0.3 -1.8l0.2 -4.7l1.5 -2.9l1.4 -0.9l3.5 -2.6l1 -1.9l1.2 -2.8l1.9 -4.3l1.7 0.7l-3.5 0.1l-4.2 0.4l-4.7 0.9l-5.4 0.5l-1.4 -0.9l0.5 2.1l0.5 2.6l1.4 3.9l1.7 5.7l0.7 4.2l1.7 4.3l0.7 1.6l0.9 2.7l2.4 4.8l2.4 3.3l0.4 1.6l0.4 2.4l1.3 5.1l-1.2 1.9l-2.7 4.6l-2.2 5.2l0.6 3.2l-0.3 3l-0.8 3.6l-1.2 4.5l-1.7 4.1l-0.4 2.3l-1.8 6l2 2.6l2 3.2l-2.5 1.4l-2.1 0l-5.2 -1.4l-6.3 -0.6l-6.2 -1.6l-3 -0.2l-5.5 0.7l-1.5 1.2l-5.2 -0.1l-3.9 -2.6l-3.9 -1.1l-2.1 -0.2l-3.3 0.6l-4 -0.7l-4.4 -0.4l-5.3 -0.3l-3.4 0.1l-2 0.2l-2.1 1.1l-2.3 0.3l-5.9 2.2l-1.8 1.2l-0.8 1.7l-2.1 1.8l0.9 -5.5l-1.1 -4.6l2.6 -1.8l4 -1.4l1 -1.3l1.8 -1.7l3.7 -1.7l3 -1.1l5.3 0.1l3.5 0.7l2.7 0.3l4.4 0.5l5.3 -0.3l5.2 -0.8l3.3 -0.2l2.6 0.9l3.2 1.3l1.7 0.6l3.2 0.8l5.6 -1.2l4.2 -1.6l2.5 -0.2l3.8 -1l5.4 -1.2l6.3 0.4l4.4 -0.6l3.3 -1.5l2.2 -3.2l-2.3 -3.3l-1.5 -3.7l-0.3 -1.6l0.4 -4.7l0.5 -4.3l-0.5 -4.7l-0.2 -5.6l0 -5.6l-0.3 -5.1l1.4 -3.2l1.3 -5.4l2.3 -2.3l-1.4 -2.2l-3.5 -3.4l-2.4 -5.4l-3.6 -4.6l-2.5 -1.9l0.3 6.1l-2.9 2.6l-4.2 4.2l-1.8 2.5l-2 2.2l2.1 1.3l2.1 0.8l1.7 0.4l2.5 1.7l2.1 2.9l-4.7 3.3l-1.8 1.1l-3.2 2.6l-1.3 2.4l-0.8 5.7l-0.7 2l-1.2 2.2l-0.8 1.5l0.4 1.9l-0.4 3.8l-0.4 2.1l-0.7 2.8l-0.7 2.2l-0.2 2.4l-0.2 3.9l-0.5 4.9l-2.2 1.3l-3.3 1.9l-2 1.2l-1.2 2.3l-1.6 2.9l-1.2 1.5l-3.4 2.6l-1.4 1l0.3 3.8l0.5 0.3l-0.8 -4.9l-1 -3.7l-0.4 -2.1l-0.3 -2.2l-1.2 5.7l-1.6 6.1l-0.8 1.2l-3.9 -0.3l-4.8 -0.1l-6.1 -1.6l-5.9 -1.5l-1.1 -3l-2.4 -5.6l-1.4 -2.8l-0.5 -2.5l-0.3 -3.1l-0.8 -3.1l-1.8 -0.5l-3.8 -1.5l-4 -1.3l-2.3 -3.5l-1.7 -4.4l2.3 -3.2l3.7 -3.6l3.3 -3.9l1.1 -4.7l0.5 -2.7l2.1 -4.2l2.9 3.1l4.9 3.9l6 1.1l2.9 0.9l2.3 0.5l4.3 1.4l1.6 0.7l2.3 2.7l2.8 3.8l1.7 -2.3l3.2 -3.7l2.7 -3.7l1.6 -4.1l0.8 -1.9l0.6 -2.6l3.9 -4.5l2.1 -2.6l2.5 -2.2l0.7 -5.8l1.3 -2.8l1.3 -3.3l1.8 -4.3l1.5 -4.1l4.9 3.4l3.5 3.4l3.2 2.9l2.9 1.9l5.1 2.1l2.1 5.9l0.8 4.3l0.7 5.1l-1.5 5.3l0.6 1.6l0.1 5.5l-3.1 3.6l-3.2 2.9l-0.9 1.6l-1.3 2.5l-1.4 5.9l-0.3 5.1l-1.4 2.9l-0.9 2.4l-0.2 4l-2.5 4.4l-2.1 3.1l-5 3.9l-3.1 1l-2.4 -0.2l-6 -0.5l-2.1 -0.1l-5.4 -0.1l4.7 2.3l4.1 0.9l5.7 0.8l4.2 -0.3l4 0.9l1.2 -2.7l3.3 -5.5l1.5 -4.2l1.2 -3.8l1 -1.4l1.8 -2.9l1.6 -3l3.5 -3.2l4.3 -4.4l0 -3l-1.7 -5.7l-0.3 -4l0.5 0.4l-2.2 0.2l-3.6 3.8l-0.8 1.9l-0.6 1.5l-3.1 1.2l-4.9 2.8l-1.7 6.2l3.3 1.2l4.8 1.4l3 1.2l2.6 0.8l3.2 0.8l2.3 0.8l-2.7 5.3l-1.4 2.8l-2.2 4.3l-2.4 3.4l-3.9 4.5l-3.3 -0.5l-2.9 0.1l-5.4 1l-4.2 -1.7l-5.5 -0.8l-5.6 -0.8l-2.6 -0.4l-3.9 -0.9l-4.2 -1.3l-3.9 -2.9l-3.4 -1.9l-2.5 -2.3l-3.3 -2.7l-2.3 -3.2l-3.6 -4.4l-2.1 -2.7l-4.7 -3.3l-1.2 -1.2l-1.9 -2.1l-2.9 -2.5l-2 -3.4l-1.4 -3.8l-1.3 -5l-1.2 -2.1l-2.5 -3.2l-1.4 -1.4l0.7 -2.5l4.4 -1.6l1.8 -0.4l4.5 -2.8l1.3 -1.3l2 -2.1l3.7 -2.4l1.5 -0.9l5.9 -2.3l5.7 -1.5l5 -0.9l2.7 0l1.7 0l1.8 0.2l2 0.7l2.2 0.5l2.3 3.4l2.1 2.7l1.7 1.5l2 2.6l1.6 3l0.9 3.6l2.7 4.2l-1.2 4.8l-0.4 2l-0.4 6.2l-0.7 3.1l-1.5 5.5l2.2 3.2l1.2 2l2.1 3.9l1.5 1.8l4 3.4l1.9 2l1.8 1.8l2.2 1.7l1.5 1.3l2.6 4.9l0.9 2.4l-4 -0.7l-2.7 -1.1l-6.2 -1.1l-2.9 0l-6 -0.7l-3.4 -1.4l-1.9 -1.6l-3.3 -2.4l-2.9 -0.7l-3.8 -0.6l-2.1 -0.9l-5.8 -2l-3.2 -1.4l-6.1 -1.6l-3.3 -1.5l-1.9 -0.9l-3.7 -2.6l-3.4 -1.8l-5.1 -3.2l-5.3 -2.4l2.6 3.9l1.2 1.5l1.5 3.1l2.5 4.3l5.3 3.6l4.1 2.3l3.1 1.9l3.7 2l2.5 2.1l3.6 3l4.9 -0.1l3 -0.5l4.4 -3l4.7 -1.5l1.9 -0.2l4.1 1.8l5.8 1.7l3.5 2.3l-0.3 -5.6l-1.4 -4.9l-1.6 -4.5l-1.1 -2.3l-1.8 -1.1l-2.2 -1.3l-2.1 -1.4l-1.3 -1.2l-4.5 -3.7l-1.8 -2l-1.6 -2.7l-3.2 -3.6l-2.9 -4.6l-0.4 -1.6l-0.4 -3.9l-0.9 -2.2l0 -2.8l-1.1 3.4l-0.5 1.7l-1.5 3.5l-1.8 4.6l-1.2 3l-2.5 4.8l-1.2 3.9l0.1 4l0.6 3.6l0.9 5.9l0.8 2.1l0.9 1.5l2.4 4.9l1.7 0.9l0.8 -1.9l2.1 -3.2l2.3 -3.8l-1.4 -5.8l-0.3 -1.8l-0.2 -2.9l1.3 -3.4l0.8 -2.7l0.5 -4.1l0.6 -5.4l0.4 -2.9l0.5 -4.1l1.5 -3.5l3.4 -4.5l4 -3.4l3.8 -2l5.8 -1.5l1.8 -0.4l5 -0.6l3.7 -0.4l6.1 -0.5l2.7 0.2l3.5 -2.8l2.8 -3.1l2.1 -1.5l2.9 -5l1.2 -2.8l1.5 -4.5l0.3 -4.2l0.5 -2.6l-0.4 -4.9l-3.2 1.8l-4.9 4.1l-4.7 3.6l-3 2.3l-1.7 1l-4 -0.4l-4.5 -0.5l-2.9 -0.8l-2.3 -0.6l-2.6 -0.6l-1.6 -0.1l-3.1 0.7l-5.2 1.7l-4.3 1.5l0.7 4.7l1.8 5.4l0.2 3.2l-0.1 5.8l-0.4 5.6l0.1 1.8l0.3 4.2l0.7 2.5l-0.4 3.9l0.8 3.2l0.9 3.3l2 5.6l0.7 2.8l2.6 1.2l2.3 0.8l1.8 0.7l3 1.1l2.6 1l3.1 3.1l3.7 5.1l1.7 2.1l1.7 1.5l2.2 1.4l1.8 1.4l4 2.1l0.5 -2.2l1.8 -3.2l1.6 -3.1l0.7 -4.7l0.1 -5.3l0.5 -2.8l0.4 -3.6l0.4 -3.5l0.3 -3.9l-0.1 -5.9l-0.1 -2.7l0.3 -4.2l-0.2 -5l-0.3 -1.7l-0.3 -2.6l-0.8 -3.8l-0.8 -4.8l-0.2 -2l0.2 -3.3l-0.4 -1.8l-1.6 -4.3l-1.9 -3l-2.7 -3l-5 -1.8l-3.4 -0.7l-5.1 -0.6l-5.5 -1.4l-2.5 0.9l-1.4 6.1l-1.3 2.5l-2.7 4.1l-2.4 3.1l-1.2 1.9l-2.2 2l-1.4 2.7l-1.3 2.5l-1.4 3.1l-0.7 1.7l-0.7 3l-2 3.8l-2.7 4.2l-2.6 4.1l-1 1.4l-2.2 3.5l-2.6 3.4l-1.5 4.2l-0.6 1.7l-1.2 4.5l-1.5 4.5l-0.3 5.5l-0.4 1.7l-0.7 5.7l-0.3 6.1l-0.4 -0.4l-1.3 -1.1l-1.7 -2.3l-4.2 -2.8l-3.7 -1.9l5 1.5l3.3 0.1l2.7 -0.4l2.8 -0.3l1.7 -0.1l1.8 -0.4l5.2 -2.2l2 -0.7l2 -0.5l6.1 -1.5l3.2 -0.6l6.1 -1.2l4.5 -0.2l2.9 0.5l3.3 -0.3l4.7 -0.2l4.5 0.1l4.5 -0.4l3.5 -0.4l6.3 0.5l1.8 0.3l1.4 -1.7l1.3 -5.2l-2.7 -5.5l-1.5 -2.1l-1 -1.4l-0.9 -4.6l-0.1 -2.2l-0.6 -5l-0.4 -5l0.2 -6.1l0.1 -2.3l-0.6 -1.8l-1.5 -5.3l0 -2.8l-1.1 -4.8l-1.7 -6.2l-2.6 -5l-1.3 -3.3l-2.2 -3.7l-1.4 1l-1.9 1.3l-2.8 0.7l-3.3 2.2l-2.2 2l-3.9 3.6l-5.2 3.3l-1.8 1.8l-2.6 1.2l-3.8 0.4l-5.9 -0.1l-3.3 -0.3l-5.5 0l-4.5 0.1l-4.7 -0.3l-4.6 -0.2l-2.7 0.6l-3 1.2l-3.1 0.8l-6 -0.4l-1.6 -1.9l-1.4 -4.7l-1 -3.7l1.3 -2.3l4.5 1.7l1.4 2.1l5.1 2.8l2.3 2.4l2.6 4.3l1.3 1.6l3.2 2.1l2.6 1.3l5.4 1.2l2.7 0.7l2.6 1.4l2.1 1.1l2.6 1.1l2.3 0.9l5.6 2.1l3.1 1l5.4 3.3l2 2.1l1.2 1.6l3.6 3l2.3 1.8l4.7 3.8l4.6 1.9l4.3 3.5l-0.6 5.8l0 3l-0.7 4.4l-2.3 3.5l-1 1.4l-1.8 -0.9l-3.7 -1.9l-5.1 -2.2l-4.2 -2.9l-1.9 -3.3l-2 -2.6l-0.8 -1.8l-1.7 -2.2l-2.3 -3.8l-1.2 -1.3l-2.7 -2.1l-4.4 -4.4l-5 1.9l-1.4 0.8l4.8 1l5.8 2.6l2.9 1l5.1 -0.4l2.1 0l3.4 -0.1l3.2 -0.1l3.4 0.1l2.6 0.9l5.2 2.6l1.8 0.2l2.5 0l4.6 1.6l1.7 0l3.2 1l1.9 1.2l1.6 -0.8l2.3 -4.3l-2.1 -2.4l0.5 -2.6l-1 -5l-2.7 -5.1l-3.1 -4.6l-0.6 -3l-0.8 -3.3l-0.2 -1.8l-1.7 -5.7l-0.4 3.4l0 2.3l-1.5 1.2l-5 3.9l-2.4 2.5l-2.6 4l-2.1 2.1l-1.5 2.1l-2.5 2.9l-2.6 2.9l-3.2 3.2l-1.9 3.5l-2.1 3.5l-0.9 2.6l-1.1 1.5l-1.7 4.2l-0.6 2.9l-1 2.2l-2.7 4.6l-1.2 3.5l-0.8 3.5l-1.1 3.2l-1.3 2.4l-2.6 0l-4 -0.5l-3.7 0.4l-3.5 0.6l-2 0.1l-4.9 0.4l-3.2 0.4l-3.3 0l-3.4 -0.6l-4.8 -0.2l-1.9 0l-4.1 -0.8l2.4 -1.5l3.3 -2.8l1.8 -4.3l1.6 -4.7l0.4 -1.9l2.6 -4.2l0.9 -3l0.3 -3.7l0.8 -2.7l0.1 -2.3l-0.8 -6.2l-0.4 -4.5l-0.8 -5.9l-0.2 -2.1l-0.9 -1.9l-1.8 -1.4l-4.4 -1.9l-3.8 -0.8l2.9 -3.3l1.8 -4.4l1.1 -2.7l0.9 -1.9l1.3 -2.7l2.5 -4.7l2.7 -5.6l2.1 -4l0.8 -1.3l1.8 2.4l2.8 3.3l0.5 1.5l0.3 1.8l1.5 2.7l1.8 5.5l0.5 2.8l0.9 2.6l0.9 1.5l1.6 3.6l2.2 5.9l2.5 3.8l2.3 5.9l2.3 4l0.8 1.7l2.1 5.4l1.4 2l1.7 1.7l3.6 5l1.4 3l2 5.4l1.2 1.5l2.6 2.7l1.7 0.8l1.5 0.9l2.3 1.9l2.3 2.2l1.6 2.2l4.4 2.5l4.2 2.2l2.9 -1.1l6.2 -1.5l-1.2 1.2l-5 -2.2l-5 -0.2l-2.9 0l-1.9 0.1l-3.1 0.3l-6.2 -0.4l-4.6 0.8l-4.3 1.4l-3.8 1l-2.2 0.5l-4.7 -1.7l-4.4 -2.2l-1.7 -1.4l-1.4 -0.9l-2.5 -2.8l-1.2 -1.6l-1.2 -3.6l-0.7 -2.6l-0.4 -2.1l-2.3 -5.6l3.5 -3.7l3.6 -3.6l3.6 -1.5l4.9 -0.5l1.8 -0.1l6.1 -0.5l4.2 1.1l4 1.1l4.6 2.8l4.1 4.2l1 1.8l2.9 5l1.3 2.7l2.8 4.4l1.3 1.4l2.7 3.2l4.4 -0.1l4.6 -0.2l3.6 -1.4l5.7 -0.2l0.5 -1l-2.4 -3.1l-2.2 -2l-3.9 -2.9l-3.2 -1.3l-3.1 -1.7l-3.9 -2.3l-3.2 -2.6l-2.2 -1.4l-2.6 -2.6l-3.9 -4.2l-4.1 -3.7l-1.7 5.7l-0.5 2.3l-0.9 2l-0.8 2.1l-1.4 2.6l-2.5 4.1l-3.2 3.4l-3.3 3.5l-2.7 2.4l-2.1 1.7l-4.2 4.4l-1.9 2.1l-3.2 -0.3l-2.9 -1.9l-5 -0.9l-3.2 0l-1.7 0.2l-5.9 0.3l-5.2 0l-4.6 0l-3.7 -0.4l4.1 0l6.3 0.1l4.7 0.3l4.4 0.2l5 0.4l6 0.9l3.8 1l2.8 1.2l2.3 -1.4l2 0.1l6 -0.3l5.9 0.5l5.1 -0.8l3.4 0.7l4.7 0.8l3 -2.1l4.2 -3.2l2.9 -2.4l1.4 -1.8l3.7 -3.9l4 -3.7l2.7 -2.3l1.8 -1.8l1.9 -2.2l2.3 -5.1l0.2 -5.9l0.2 -4.8l-1.9 -4.3l-2.8 -0.9l-2.5 -3.2l-4.4 -4.2l-3 -3.6l-2.7 -1.6l-4.1 -3.9l-2.9 -2.9l-1.8 -1.4l-6.1 1l-6.2 0.9l-5.3 1.3l-3.2 0.9l-3 1.9l-3.6 4.8l-3.1 2l-2.9 2l-4.1 -3.2l-1.4 -1.5l-2.9 -3.1l-1.1 -1.8l-1.8 -1.9l-2 -3.2l-1.4 -1.2l-5 -2.6l-2.8 -1.6l-3 -2.5l-3.7 -1l-2.6 -3.5l-1.5 -2.1l-1.5 -4.7l0.1 -2l-0.9 -3l2.1 4.4l1.4 2l0.8 1.9l0.4 5.6l0.2 4.3l0.9 5.7l-1.4 -1.5l-0.8 -2.8l0.1 2.4l0.3 5l-0.3 3.5l0.2 3l-0.8 2l3.1 0.5l5 0.1l3.5 -1l1.7 -0.9l1.8 -1.1l3.4 -1.7l2.2 -1l4.4 -2.6l3.6 -3.5l4 -2.8l2.7 -0.8l5.3 -3.3l2.8 -1.7l2.6 -0.8l3.9 -0.5l5.4 -0.9l2.5 -0.4l5.7 -2.9l4.5 -2.8l3.6 -2.5l3.7 2.5l1.2 -3.8l0.8 -1.5l3.9 3.4l2.6 2.1l4.1 4.3l1.1 3l2.5 5.1l0.4 4.8l-2 0.8l-2.2 0.9l-3.2 0.8l-2 0.6l-3 -0.9l-5.8 -1.9l-3.7 -0.1l-2.8 -0.3l-2.5 -1l-4 -1.1l3.7 0.7l5.4 1.2l5.9 1.6l6.1 1.1l3.3 1.1l3.6 1.4l2.4 3.9l-0.3 2.7l-2.5 4.7l-3 -0.6l-2 0l-5.1 0.9l-3.4 0l-3.8 -1.6l-4.1 -4l-1.7 -0.8l-3 -1.6l-3.6 -1.8l-2.6 -1.7l-2.3 -1.9l-4.5 -2.1l-2.3 -1.9l-3.9 -4.3l-2 -2.9l-3.5 -4.8l-3 -3.2l-1.1 -1.6l-1.6 -2.5l-4.1 -2l-2.7 2l-4.7 2l-3.2 4.8l-1.2 1.3l-0.9 1.5l-1.1 3.1l0 3.6l-1.8 4.7l-2.4 5.1l-3.1 4.5l-1.4 2.6l-0.8 1.9l-4.3 2.5l1.4 4.2l0.8 1.4l0.3 2.8l1.1 5.3l1.2 2.1l1.8 4.8l0.6 2.4l1.9 5.1l1.2 1.8l4.2 3.8l5.4 2.5l4 2.9l3.3 2.3l5.1 3.7l2.7 1.5l3.3 0.9l4.6 -1.2l2.7 -0.2l3.3 -3.2l3 -2.5l1.4 -4.4l0.9 -3.3l0.4 -1.8l0.5 -1.8l1 -4.8l1.2 -6l0.7 -1.5l3.3 4.6l0.9 6.3l0.6 2.3l1.3 5.1l1.3 4.1l2 2l3 3.4l3.4 0.9l2.3 0.1l1.7 -5.3l0.6 -3.1l2 -3.9l1.4 -1.9l0.9 -2l0.6 -3.1l1.7 -3.8l0.9 -3.2l0.3 -2.5l0.6 -5.9l1 -3.4l1.2 -3.6l1 -5.2l-1.1 -5l-1 -5.5l-1.4 -4.6l-2.4 -3l2.5 -5.2l1.1 -5.3l-0.5 -5.8l2.6 -2.5l1.9 -1.9l1.7 -2.3l-2.8 1l-3.1 0.5l-4.1 1.1l-3.5 -1l-2.2 -0.3l-3.5 -0.4l-5.1 0.1l-2.2 1.1l-2.9 1.8l-2.4 -1.3l6 -1l2.7 0.2l5.9 1l4.4 0.4l4.8 0.6l0.7 1.8l3.5 3.7l1.2 1.4l1.7 2.1l-0.9 2.8l-0.9 2.3l-2.5 2.6l-1.4 5.6l-0.4 4.4l-0.3 2.3l0.2 3l0.2 4.1l-0.6 4.9l-0.2 4.3l1.1 5l0.9 5.4l1.1 4.5l1.2 3.6l0.3 2.3l0.7 4.4l0 2.5l0.2 1.7l-0.2 2.4l-1.2 3.8l-1.3 5.9l-0.1 0.7l2.3 -3l1 -1.3l0.7 -5.5l-0.5 -1.9l0.3 -2.6l-0.2 -1.6l-1.1 -4.4l1.6 -4.3l-2.2 -3.5l-4.4 -2.6l-3.9 -1.5l-2 -0.9l-3.4 -2.3l-4.2 -4.2l-3.6 -4.1l-2.3 -2.9l-0.9 -2.1l-1.1 -4.3l-0.2 -2.4l-0.3 -3.9l-0.6 -5.3l-1.2 -6.1l-1 -3.2l-3.1 -5.4l-1.3 -2l-1.6 -2l-1.5 -1.2l-1.8 -2.5l-1.2 -1.1l-4.5 3.2l-2.4 1.6l-5.5 3.1l-1.5 0.7l-5.3 1.9l-2.2 1.2l-3.6 3.1l-4.7 2.2l-3.6 1.6l-1.4 1l-3.6 1.1l-3.1 1l-4.4 2.6l-2.7 2.5l-0.6 2.9l-0.1 2.6l0.5 3.3l0.5 3l-1.8 5l-0.7 2.3l1.3 5.4l1.4 2.4l0.9 3.1l1.8 6l0.6 6.1l0 5.4l-0.7 3l-0.9 -3.6l-0.9 -4.8l-2.7 -0.1l2 -2.2l1.9 -2l2.8 -2.4l2 -1.3l2.5 -4l0.7 -2.6l2.6 -4.5l1.7 -3.1l1.8 -4.2l4 -3.6l4 -1.2l2.6 -0.3l5.3 -0.8l3.6 -0.3l4.7 0.4l2.8 2.9l0.7 1.7l1.3 1.9l2.6 2.6l3.4 3.6l1.8 1.4l2.5 2.5l2 2.4l1.1 1.1l5.1 2.9l2.3 1.4l1.7 4.3l1.6 5.6l0.8 3.5l0.4 3.4l0.9 2.3l1.1 4l4 3l1.2 -0.4l1.9 -1.3l1.6 -0.3l6.1 -0.7l2.4 -0.3l0.8 -3.7l-3.9 4.8l-2.4 2.5l-3 1.4l-1.8 -1.4l-5 0.4l-5.5 -0.5l-4.8 -1.7l-4.1 0.6l-4.1 -0.5l-3.3 -0.8l-1.7 0.6l-2 -1.2l-3 -0.5l-2.5 -0.2l-3.3 0.2l-2.4 -0.1l-3.5 -0.5l-2.1 -0.5l-5.6 -0.4l-3.7 0.5l-4.2 0.3l-4.5 0.4l2.6 1.5l4.2 3.1l2.1 -1.5l5.4 -0.9l4 -0.1l3.5 -0.2l3.4 0l3.9 -0.3l1.6 0.2l-2.7 0.6l-2.8 -1.3l-4.1 1.9l-0.6 -1.7l-3.5 -2.3l-1.6 -1l-2.8 -2.6l-1.4 -1.5l-3.5 -3.2l-1.6 -2.6l-1.1 -1.4l-1.2 3.7l-0.9 3.9l-0.2 2l0.5 2.5l0.6 3.9l1 1.1l-0.7 -2.1l-3.3 -2.5l-2.6 -1.5l-3.6 -1.3l-1.5 -0.7l-3 -1.1l-5.3 -2.9l-3.4 -2.6l1.4 -0.9l4.4 -3.1l1.7 -1.1l2 -1.1l4.3 -4.4l3.7 -4.6l0.9 -1.8l1.4 -4.9l2.4 -3.8l4.3 -3.5l5.3 -2.9l2.5 -2.9l3.6 -4.6l2.4 -3.5l3.3 -2.9l3.7 -2l1.7 -1.1l1.6 -1.2l5.1 -3.7l3.9 -3.4l1.2 -1.6l1.4 -3.9l0.6 -2.2l1 -3.1l0.2 -4.6l2.8 0l0.1 2.3l0.3 2l0.6 1.8l1.9 5.2l1.2 4.6l2.4 4.8l1.8 5l-0.1 2.2l0.1 1.7l-1.3 6.1l-0.9 1.8l-1 1.6l-2.8 4l-2 2.3l-3.6 2.7l-2.9 4.1l-2.5 3.8l-2.6 4.8l-3.1 3.5l-3.7 -2.6l-3.4 -0.2l-5.2 2.1l-5.6 1.5l-2.7 2l1.4 4.6l0.6 3.6l0 1.7l-0.3 6.1l3.8 3.2l1.3 -0.4l2 -1l4.1 -2.6l5.2 -1.3l5.1 -2.4l4.1 -1l2.2 -0.7l4.1 -2.3l3.2 -1.9l3.4 -4.6l1.4 -1.6l4.9 -3.3l2.7 -1.7l2.7 -1.9l4 -4.1l1.6 -1.7l3.3 -3.1l-2 -2l-2.8 -3.1l-3.9 2.1l-2.8 0.1l-0.7 3.2l1 4l0.9 5.6l0.4 1.7l2.6 4.3l0.8 3.5l-0.6 5.8l-0.4 2.2l-1.1 2l-1.7 4.7l-1.5 1.3l-1.5 1.3l-3.8 -0.9l-3.9 0.4l-4.3 -0.7l-3.6 -2.2l-2 -1.7l-4.7 -2l-3.9 -1.2l-1.8 -0.2l-4.5 -0.9l-3 -1.4l-4.2 -1l-3.9 -4.8l-4.1 -3.1l-4.4 -4.5l-4.1 -2.7l-1.4 2.9l-2.7 5.2l-1.1 1.7l-1.4 3l-1.3 5.6l-0.8 2.8l-1.7 5.5l-2.8 0.5l-4.7 0l-2.9 -0.8l-1.7 -1.4l1.5 0.5l5.9 0.1l3.5 0l5.2 -0.2l4.4 0.6l4 0.7l4.4 -1.5l-2.2 1.2l-4.8 -0.9l-5.3 -0.3l-4.3 -1l-3.3 0.3l-2.4 0.2l-0.7 -1.8l0.4 -3.4l0.4 -3.3l-0.2 -5.7l1.1 -6.1l3.3 0.7l6.3 -0.9l6 -1.9l2.7 -0.7l1.6 1l4.5 1.4l3.5 1.9l3.2 1.3l5.9 2.1l3.7 1l1.8 0.2l5.4 -1.4l2.3 0.2l3.5 -1.3l1.7 -0.6l2.1 -1.7l3.7 -4.9l2.5 -1.3l2.8 -1.7l2 -1.9l3 -3.4l1.7 -1.8l5.8 2l4.9 0.6l-0.3 2.5l-4.2 0.4l-1.7 -0.3l-2.2 -0.8l-3.8 0.1l-5.6 1.4l-5.5 1.2l-4.6 2.3l4.2 2.5l5.5 2.1l2.4 1.2l4.3 2.5l4.3 4.2l2.7 3l1.8 1.2l1.2 3.5l-0.5 4.5l-0.1 2.2l-0.2 0.6l-2 -1.3l-4.3 -1.7l-5.6 -2l-3.9 3.3l-1.8 -4.8l-0.2 -1.8l-0.3 -3.1l-0.3 -4l0.2 -3.2l-0.4 -3.2l-1.1 -6.2l-1.6 -3.4l-1.4 -4.6l-0.8 -2.1l0 -1.6l-0.6 -4.9l1.1 2.5" fill="none" stroke="#000" stroke-width="0.52" stroke-linejoin="round" opacity="0.9"/>
<path d="M66.45 439.26L67.96 441.81L66.89 437.32L67.76 439.76L68.55 438.29L69.18 440.86L64.12 436.96L67.92 438.05L67.27 439.18L66.79 440.78L67.63 441.26L63.45 441.2L69.01 436.62M146.29 352.54L145.4 351.14L147.26 350.34L148.31 351.09L147.06 353.15L145.53 350.79L144.76 350.92L145.91 354.46L149.29 353.94L146.73 352.37L146.14 353.16L145.32 350.64L144.19 353.5M110.97 355.67L112.44 355.58L111.34 355.7L112.31 353.54L112.14 354.59L110.45 358.55L113.01 353.72L110.49 354.46L111.24 357.86L111.1 357.65L109.62 356.59L111.4 355.74L110.69 358.03M150.39 435.5L151.57 436.61L150.35 433.86L149.95 434.91L149.43 436.21L151.34 436.59L151.47 436.03L151.58 432.9L151.39 436.43L147.84 436.87L147.79 432.58L149.56 434.41L149.71 435.73M86.69 429.15L88.65 428.23L89.34 429.98L87.01 428.15L85.03 429.96L88.66 427.64L89.47 430.07L86.45 429.01L87.74 431.42L87.15 431.58L86.13 430.94L87.4 428.22L84.11 430.79M150.2 435.66L149.29 434.59L149.52 435.43L150.25 436.69L147.2 434.58L151.32 435.44L149.57 438.37L150.41 435.92L149.65 438.01L149.64 436.41L150.07 435.02L149.87 436.29L149.93 436.89M64.92 354.73L66.38 355.11L65.02 352.48L66.74 357.55L66.44 354.05L64.72 357.57L64.84 355.94L64.42 353.86L64.91 356.04L64.17 355.02L64.21 353.99L67.92 352.79L64.41 353.46M97.94 421.71L100.41 422.28L99.88 424.08L95.46 421.63L97.87 422.56L96.47 422.14L100.53 420.98L97.78 424.17L97.23 423.02L97.26 420.25L99.83 418.98L100.16 420.46L97.86 422.62M146.85 437.24L143.9 437.54L143.85 438.69L144.19 437.34L145.65 437.8L149.1 440.24L147.65 436.03L148.39 436.03L147.75 438.45L146.71 436.02L146.24 434.24L144.81 434.42L145.69 438.44M65.56 438.98L65.87 441.59L64.24 439.52L65.75 439L66.67 439.17L66.51 439.26L63.09 437.33L62.56 440.33L67.71 436.84L65.48 438.75L62.94 438.87L65.93 439.35L65.75 439.85M148.57 358.33L150.01 358.07L149.51 359.83L146.71 358.29L148.72 356.44L149.45 358.78L146.91 356.42L147.59 359.97L147.76 356.56L147.61 360.51L147.2 360.92L148.9 358.39L147.88 358.76M84.72 428.57L85.28 428.97L86.79 425.57L82.67 429.12L83.46 430.28L85.84 428.55L85.46 429.47L85.7 427.92L87.72 428.22L84.07 430.45L86.2 429.79L84.13 430.11L85.12 426.83M129.14 426.47L130.48 426.03L126.14 426.85L126.98 425.47L132.14 427.36L130.74 427.6L129.33 426.61L128.98 426.87L128.35 426.62L126.14 427.41L130.81 426.69L128.56 426.3L128.39 425.36M129.02 428.39L129.67 428.68L129.38 428.98L130.43 430.06L128.67 427.2L129.17 425.49L130.64 427.37L130.5 430.29L130.18 428.58L127.8 426.69L126.02 430.2L126.61 431.39L129.75 428.7M152.29 437.52L150.56 437.38L150.46 434.52L152.52 438.03L154.43 437.88L152.7 435.41L152.22 437.31L150.93 438.41L153.91 437.35L152.86 438.63L153.06 436.73L150.28 437.44L154.4 436.72M92.38 407.1L92.17 407.24L91.52 409.5L90.29 405.25L91.47 407.62L95.38 407.34L91.72 404.7L90.85 406.77L92.42 407.7L94.51 409.49L93.05 407.15L92.77 406.1L94.19 408.21M64.2 355.01L63.49 354.78L64.28 354.45L61.95 351.86L63.58 357.09L61.89 357.23L65.6 357.24L64.02 353.62L66.22 354.92L63.67 358.81L67.67 355.67L63.23 355.65L63.57 356.02L64.98 353.95L62.93 357.48L63.23 353.25L63.78 353.08M152.41 350.22L150.86 351.89L155.75 350.93L154.69 349.73L152.16 349.72L150.06 348.72L152.68 350.77L153.39 351.82L154.31 350.05L153.55 349.45L150.93 348.42L152.03 348.07L154.58 348.11L148.61 349.43L153.07 349.76L148.89 346.42L156.21 349.46M63.66 436.3L65.28 436.8L62.14 435.36L65.29 438.49L64.41 440.1L63.55 437.78L61.81 438.96L62.06 439.3L64.71 435.12L65.81 438.61L61.39 435.43L63.09 437.75L64.43 435.9L59.9 438.26L63.21 436.77L63.17 437.27L62.3 434.51M153.44 437.45L155.54 438.62L155.35 438.55L151.45 439.53L157.24 435.13L153.85 440.26L153.07 438.06L154.1 438.23L155.32 434.44L156.68 438.84L156.91 438.24L153.9 438.78L152.54 437.78L151.99 437.18L154.03 439.78L154.43 437.9L150.72 438.94" fill="none" stroke="#000" stroke-width="0.5"/>
<rect x="173.5" y="340.75" width="110.25" height="109.75" fill="#fff" stroke="#f08888" stroke-width="1"/>
<rect x="202" y="366.25" width="54.25" height="55.5" fill="none" stroke="#6464f4" stroke-width="0.8"/>
<path d="M187.8 358.1l-1.7 3.2l-1.1 1.9l-0.9 1.5l-2.4 4.9l-0.1 4.8l1.2 1.6l-0.8 1.5l-0.3 3.4l1.1 1.7l0.7 2.3l0.3 2l1.6 -2l1.2 -3.4l0.7 -2.4l0.7 -2.9l1.1 -4.1l2.3 -4.4l0.8 -5l1.2 -4.5l0.6 -2.2l1.3 -3.5l4.2 0.9l6.3 1.6l2 0.5l2.1 1l2 1l5.2 3.3l3.4 2.5l1.8 0.4l2.1 1.1l3.5 0.8l6.2 0.7l4.4 1l2.8 1.1l2.2 1.8l-3.5 -0.2l-3.7 -1.3l-2.4 -2.6l-4.1 -3.3l-3.9 -3.3l-4.3 -2.8l-1.8 -1.3l-2.3 -0.8l-4.6 -0.3l-2.8 2.1l-3.2 -3l-3.2 -1.2l-1.5 1l-5.7 1l-2.7 0.5l-1.8 0.1l-1.8 0.3l0.9 -1.4l1.7 -3.5l-5.4 2.4l-2.2 1.2l-5.1 2.1l-1.2 1.7l4.8 4.1l1.2 1.7l1.3 4.5l0.9 4l-0.1 6l-0.6 5.8l0.5 3.8l0.1 4l1.1 4l2.2 4.8l1.7 2.5l0.9 2.1l0.5 1.6l0.6 3.9l0.7 3.8l0.4 1.7l1 2.8l1.3 2.4l3.8 3.6l3.6 3.4l4.9 3.9l1.6 2l3.7 4.3l2.6 1.1l2.1 1.3l1.9 -0.9l5.5 0.3l1.6 -1.2l3.5 2l3.7 -1.4l2.2 0.3l2.1 -0.3l3.9 -0.2l5.8 0.4l5.7 1.2l4.7 0l4.1 -0.3l2.2 0.6l4.8 1.2l3.4 1.2l-6 -0.6l-1.9 -2.7l-1.2 -3l-2.6 -3.8l-4.2 -3.5l6.1 0l3.6 -1.5l4.5 -2l0.7 -0.8l-4.5 1.7l-2.1 3.6l-1.2 3.2l-1 3.1l-1.3 4.6l-2.5 1.4l-2 -2.4l-2.9 1.3l-3.6 -1.3l-4.1 -0.2l-6.3 -0.1l-2 -0.2l-3.4 -0.4l-2.1 -0.7l-4.1 -1.9l-2.3 -2l-2.8 -3.5l-1.2 -1.5l-2 -2.7l-1.2 -2.6l-4 -4.1l-2.4 -2.3l-2.1 -2l-3.2 -4.6l-4.6 -3.6l-1.7 -0.9l-2.5 -1.2l-1.8 -0.6l-1.8 -0.3l-3.4 -0.5l-5.3 -0.3l-1.8 0.1l-3.1 4.8l1.8 2.3l1.5 4.3l0.6 6.4l1.5 5.8l1.3 4.3l0.5 1.7l1.4 3.8l3.4 4.1l-4.1 -0.4l-3.7 -1.3l-4.7 -1.5l-2.6 -0.6l2 -5.6l2.5 -5.4l2 2.4l3.4 2.9l4.8 3.9l4.6 2.8l-0.7 3l-4.5 -4.3l-2.7 -3.2l2.1 -3.5l3.2 -4.4l4 -3.7l2.6 -3.3l1.2 -1.2l4.2 -4l1.5 -0.8l4.3 3.8l2 0.9l5.9 0.6l4.6 1.8l5.2 2l-1.5 -6.1l6 -1.8l2.3 -1.1l1.8 -0.9l1.8 -1.2l2 -1.3l4.8 -1.7l2.2 -0.6l2.2 -0.7l6.3 -1l3.2 0.1l6 -1.2l1.5 -3.4l-5 -3.5l-3.2 -2.3l-4 -4.7l-4.1 -4.3l2 -4.1l-0.8 -1.6l-1 -1.4l2.5 -1.8l1.2 -1.7l2.6 -5.7l1.8 -4.6l2.7 -4.4l0.5 -1.6l1.2 -2.1l-3.3 -0.7l-4.6 -1.9l-3.7 -0.9l-2.3 -1.2l-1.1 -1.5l-3.7 2l-3.7 1.6l-2.7 1.6l-2 0.5l-4.2 1.2l-1.6 0.5l-4.5 1.7l-4.9 1.3l-4.2 0.8l-5.3 0.4l-5.6 -1.1l-5.9 -2.3l-3 -0.6l-2.7 0l-3.4 -0.3l-2.9 -1l-4.8 -2l-6.2 -0.7l-1.3 -0.2l2 -1l4 -2.2l2.6 -1.7l-2.6 2.3l-2.3 2.1l-2.7 1.8l-0.5 0.9l1.6 2.7l1.8 2.7l2.4 4.1l-1.8 6l0.2 4l0.6 5.6l-0.1 4.9l1.9 5.3l1.7 3.1l1.2 4.1l1.2 4.3l1.8 2.8l1.5 1.9l3 3.6l3 3.2l2 3l3.4 2.3l3.8 1.9l-3.1 3.4l-2.6 4.5l-2.1 2.7l-2.8 3.2l-2.1 4.3l0.9 -2.7l0.8 -1.4l1.7 -2.5l3.9 -3.8l1.5 -2.2l1.3 -1.3l0.2 5.2l-0.5 4.8l-0.4 2.4l-0.5 0.7l-1.5 -0.9l-3.2 -0.5l-4.1 0.5l-1.8 0.2l-4.8 1.2l-5.4 0.2l-5.8 0.6l0.3 0.7l1 -1.4l2.3 -2.4l4 -2.5l4.8 -2.4l2.1 -1.7l1.9 -5.6l-0.8 -3.9l-2.2 -5.7l-0.7 -3.1l-0.9 -2.4l-2.5 -5.2l-1.7 -3.7l-1.8 -4.9l-1.2 -5l1.6 -2.6l0 -2.6l-0.3 -5l-0.4 -5.8l0 -4.8l-0.5 -4.2l-0.3 -3.1l-0.3 -5.1l0.2 -5.3l-0.2 -2.2l-1.2 -1.3l-1.9 3.6l0 5.3l0.8 2l-0.5 4.9l1.5 3.7l-0.4 2.1l2.6 3.1l0.9 1.6l1.2 1.9l2.7 2.4l3.5 3.8l3.5 3.7l1 1.6l1.8 5l1.2 4.7l0.4 4.2l-0.9 5.8l-1.3 6.1l-0.5 2l-1.4 5.5l-0.6 4.4l-0.4 2.1l0.1 3.9l0.6 5.8l2.4 1.3l1 -1.5l2.8 -0.9l3.9 -0.6l4.2 -0.5l4.1 -1.3l1.9 -3.2l3 -2.8l4.9 -1.6l3.3 -0.7l3.6 -2l3 -3.4l1.6 -1.3l2.8 -1.6l1.8 -0.6l1.6 -0.9l4.6 -4.3l5.3 -3l5.5 -0.4l5.3 0.9l4.7 0.6l3.4 0.3l-0.3 5.5l0 6.2l-0.9 5.2l-0.9 2.9l-0.4 1.7l-1.2 2.2l-1.2 5.7l-2.2 1l-2.7 -2.2l-2.2 -0.6l-4.1 -0.9l-4.2 -1.4l-4 -0.7l-4.5 0.2l-3.2 0.4l-6.2 1.2l-3.9 0.1l-5.1 1.1l-2.1 -0.9l-6.3 -0.5l-5.3 1.3l5.8 -1.9l3.2 0.1l3.4 1l3.2 0.5l3.9 0.2l2.5 -0.4l2.7 -1.9l4.6 -3.7l1.2 -2.3l1.4 -2.9l0.4 -3.2l2 -5.8l1.3 -2.8l0.2 -3l0.5 -2.9l0.3 -5.5l-1.1 -4.9l1.1 -3.1l0.7 -2.9l0.9 -2.1l2.4 -4l2.3 -2l2.9 -2.7l3.5 -3.5l1.3 -1.4l3 -3.3l5.1 -3.6l3 -2.5l-2.2 -2.7l-2.2 -2.3l-0.9 -1.4l-0.6 -2.7l-1.3 -4.9l-1.7 -1.7l-2.3 -0.9l-2.3 -1.6l-2.6 0l-1.3 1.7l-2.8 2.1l-5.5 3.3l-5.4 1.3l-2 0.9l-3.9 1l-1.8 0.8l-4.2 1.9l-2.3 1.1l-4.4 2.1l-2 1.1l-2.9 2.9l-2.6 2.5l-2.2 1.2l-3.8 3.1l-2 1.6l-1.5 1.3l-1.6 2l-2.6 5l3.6 -1.6l2.2 -2.4l1.8 -2.1l2.1 -3.9l2.2 -1.8l3.3 -2l2.3 -1.8l2.5 -2l2.5 -2.4l4.2 -3.6l2.1 -3.6l4 -4.7l1.2 -1.5l4 -1.4l2.4 0.2l1.3 6.1l-1 3.6l-0.8 3.1l-1 5.8l-0.7 5.3l0.4 4.5l-0.4 3.6l-0.3 4.4l0.8 4.3l1.3 4.7l2.1 5.7l1.4 1.6l1 2.4l-0.4 3.6l1.5 5.4l1.7 4.4l1.5 2.1l4.6 2.3l1.9 0.9l2.5 0.7l6 -0.4l3.3 0.5l3.8 1l1.9 2.9l-4.3 -4.5l-1.6 -1.7l-1.6 -3l-0.4 -1.6l-0.3 -3.1l-0.3 -3.5l-0.7 -3.6l-0.3 -3.3l-0.1 -4l4 -2.9l2.4 -4.2l-1 -5.7l2.3 -3.2l-2 1.6l-4.9 4.1l-1.9 1.6l-2.3 1.2l-5.1 2l-1.7 0.5l-5.9 2.1l-2.7 2.1l-3 1.9l-3.4 2.8l-4.9 2.6l-4.5 3.4l-3.6 2.8l-4.2 3.9l-1 1.8l-1.6 3.2l-1 1.8l-4.3 4.6l-4.6 2.4l-2.2 0.6l-5 1.6l-5.9 0.8l-3.5 -1l-2.2 -0.7l-5.3 -0.6l-1.2 -2l-1.4 -3.3l-0.3 -1.7l-0.1 -4.3l2.3 -4.9l3.2 -5.5l3 -2.6l2.7 -2.1l1.9 -1.1l5.6 -2.3l3.5 -0.9l4.4 -0.3l3.3 -0.2l5.3 -1.7l4.5 -2.8l4.4 1.2l2.4 1.6l4 4.1l3 2.6l2.7 2.7l3.8 3l1.6 1.2l1.8 1.4l5.6 2.9l3.4 0.9l4.3 -0.2l3 0.1l3.6 0.4l2.1 0.1l4.7 -0.5l-4.7 -0.9l-4.3 -1l-3.1 -0.7l-3.3 -0.1l-0.9 2.5l-0.1 2.8l-1.2 3l-0.7 3l-1.1 4.4l-0.3 3.5l0 2.1l0.9 2.4l5.4 -2l4.6 -0.7l6.2 -1.3l4.8 3.1l-3.5 -0.6l-1.7 0.2l-3.3 0.1l-4 0.3l-5.1 -0.2l-2.5 0.4l-2.4 0.4l-3.8 -0.4l-2.1 0.2l-4.1 -1.4l-3.7 -2.2l-3.9 -1.1l-4.4 -1.3l-4.2 -0.2l-1.4 -0.7l-4.5 -2.6l-3.4 -2.3l-3 -0.8l-6 -1.6l-4.7 -1.1l-2.9 -0.3l-3.9 -0.7l-6 -0.2l-4 -0.6l-2.6 -2.9l-0.1 -1.6l-0.1 -3.7l0.1 -3.9l-0.1 -4.1l-0.2 -4.7l0 -4.9l-0.5 -4.9l0.4 -2.5l0.8 -2l2.1 -5.5l0.6 -6l0.4 -3.9l0.7 -5.8l2.8 -3.6l1.4 -1.9l1.3 -4.7l1 -5.3l-0.6 0.3l-1.8 0.9l-4.4 1.1l-4.6 1.4l-1.5 2.9l0.2 3.7l0 2.9l0.8 0.7l0.7 2.8l0.6 2.8l1.4 4.3l1.1 5l0.2 4l-0.4 4.3l-2.2 5.9l-1.1 2.9l1.5 2.8l1.9 3l4.4 3.4l1.4 -1.4l5 -2.9l5.7 -1.1l4.9 -0.8l5.9 -0.2l4.3 1l2.3 0l1.9 0.1l3.7 0.1l4.5 0.4l4.8 -0.6l5 -0.5l4.8 -0.3l5.6 0.6l5.1 1.7l2.7 0.8l3.8 1.8l2.6 0.8l1 -2.7l-1.1 -4.6l-2.5 -2.5l-2.5 -2.4l-4.1 -1.1l-2.4 -0.5l-1.9 -1.2l-3.4 -3.2l-2.4 -5.4l-2.4 -5.9l-0.7 -5.4l-0.1 -2.2l-0.6 -3.3l-0.3 -5.7l-0.7 -2.5l0.2 -2.6l0.4 -2.1l1.6 3.9l1 2.8l1.5 4l0.8 1.8l0.5 2.4l0.8 5.5l1 3.7l2.3 3.1l1.6 2.6l2.7 5.3l4.3 4l2.9 3l1.6 1l4.2 1.7l3.7 1.8l0.1 -0.5l-2.9 4.1l-2 1.2l-4.3 3.1l-3 4l-3.7 4.3l-1.4 1.6l-2.3 1.6l-1.6 1l-2.8 1.7l-5.3 2.9l-4.4 2l-5.4 2.5l-5.8 1.2l-2.2 0.6l-3.7 0.9l-5.3 1.4l-5.2 2.1l-3.2 2.2l-3.1 2.9l-2.5 -4.1l-1.7 -6l-1.1 -2l-2.3 -4.2l-1.5 -1.9l-6 -0.4l-4 -0.8l-3 -1.4l0.3 -2.1l4.8 -0.9l2.1 -0.5l5.3 -1.2l3.7 -1.1l-1.6 -1.1l-1.4 -2.1l-2.1 -2.6l-0.5 -4.3l-0.3 -3.8l1 -3l0.3 -5.2l2.5 -0.2l4.7 -2.3l1.7 -1.4l1.4 -0.9l3 -1.8l1.6 -1.2l3.2 -2.8l3.8 -1.4l2.3 -1.2l5.3 -2.3l4.3 -3.9l1.4 -1l3.9 -3.7l1.4 -1.1l3.7 -2.8l4.6 -4l2.6 -2.1l1.9 -1.8l4.3 -3.6l4.9 1l3.1 -0.3l2.3 -0.5l4.9 0.1l4.5 1l4.9 0.5l-5.6 0l-1.8 0.2l0.5 -3l0.2 -0.7l2.2 5.1l1.7 5.9l0.1 6l0.2 4.3l-0.5 3.9l-1 5.3l1.1 3.5l-1.7 1.8l-1.2 3.1l-1.3 3.6l-1.6 3.5l-2.7 3.3l-2.8 4.5l-1.9 1.3l-2.5 1.1l-4.1 2.5l-3.6 2l-3 3.1l-3.6 3.7l-1.8 2.3l-3.7 4.8l-1.3 2.9l-2.6 5.8l-3.5 5l-3.4 1.1l-3.8 -2.9l-2.1 -1.5l-2.1 -1.2l-2.2 -0.5l-5.5 -1l-6.3 -0.4l-5.3 0.3l-5.6 1.1l-5.5 1.9l-2.1 1.6l-4.9 0.7l1.1 1.2l3.7 1.6l5.8 1.6l4.3 -0.1l2.9 -0.6l6.2 -1.5l4.4 -0.7l2.5 -0.5l5.6 -2l5.4 -3.1l1.4 -0.8l2.7 -1.9l4.6 -1.3l3.5 -0.2l4.9 -0.7l2.6 -0.9l1.8 -0.2l5.9 -1.5l3.4 -1.2l2.6 -0.5l1.5 -0.2l4.2 -0.8l4.6 -1l2.2 -0.4l4 -1.8l1.2 -3.7l-2.2 -2.7l-1.8 -2.7l-1.5 -2.6l-2.9 -5l-2.2 -2.4l-2.9 -2.5l-3.6 -3l-5.7 -2.8l-4.9 -0.2l-6.2 -1.3l-4 -1.1l-5.6 -2.5l-5.9 -2.1l2.1 -0.4l2.8 -1.4l2.7 -1.9l4.4 -1.8l3.6 0.5l5.3 0l4.2 -1.3l2.1 -5.4l0.6 -5.8l0.7 -6.2l-0.8 -6.3l-0.7 -3.6l1.9 1.5l1.3 1.7l2.7 2.7l3.6 1.8l3.3 2l3.7 3.3l3.9 3.5l0.9 2.1l-1.3 5.9l-1.8 4.6l-1.3 5.3l-1.1 4.7l0 3.4l0.5 2.3l0.8 3.9l1.4 4.9l0.1 1.8l0.1 1.6l-0.3 2.9l2 -1.8l-1.5 -1.6l-1.3 -5.9l0.2 -4.4l0.6 -1.8l0.8 -3l0.1 -5.8l-0.1 -1.6l-1.5 -5.7l-2.6 -4.6l-2.8 -3.7l-1.2 -1.9l-1.4 -2.7l1.7 -3.7l1 -1.4l2.5 -4.8l1.5 -4.1l-4.4 1.1l-4.7 0.6l-2.9 -0.3l-5.6 0.3l-1.7 -0.4l-5.4 1l-3.1 0.9l-2.8 1.6l-3.8 3.1l-3 2.1l-3.1 2.5l-3.4 1.2l1.7 3.2l1.6 5.3l1.7 5.9l-0.1 2l1.4 4.9l1 4.1l1.3 5.9l1.3 3.8l0.5 3.1l0.3 4.6l0.3 1.6l1.7 5.2l1 2.8l-0.2 5l-0.4 1.5l-1.2 2.6l-2.3 2.5l-3.2 5.1l-1.9 2.2l-4.2 0.6l-5.1 -0.5l-3.7 -1l-3 0.4l-3.2 0.1l-5.8 -0.9l-2.6 -1.3l-6 -1.1l-3.1 -0.3l-2.7 0.1l-4.1 -1.3l-2.1 -4.9l0.2 6.2l-0.7 3.4l-1.2 3.9l-0.8 -3.4l-0.5 -1.8l1.1 -5l0.5 -2l0.9 -4.4l-0.1 -5.3l-1.3 -5.3l1.1 -1.6" fill="none" stroke="#000" stroke-width="0.52" stroke-linejoin="round" opacity="0.9"/>
<path d="M263.18 407.21L264.17 405.22L264.06 405.59L263.82 406.21L262.24 407.51L262.45 406.99L263.98 406.12L261.71 404.61L263.02 407.45L261.77 405.52L263.93 407.82L266.18 405.39L262.02 408.78M269.42 436.46L269.26 435.56L268.6 438.9L270.06 435.93L269.07 435.1L267.45 435.9L270.01 439.18L268.75 438.83L270.8 436.87L269.03 436.22L269.55 436.23L267.42 436.64L271.04 437.04M270.77 437.56L271.29 438.16L270.06 438.12L270.7 437.24L270.18 439.57L269.33 438.39L271.31 436.9L270.36 434.69L270.52 435.11L269.89 437.03L270.72 436.26L271.91 437.18L269.48 438.6M268.55 437.87L269.49 439.63L267.14 436.97L265.82 437.62L270.83 439.32L269.44 434.87L268.64 434.87L269.06 434.87L267.53 438.57L267.14 437.75L266.78 437.77L268.31 438.1L269.95 437.5M188.05 356.39L187.05 355.39L191.05 356.86L188.39 357.14L187.23 356.5L188.55 356.26L187.83 356.04L187.22 353.79L188.34 356.99L188.86 354.53L187.59 357.05L186.95 355.81L187.18 354.61M186.64 443.23L186.41 442.7L188.04 443.79L189.64 443.28L187.69 443.32L184.64 442.15L186.82 443.07L186.92 443.76L186.24 443.56L186.17 442.75L187.57 445.04L187.78 442.74L185.03 444.37M268.49 356.18L268.53 358.37L266.77 355.68L269.5 355.98L268.4 356.44L269.66 357L268.14 356.55L271.11 357.23L266.85 358.11L269.12 357.02L268.39 357.67L268.42 353.95L271.02 358.85M231.27 411.22L230.42 408.47L228.59 411.24L231.92 413.6L233.69 408.22L230.75 408.53L232.02 410.07L231.76 409.32L230.85 411.72L232.44 410.55L231.95 408.22L229.88 410.67L230.1 412.64M268.86 356.69L269.34 354.54L268.76 357.6L266.72 357.29L268.2 357.21L271.81 357.9L268.15 358.03L269.29 354.42L267.49 356.74L269 357.89L267.32 354.11L268.08 356.62L265.86 355.35M185.28 355.33L184.53 357.09L185.18 356.08L183.08 355.24L185.95 355.86L185.4 354.85L185.76 357L185.65 355.93L185.52 355.69L188.28 354.9L185.67 356.63L184.95 354.49L187.15 356.49M269.65 435.02L268.28 435.87L271.15 435.27L267.72 437.41L268.87 436.38L269.22 434.68L269.76 435.37L267.21 435.52L268.07 436.85L268.13 436.1L268.23 437.09L270.76 435.99L270.25 436.19M237.85 379.38L236.7 377.69L236.67 380.56L236.15 379.72L236.42 377.93L237.4 379.81L235.87 380.19L237.26 380.77L237.75 379.44L239.93 377.85L237.98 380.45L237.37 378.97L240.32 380.67M266.89 437.68L264.15 438.18L265.17 436.52L269.41 437.03L266 438.78L266.55 436.94L269.38 437.2L269.85 436.3L264.98 438.83L263.89 436.27L266.2 436.8L266.6 438.31L267.17 438.11M184.6 357.05L186.26 360.05L185.53 358.13L186.26 357.14L187.01 356.63L182.74 358.34L186.23 354.33L182.54 357.25L183.39 355.92L186.92 358.3L183.3 356.98L183.97 357.12L183.38 356.55M269.56 440.11L269.98 439.44L269.26 437.14L269.15 440.35L270.73 440.02L269.79 439.72L270.14 441.28L270.23 437.95L272.56 439.45L267.05 440.32L269.32 439.81L269.01 440.04L268.15 440.44M249.55 394.07L248.71 393.65L251.28 391.34L251.2 395.34L249.27 393.31L250.85 393.86L247.11 394.93L251.09 395.18L248.17 395.32L248.1 394.46L246.55 395.04L249.1 394.02L248.83 395.75M185.42 353.54L183.86 349.74L184.74 355.91L187.33 352.08L188.36 354.19L184.69 353.27L184.65 351.35L186.44 353.41L184.3 356.12L182.58 353.85L183.04 357.34L187.97 356.39L188.55 353.26L188.18 356.22L184.12 351.2L185.77 354.93L184.6 349.92M269.96 354.34L272.01 351.92L268.28 352.93L270.84 355.8L267.88 354.04L271.91 354.96L271 355.21L269.89 355.57L270.42 355.92L269.43 354.72L272.41 357.79L269.06 355.11L267.76 356.51L267.55 357.13L270.09 353.03L270.01 353.51L270.12 358.14M182.16 437.72L178.36 433.92L179.01 436.73L183.43 439.51L180.53 438.81L181.05 435.75L181.61 436.32L185.96 439.22L180.51 439.43L184.29 437.59L183.92 441.52L180.95 436.07L179.05 435.55L178.97 435.91L184.3 435.06L182.33 438.55L178.36 440.5M272.46 439.08L275.13 438.41L269 440.26L273.24 442.88L274.24 442.17L272.07 440.26L272.64 437.81L276.26 439.36L273.41 438.44L269.89 437.12L271.78 440.53L273.29 437.34L271.71 440.32L272.14 440.46L270.75 441.57L269.89 435.28L273.85 439.83" fill="none" stroke="#000" stroke-width="0.5"/>
<rect x="173.9" y="103.2" width="17.1" height="4.6" fill="#1a1a9c"/>
<text x="174.8" y="107" font-size="4.4" fill="#cfd2ff" class="sn">Arena 4</text>
<path d="M173.5 222L173.5 332.4" stroke="#3a3ab0" stroke-width="0.9" fill="none"/>
<path d="M173.5 332.1L285 332.1" stroke="#5a5ac0" stroke-width="0.8" fill="none"/>
</g>
<g clip-path="url(#hc1)">
<rect x="663.82" y="103.2" width="105.39" height="110.64" fill="#0000fa"/>
<g filter="url(#b2)">
<rect x="670.04" y="138.04" width="94.35" height="55.21" fill="#2a7cff"/>
<rect x="670.36" y="138.58" width="6.11" height="57.89" fill="#34b4ff"/>
<rect x="670.36" y="194.33" width="7.72" height="20.37" fill="#2c8cff" opacity="0.75"/>
<rect x="758.49" y="138.58" width="5.9" height="76.12" fill="#38c0f0"/>
<rect x="676.47" y="138.36" width="82.02" height="11.47" fill="#30c8ff"/>
<ellipse cx="685.05" cy="142.87" rx="5.9" ry="4.29" fill="#60f0a0"/>
<rect x="728.47" y="138.58" width="29.48" height="3.22" fill="#40d0ff"/>
<rect x="677.01" y="150.16" width="81.48" height="24.87" fill="#60ff58"/>
<rect x="677.01" y="172.88" width="81.48" height="19.83" fill="#44e8d0"/>
<ellipse cx="688.8" cy="180.39" rx="8.04" ry="7.5" fill="#40c8ff"/>
<ellipse cx="743.48" cy="185.75" rx="11.79" ry="4.29" fill="#40d8e8"/>
<ellipse cx="690.41" cy="161.09" rx="13.4" ry="10.19" fill="#ffe800"/>
<ellipse cx="698.45" cy="163.24" rx="8.04" ry="5.36" fill="#ff8a00"/>
<rect x="709.39" y="150.16" width="15.33" height="22.73" fill="#ffe800"/>
<ellipse cx="715.07" cy="163.24" rx="5.36" ry="8.04" fill="#ff1c00"/>
<ellipse cx="742.41" cy="169.67" rx="15.01" ry="16.08" fill="#c4ff20"/>
<rect x="735.98" y="156.8" width="17.15" height="24.66" fill="#d8ff18"/>
<ellipse cx="717.75" cy="194.33" rx="40.74" ry="1.72" fill="#0000fa"/>
</g>
<g filter="url(#b1)">
<rect x="691.81" y="139.22" width="36.13" height="9.65" fill="#2456ff"/>
<rect x="728.47" y="140.72" width="29.48" height="8.36" fill="#3c9cff"/>
<polygon points="690.95,160.56 705.42,158.09 705.96,169.45 698.99,167.52" fill="#ff1c00"/>
<ellipse cx="714.53" cy="164.31" rx="4.07" ry="5.9" fill="#ff1c00"/>
<rect x="709.71" y="172.88" width="15.01" height="20.37" fill="#58f0b0"/>
<rect x="712.39" y="175.03" width="2.14" height="18.23" fill="#38b8ff"/>
<rect x="718.82" y="175.03" width="1.93" height="18.23" fill="#38b8ff"/>
<ellipse cx="737.8" cy="169.13" rx="1.18" ry="1.18" fill="#ff1c00"/>
<rect x="754.2" y="156.8" width="4.29" height="33.24" fill="#48e0c0"/>
<polygon points="705.74,149.83 709.17,149.83 710.03,193.47 697.92,193.47 704.35,175.03" fill="#0000fa"/>
<polygon points="724.72,150.37 726.33,150.37 730.62,193.47 724.72,193.47" fill="#0000fa"/>
<rect x="678.08" y="193.47" width="79.87" height="21.23" fill="#0000fa"/>
</g>
<path d="M676.8 138.58L676.8 214.7" stroke="#50e8c0" stroke-width="0.6" fill="none"/>
<path d="M759.03 138.58L759.03 214.7" stroke="#48d8ff" stroke-width="0.7" fill="none"/>
<path d="M761.17 138.58L761.17 214.7" stroke="#60ff70" stroke-width="0.7" fill="none"/>
<path d="M762.99 138.58L762.99 214.7" stroke="#d8f030" stroke-width="0.6" fill="none"/>
<path d="M677.01 138.15L704.88 138.15" stroke="#ffc000" stroke-width="0.6" fill="none"/>
<path d="M677.01 150.05L704.88 150.05" stroke="#ff9000" stroke-width="0.5" fill="none"/>
<text x="702.74" y="145.87" font-size="3.6" fill="#e8e060" class="mo">. CL</text>
<rect x="669.5" y="137.29" width="95.2" height="80.62" fill="none" stroke="#c8284a" stroke-width="0.6"/>
<rect x="665.06" y="103.37" width="20.4" height="4.6" fill="#14148c"/>
<text x="665.86" y="107.27" font-size="5" fill="#fff" class="sn">Arena 3</text>
</g>
<g clip-path="url(#hc2)">
<rect x="776.82" y="102.66" width="105.39" height="110.75" fill="#0000fa"/>
<g filter="url(#b3)">
<rect x="800.73" y="185.75" width="66.47" height="12.87" fill="#1840ff" opacity="0.8"/>
</g>
<g filter="url(#b2)">
<rect x="800.19" y="136.43" width="67.01" height="42.88" fill="#2a7cff"/>
<rect x="800.73" y="178.25" width="66.47" height="11.79" fill="#2a78ff"/>
<rect x="800.52" y="136.65" width="66.47" height="41.6" fill="#60ff58"/>
<rect x="840.61" y="138.04" width="25.73" height="16.08" fill="#48e0f0"/>
<ellipse cx="803.95" cy="145.01" rx="4.29" ry="5.36" fill="#70f0c0"/>
<ellipse cx="823.25" cy="162.16" rx="16.08" ry="8.58" fill="#c8ff20"/>
<ellipse cx="828.61" cy="164.31" rx="9.65" ry="5.36" fill="#ffe800"/>
<ellipse cx="853.8" cy="165.38" rx="10.72" ry="10.72" fill="#a8ff30"/>
<ellipse cx="860.77" cy="186.82" rx="5.36" ry="4.82" fill="#48e0ff"/>
</g>
<g filter="url(#b1)">
<rect x="791.08" y="136.43" width="4.93" height="78.27" fill="#30b4ff"/>
<rect x="867.42" y="136.43" width="8.15" height="78.27" fill="#44c8ff"/>
<rect x="869.88" y="136.43" width="1.61" height="78.27" fill="#2868ff"/>
<ellipse cx="821.32" cy="163.02" rx="3.86" ry="1.82" fill="#ff1c00"/>
<ellipse cx="832.36" cy="165.92" rx="3" ry="2.68" fill="#ff8a00"/>
<ellipse cx="803.09" cy="157.34" rx="2.36" ry="1.93" fill="#ff8a00" opacity="0.8"/>
<rect x="825.6" y="136.65" width="1.93" height="41.6" fill="#40d8c0"/>
<rect x="839.54" y="136.65" width="1.93" height="41.6" fill="#50e8a0"/>
<rect x="837.83" y="140.72" width="1.07" height="14.47" fill="#2030c0"/>
<rect x="826.68" y="177.17" width="1.93" height="12.87" fill="#0818e0"/>
<rect x="841.26" y="177.17" width="1.29" height="10.72" fill="#0c20e8"/>
</g>
<path d="M800.52 136.86L867.2 136.86" stroke="#ff7000" stroke-width="0.9" fill="none"/>
<path d="M800.41 136.43L800.41 214.7" stroke="#60ff90" stroke-width="0.6" fill="none"/>
<path d="M867.42 136.43L867.42 214.7" stroke="#b0ff40" stroke-width="0.6" fill="none"/>
<path d="M872.78 136.43L872.78 214.7" stroke="#70ffd0" stroke-width="0.5" fill="none"/>
<path d="M791.3 136.43L791.3 214.7" stroke="#60f0c0" stroke-width="0.5" fill="none"/>
<rect x="790.33" y="135.9" width="85.45" height="82.02" fill="none" stroke="#c8284a" stroke-width="0.6"/>
<rect x="778.06" y="103.37" width="20.4" height="4.6" fill="#14148c"/>
<text x="778.86" y="107.27" font-size="5" fill="#fff" class="sn">Arena 4</text>
</g>
<g clip-path="url(#hc3)">
<rect x="663.82" y="220.12" width="105.39" height="111.5" fill="#0000fa"/>
<g filter="url(#b2)">
<rect x="670.04" y="255.5" width="94.35" height="55.21" fill="#2a7cff"/>
<rect x="670.36" y="256.58" width="6.65" height="57.89" fill="#34b4ff"/>
<rect x="670.36" y="312.33" width="7.72" height="20.37" fill="#2c8cff" opacity="0.75"/>
<rect x="758.49" y="256.58" width="5.9" height="76.12" fill="#38c0f0"/>
<rect x="675.94" y="255.72" width="82.55" height="11.36" fill="#38b0ff"/>
<rect x="728.47" y="255.72" width="29.48" height="3.54" fill="#40d0ff"/>
<rect x="678.08" y="267.08" width="80.41" height="29.16" fill="#60ff58"/>
<rect x="677.01" y="294.1" width="81.48" height="16.62" fill="#40dce8"/>
<ellipse cx="743.48" cy="301.61" rx="13.94" ry="5.9" fill="#70ff60"/>
<ellipse cx="701.67" cy="296.25" rx="4.82" ry="5.36" fill="#c0ff30"/>
<ellipse cx="715.61" cy="281.24" rx="33.24" ry="8.04" fill="#ffe800"/>
<ellipse cx="698.45" cy="282.09" rx="12.87" ry="3.22" fill="#ff8a00"/>
<ellipse cx="713.46" cy="278.56" rx="5.36" ry="10.19" fill="#ff8a00"/>
</g>
<g filter="url(#b1)">
<rect x="675.94" y="256.79" width="51.68" height="9.22" fill="#2250ff"/>
<rect x="728.69" y="258.72" width="28.73" height="7.72" fill="#3890ff"/>
<ellipse cx="698.99" cy="282.09" rx="8.04" ry="1.72" fill="#ff1c00"/>
<ellipse cx="713.25" cy="280.16" rx="2.79" ry="5.9" fill="#ff1c00" opacity="0.85"/>
<ellipse cx="739.73" cy="282.84" rx="4.82" ry="3" fill="#ff8a00"/>
<ellipse cx="739.19" cy="283.38" rx="2.36" ry="1.5" fill="#ff1c00" opacity="0.8"/>
<ellipse cx="749.38" cy="276.73" rx="6.43" ry="1.29" fill="#ff8a00" opacity="0.8"/>
<ellipse cx="726.33" cy="300.53" rx="1.5" ry="2.36" fill="#1434ff"/>
<rect x="678.62" y="311.04" width="78.8" height="21.66" fill="#0000fa"/>
</g>
<path d="M676.8 256.58L676.8 332.7" stroke="#50e8c0" stroke-width="0.6" fill="none"/>
<path d="M759.03 256.58L759.03 332.7" stroke="#48d8ff" stroke-width="0.7" fill="none"/>
<path d="M761.17 256.58L761.17 332.7" stroke="#60ff70" stroke-width="0.7" fill="none"/>
<path d="M762.99 256.58L762.99 332.7" stroke="#d8f030" stroke-width="0.6" fill="none"/>
<path d="M677.01 255.5L694.16 255.5" stroke="#ffc000" stroke-width="0.6" fill="none"/>
<path d="M698.45 267.3L717.75 267.3" stroke="#ff6000" stroke-width="0.5" fill="none"/>
<text x="702.74" y="262.8" font-size="3.6" fill="#e8e060" class="mo">. CL</text>
<rect x="669.5" y="254.65" width="95.2" height="81.27" fill="none" stroke="#c8284a" stroke-width="0.6"/>
<rect x="665.06" y="220.3" width="20.4" height="4.6" fill="#14148c"/>
<text x="665.86" y="224.2" font-size="5" fill="#fff" class="sn">Arena 3</text>
</g>
<g clip-path="url(#hc4)">
<rect x="778.24" y="220.12" width="105.59" height="111.32" fill="#0000fa"/>
<g filter="url(#b3)">
<rect x="789.71" y="285.12" width="70.59" height="16.18" fill="#2458ff" opacity="0.8"/>
</g>
<g filter="url(#b2)">
<rect x="783.53" y="223.35" width="81.47" height="108.09" fill="#0a1cff"/>
<rect x="783.82" y="260.41" width="80.88" height="12.65" fill="#2a6cff"/>
<rect x="784.12" y="273.35" width="80.29" height="30.88" fill="#1636ff"/>
<ellipse cx="825" cy="252.76" rx="35.29" ry="3.24" fill="#30c8ff"/>
<polygon points="790.44,273.35 855.15,273.35 833.82,282.91 819.12,292.47 813.24,292.47 804.41,282.18" fill="#48f0c0"/>
<polygon points="802.94,273.65 839.71,273.65 827.94,282.18 817.65,289.53 810.29,283.65" fill="#c4ff20"/>
<ellipse cx="819.12" cy="279.24" rx="10.29" ry="4.41" fill="#ffe800"/>
<rect x="814.12" y="289.53" width="3.82" height="38.24" fill="#2c90ff"/>
<rect x="829.71" y="274.82" width="2.35" height="56.62" fill="#2c88ff"/>
</g>
<g filter="url(#b1)">
<ellipse cx="816.18" cy="253.94" rx="16.18" ry="1.32" fill="#70ff90"/>
<rect x="784.71" y="256.74" width="79.12" height="3.53" fill="#ffe800"/>
<rect x="836.76" y="256.74" width="27.06" height="1.91" fill="#a0ff40"/>
<rect x="794.12" y="257.47" width="11.03" height="2.06" fill="#ff1c00"/>
<rect x="813.97" y="258.35" width="11.03" height="1.47" fill="#ff1c00"/>
<rect x="784.71" y="257.91" width="9.41" height="1.91" fill="#ff8a00"/>
<ellipse cx="814.41" cy="282.47" rx="1.18" ry="4.41" fill="#ff1c00"/>
<ellipse cx="821.32" cy="278.5" rx="1.47" ry="2.06" fill="#ff8a00"/>
<ellipse cx="825" cy="277.76" rx="0.88" ry="2.06" fill="#ff8a00"/>
<rect x="830.29" y="324.82" width="1.18" height="6.62" fill="#a0e040"/>
<ellipse cx="836.03" cy="233.94" rx="0.88" ry="1.76" fill="#ffe800"/>
<ellipse cx="824.56" cy="230.71" rx="0.88" ry="4.41" fill="#2c70ff"/>
</g>
<path d="M785.29 224.82L785.29 254.24" stroke="#2a5cff" stroke-width="0.5" fill="none"/>
<path d="M792.65 224.82L792.65 254.24" stroke="#2a5cff" stroke-width="0.5" fill="none"/>
<path d="M809.56 224.82L809.56 254.24" stroke="#2a5cff" stroke-width="0.5" fill="none"/>
<path d="M820.59 224.82L820.59 254.24" stroke="#2a5cff" stroke-width="0.5" fill="none"/>
<path d="M828.68 224.82L828.68 254.24" stroke="#2a5cff" stroke-width="0.5" fill="none"/>
<path d="M858.82 224.82L858.82 254.24" stroke="#2a5cff" stroke-width="0.5" fill="none"/>
<path d="M863.97 224.82L863.97 254.24" stroke="#2a5cff" stroke-width="0.5" fill="none"/>
<path d="M877.21 221.88L877.21 331.44" stroke="#3060ff" stroke-width="0.5" fill="none"/>
<rect x="780.88" y="221.15" width="99.26" height="115.44" fill="none" stroke="#c8284a" stroke-width="0.7"/>
</g>
<g clip-path="url(#hc5)">
<rect x="664.94" y="338.41" width="105.15" height="111.76" fill="#0000fa"/>
<g filter="url(#b2)">
<rect x="667.29" y="340.76" width="99.12" height="69.71" fill="#2a7cff"/>
<rect x="667.29" y="407.53" width="5.59" height="42.65" fill="#1c50ff"/>
<rect x="756.12" y="407.53" width="10.29" height="17.65" fill="#2c80ff"/>
<rect x="758.32" y="422.24" width="8.09" height="27.94" fill="#1c50ff"/>
<rect x="673.03" y="341.35" width="83.09" height="13.53" fill="#30a8ff"/>
<ellipse cx="726.71" cy="348.71" rx="17.65" ry="6.62" fill="#50e8d0"/>
<rect x="673.47" y="354.88" width="82.65" height="28.38" fill="#60ff58"/>
<rect x="673.47" y="382.53" width="82.65" height="27.94" fill="#3cd0f0"/>
<rect x="673.47" y="398.71" width="23.82" height="9.56" fill="#80ff60"/>
<ellipse cx="684.06" cy="370.76" rx="8.82" ry="11.76" fill="#50e8e0"/>
<ellipse cx="737" cy="368.56" rx="15.44" ry="11.76" fill="#c4ff20"/>
<ellipse cx="732.59" cy="367.09" rx="8.82" ry="8.82" fill="#ffe800"/>
<rect x="704.65" y="354.88" width="16.47" height="21.76" fill="#ff8a00"/>
<ellipse cx="711.26" cy="365.62" rx="6.18" ry="9.56" fill="#ff1c00"/>
<rect x="697.29" y="393.12" width="56.62" height="5.59" fill="#1838f0" opacity="0.85"/>
</g>
<g filter="url(#b1)">
<ellipse cx="731.41" cy="367.53" rx="3.24" ry="4.41" fill="#ff8a00"/>
<ellipse cx="710.53" cy="367.09" rx="4.12" ry="6.62" fill="#ff1c00"/>
<rect x="706.12" y="376.65" width="14.71" height="16.18" fill="#90ff50"/>
<rect x="712" y="378.12" width="2.94" height="32.35" fill="#60f0b0"/>
<polygon points="698.18,354.88 704.06,354.88 709.35,410.76 697.29,410.76" fill="#0614ea"/>
<rect x="717" y="354.88" width="1.76" height="16.62" fill="#1020d0"/>
<rect x="720.82" y="354.88" width="1.47" height="55.88" fill="#1028e0"/>
<rect x="726.71" y="398.71" width="11.76" height="12.06" fill="#1430f0" opacity="0.7"/>
<rect x="673.47" y="411.06" width="82.65" height="39.12" fill="#0000fa"/>
<ellipse cx="701.41" cy="347.97" rx="2.65" ry="1.76" fill="#0a10c0"/>
</g>
<path d="M672.59 341.35L672.59 450.18" stroke="#60ffa0" stroke-width="0.5" fill="none"/>
<path d="M757.88 359L757.88 450.18" stroke="#70ff80" stroke-width="0.6" fill="none"/>
<path d="M711.26 341.35L711.26 354.59" stroke="#60ffd0" stroke-width="0.5" fill="none"/>
<path d="M764.94 341.35L764.94 450.18" stroke="#40d0ff" stroke-width="0.5" fill="none"/>
<text x="746.12" y="350.47" font-size="3.2" fill="#f0a030" class="mo">tA</text>
<rect x="666.71" y="340.18" width="100" height="115.88" fill="none" stroke="#c8284a" stroke-width="0.6"/>
</g>
<g clip-path="url(#hc6)">
<rect x="777.94" y="339.15" width="105.88" height="111.76" fill="#0000fa"/>
<g filter="url(#b3)">
<rect x="802.94" y="392.82" width="58.82" height="44.12" fill="#1a44ff" opacity="0.85"/>
</g>
<g filter="url(#b2)">
<rect x="798.53" y="353.12" width="67.06" height="97.79" fill="#0a20ff"/>
<rect x="799.26" y="383.26" width="65.74" height="9.85" fill="#2a68ff"/>
<ellipse cx="833.82" cy="377.82" rx="26.47" ry="2.65" fill="#38c0ff"/>
<ellipse cx="835.29" cy="401.94" rx="20.59" ry="7.65" fill="#34d0e8"/>
<ellipse cx="836.76" cy="402.38" rx="15.44" ry="5.59" fill="#60ff58"/>
<ellipse cx="827.94" cy="404.29" rx="6.18" ry="6.18" fill="#ffe800"/>
<rect x="827.21" y="410.47" width="3.97" height="20.59" fill="#38c0ff"/>
<polygon points="819.12,394.29 836.76,394.29 830.88,416.35 825.74,416.35" fill="#60f0a0" opacity="0.7"/>
</g>
<g filter="url(#b1)">
<ellipse cx="827.94" cy="378.12" rx="8.82" ry="1.03" fill="#70ffb0"/>
<rect x="800.88" y="380.47" width="63.82" height="2.65" fill="#70f0a0"/>
<ellipse cx="827.65" cy="405.76" rx="1.32" ry="2.21" fill="#ff1c00"/>
<ellipse cx="839.71" cy="361.35" rx="0.88" ry="0.88" fill="#ffe800"/>
</g>
<rect x="800.88" y="381.06" width="63.82" height="1.62" fill="#b8f838"/>
<rect x="801.47" y="381.35" width="35.29" height="1.03" fill="#ffe800"/>
<path d="M799.26 353.12L799.26 450.91" stroke="#3a90ff" stroke-width="0.6" fill="none"/>
<path d="M806.32 346.5L806.32 450.91" stroke="#3a80ff" stroke-width="0.5" fill="none"/>
<path d="M820.59 353.12L820.59 450.91" stroke="#3070ff" stroke-width="0.6" fill="none"/>
<path d="M831.62 353.12L831.62 450.91" stroke="#3a80ff" stroke-width="0.6" fill="none"/>
<path d="M836.18 353.12L836.18 450.91" stroke="#50b0ff" stroke-width="0.9" fill="none"/>
<path d="M865 353.12L865 450.91" stroke="#3a80ff" stroke-width="0.6" fill="none"/>
<path d="M871.32 346.5L871.32 450.91" stroke="#50c0ff" stroke-width="0.6" fill="none"/>
<path d="M875 346.5L875 450.91" stroke="#50c0ff" stroke-width="0.5" fill="none"/>
<path d="M799.26 353.41L810.29 353.41" stroke="#50a0ff" stroke-width="0.6" fill="none"/>
<rect x="791.47" y="346.06" width="85.29" height="110" fill="none" stroke="#c8284a" stroke-width="0.7"/>
<rect x="778.32" y="338.63" width="20.4" height="4.6" fill="#14148c"/>
<text x="779.12" y="342.53" font-size="5" fill="#fff" class="sn">Arena 1</text>
</g>
<g clip-path="url(#pc1)">
<rect x="52.8" y="591.8" width="145.4" height="89" fill="#88888c"/>
<polygon points="52.8,591.8 198.2,591.8 177,606.2 71.1,606.2" fill="#8a8a8c"/>
<polygon points="52.8,680.8 198.2,680.8 177,666.8 71.1,666.8" fill="#87878a"/>
<polygon points="52.8,591.8 71.1,606.2 71.1,666.8 52.8,680.8" fill="#6c6c72"/>
<polygon points="198.2,591.8 177,606.2 177,666.8 198.2,680.8" fill="#9b9ba1"/>
<rect x="52.8" y="591.8" width="145.4" height="89" fill="#808080" filter="url(#nzg)"/>
<path d="M55 593.53L60.49 597.85" stroke="#e4e4ea" stroke-width="0.8" fill="none"/>
<path d="M60.49 597.85L71.1 606.2" stroke="#b4b4ba" stroke-width="0.5" fill="none"/>
<path d="M195.66 593.53L189.3 597.85" stroke="#e4e4ea" stroke-width="0.8" fill="none"/>
<path d="M189.3 597.85L177 606.2" stroke="#b4b4ba" stroke-width="0.5" fill="none"/>
<path d="M55 679.12L60.49 674.92" stroke="#e4e4ea" stroke-width="0.8" fill="none"/>
<path d="M60.49 674.92L71.1 666.8" stroke="#b4b4ba" stroke-width="0.5" fill="none"/>
<path d="M195.66 679.12L189.3 674.92" stroke="#e4e4ea" stroke-width="0.8" fill="none"/>
<path d="M189.3 674.92L177 666.8" stroke="#b4b4ba" stroke-width="0.5" fill="none"/>
<g filter="url(#pb2)">
<ellipse cx="91.6" cy="600.8" rx="8" ry="5" fill="#2e2e34" opacity="0.8"/>
<ellipse cx="60.8" cy="617.5" rx="6" ry="9" fill="#2e2e34" opacity="0.7"/>
<ellipse cx="63.4" cy="651" rx="7" ry="9" fill="#2e2e34" opacity="0.7"/>
<ellipse cx="183.5" cy="657.5" rx="5" ry="8" fill="#2e2e34" opacity="0.6"/>
<ellipse cx="90.4" cy="673.5" rx="8" ry="5" fill="#2e2e34" opacity="0.55"/>
<ellipse cx="171.2" cy="674.5" rx="6" ry="5" fill="#2e2e34" opacity="0.55"/>
<ellipse cx="70" cy="598" rx="7" ry="4" fill="#2e2e34" opacity="0.5"/>
</g>
<rect x="71.1" y="606.2" width="105.9" height="60.6" fill="#e6d2a2"/>
<rect x="71.1" y="606.2" width="105.9" height="60.6" fill="#e6d2a2" filter="url(#nzl)"/>
<rect x="71.1" y="606.2" width="105.9" height="60.6" fill="#e6d2a2" filter="url(#nzd)"/>
<ellipse cx="118" cy="614" rx="14" ry="7" fill="#d9b777" opacity="0.55" filter="url(#pb2)"/>
<rect x="52.8" y="623.3" width="1.1" height="27.6" fill="#e03030"/>
<rect x="111.8" y="622.4" width="22.5" height="14.6" fill="#dfdcd5" stroke="#c9c4b8" stroke-width="0.4"/>
<rect x="111.9" y="638.1" width="22.4" height="14.7" fill="#dfdcd5" stroke="#c9c4b8" stroke-width="0.4"/>
<path d="M100 610 C108 608.5 115 609.5 119 612.5 C121 614.5 121.5 616 121.5 617.5" fill="none" stroke="#3a2f2c" stroke-width="0.6"/>
<path d="M93 600 C100 601 108 600 116 596" fill="none" stroke="#3a2f2c" stroke-width="0.6"/>
<g filter="url(#pb1)">
<ellipse cx="92.4" cy="610.4" rx="8.2" ry="3.6" fill="#0b0b0d" transform="rotate(-5 92.4 610.4)"/>
<ellipse cx="76.6" cy="619" rx="5" ry="9" fill="#0b0b0d" transform="rotate(32 76.6 619)"/>
<ellipse cx="79" cy="652" rx="5.5" ry="5" fill="#0b0b0d" transform="rotate(0 79 652)"/>
<ellipse cx="82.5" cy="660.8" rx="11.5" ry="5.2" fill="#0b0b0d" transform="rotate(-12 82.5 660.8)"/>
<ellipse cx="173.2" cy="658.2" rx="5" ry="8.4" fill="#0b0b0d" transform="rotate(-6 173.2 658.2)"/>
</g>
<rect x="53.2" y="592.2" width="144.6" height="88.2" fill="none" stroke="#c2c2cc" stroke-width="0.8"/>
</g>
<g clip-path="url(#pc2)">
<rect x="204.2" y="591.8" width="145.7" height="89" fill="#8a8a8e"/>
<polygon points="204.2,591.8 349.9,591.8 330,606.2 224,606.2" fill="#8d8d90"/>
<polygon points="204.2,680.8 349.9,680.8 330,667.6 224,667.6" fill="#8a8a8d"/>
<polygon points="204.2,591.8 224,606.2 224,667.6 204.2,680.8" fill="#77777d"/>
<polygon points="349.9,591.8 330,606.2 330,667.6 349.9,680.8" fill="#9a9aa0"/>
<rect x="204.2" y="591.8" width="145.7" height="89" fill="#808080" filter="url(#nzg)"/>
<path d="M206.58 593.53L212.52 597.85" stroke="#e4e4ea" stroke-width="0.8" fill="none"/>
<path d="M212.52 597.85L224 606.2" stroke="#b4b4ba" stroke-width="0.5" fill="none"/>
<path d="M347.51 593.53L341.54 597.85" stroke="#e4e4ea" stroke-width="0.8" fill="none"/>
<path d="M341.54 597.85L330 606.2" stroke="#b4b4ba" stroke-width="0.5" fill="none"/>
<path d="M206.58 679.22L212.52 675.26" stroke="#e4e4ea" stroke-width="0.8" fill="none"/>
<path d="M212.52 675.26L224 667.6" stroke="#b4b4ba" stroke-width="0.5" fill="none"/>
<path d="M347.51 679.22L341.54 675.26" stroke="#e4e4ea" stroke-width="0.8" fill="none"/>
<path d="M341.54 675.26L330 667.6" stroke="#b4b4ba" stroke-width="0.5" fill="none"/>
<g filter="url(#pb2)">
<ellipse cx="253" cy="598" rx="10" ry="5" fill="#2e2e34" opacity="0.75"/>
<ellipse cx="220" cy="610" rx="8" ry="8" fill="#2e2e34" opacity="0.55"/>
<ellipse cx="216" cy="630" rx="6" ry="9" fill="#2e2e34" opacity="0.45"/>
<ellipse cx="338" cy="663" rx="6" ry="7" fill="#2e2e34" opacity="0.6"/>
<ellipse cx="323" cy="675" rx="8" ry="4" fill="#2e2e34" opacity="0.5"/>
<ellipse cx="232" cy="598" rx="8" ry="5" fill="#2e2e34" opacity="0.55"/>
</g>
<rect x="224" y="606.2" width="106" height="61.4" fill="#e6d2a2"/>
<rect x="224" y="606.2" width="106" height="61.4" fill="#e6d2a2" filter="url(#nzl)"/>
<rect x="224" y="606.2" width="106" height="61.4" fill="#e6d2a2" filter="url(#nzd)"/>
<rect x="266.9" y="622" width="22.3" height="14.6" fill="#dfdcd5" stroke="#c9c4b8" stroke-width="0.4"/>
<rect x="267.2" y="638" width="23.2" height="15" fill="#dfdcd5" stroke="#c9c4b8" stroke-width="0.4"/>
<path d="M257 611 C266 611 276 613 282 619" fill="none" stroke="#3a2f2c" stroke-width="0.6"/>
<path d="M228 633 C228 642 230 650 234 656" fill="none" stroke="#3a2f2c" stroke-width="0.6"/>
<path d="M231 633 C233 640 236 645 240 649" fill="none" stroke="#3a2f2c" stroke-width="0.6"/>
<path d="M310 666 C302 668 294 667 288 665" fill="none" stroke="#3a2f2c" stroke-width="0.6"/>
<path d="M262 596 C270 597 280 596 286 593" fill="none" stroke="#3a2f2c" stroke-width="0.6"/>
<path d="M312 668 C304 672 296 674 290 675" fill="none" stroke="#3a2f2c" stroke-width="0.6"/>
<g filter="url(#pb1)">
<ellipse cx="228.6" cy="624" rx="4.6" ry="10" fill="#0b0b0d" transform="rotate(-8 228.6 624)"/>
<ellipse cx="233.5" cy="611.8" rx="6" ry="4.2" fill="#0b0b0d" transform="rotate(15 233.5 611.8)"/>
<ellipse cx="246.5" cy="613.6" rx="11" ry="4.6" fill="#0b0b0d" transform="rotate(-14 246.5 613.6)"/>
<ellipse cx="249.5" cy="626" rx="10.5" ry="4" fill="#0b0b0d" transform="rotate(16 249.5 626)"/>
<ellipse cx="240" cy="618" rx="7.5" ry="5.5" fill="#0b0b0d" transform="rotate(0 240 618)"/>
<ellipse cx="318.4" cy="662.8" rx="9.2" ry="4.6" fill="#0b0b0d" transform="rotate(-18 318.4 662.8)"/>
</g>
<rect x="204.6" y="592.2" width="144.9" height="88.2" fill="none" stroke="#c2c2cc" stroke-width="0.8"/>
</g>
<g clip-path="url(#pc3)">
<rect x="52.6" y="686.4" width="145.7" height="90.4" fill="#aeaead"/>
<polygon points="52.6,686.4 198.3,686.4 174.4,701.3 67.9,701.3" fill="#bab7af"/>
<polygon points="52.6,776.8 198.3,776.8 174.4,762.9 67.9,762.9" fill="#b0b0af"/>
<polygon points="52.6,686.4 67.9,701.3 67.9,762.9 52.6,776.8" fill="#a9a9aa"/>
<polygon points="198.3,686.4 174.4,701.3 174.4,762.9 198.3,776.8" fill="#acacae"/>
<rect x="52.6" y="686.4" width="145.7" height="90.4" fill="#808080" filter="url(#nzg)"/>
<path d="M54.44 688.19L59.03 692.66" stroke="#e4e4ea" stroke-width="0.8" fill="none"/>
<path d="M59.03 692.66L67.9 701.3" stroke="#b4b4ba" stroke-width="0.5" fill="none"/>
<path d="M195.43 688.19L188.26 692.66" stroke="#e4e4ea" stroke-width="0.8" fill="none"/>
<path d="M188.26 692.66L174.4 701.3" stroke="#b4b4ba" stroke-width="0.5" fill="none"/>
<path d="M54.44 775.13L59.03 770.96" stroke="#e4e4ea" stroke-width="0.8" fill="none"/>
<path d="M59.03 770.96L67.9 762.9" stroke="#b4b4ba" stroke-width="0.5" fill="none"/>
<path d="M195.43 775.13L188.26 770.96" stroke="#e4e4ea" stroke-width="0.8" fill="none"/>
<path d="M188.26 770.96L174.4 762.9" stroke="#b4b4ba" stroke-width="0.5" fill="none"/>
<g filter="url(#pb2)">
<ellipse cx="94.2" cy="695.3" rx="8" ry="4.5" fill="#2e2e34" opacity="0.75"/>
<ellipse cx="57" cy="726.4" rx="3.6" ry="4.6" fill="#2e2e34" opacity="0.7"/>
<ellipse cx="178.5" cy="733" rx="2.2" ry="22" fill="#2e2e34" opacity="0.45"/>
<ellipse cx="166" cy="765" rx="10" ry="6" fill="#2e2e34" opacity="0.3"/>
<ellipse cx="95" cy="772" rx="10" ry="3" fill="#2e2e34" opacity="0.3"/>
</g>
<rect x="67.9" y="701.3" width="106.5" height="61.6" fill="#e6d2a2"/>
<rect x="67.9" y="701.3" width="106.5" height="61.6" fill="#e6d2a2" filter="url(#nzl)"/>
<rect x="67.9" y="701.3" width="106.5" height="61.6" fill="#e6d2a2" filter="url(#nzd)"/>
<rect x="160" y="701.3" width="14.4" height="61.6" fill="#b4b2ad" opacity="0.45" filter="url(#pb2)"/>
<ellipse cx="164" cy="752" rx="7" ry="7" fill="#90929a" opacity="0.55" filter="url(#pb2)"/>
<g filter="url(#pb3)">
<rect x="68.6" y="702" width="19.2" height="16.4" rx="3.69" fill="#f1ece0" transform="rotate(0 78.2 710.2)"/>
<rect x="90" y="705" width="23" height="9.2" rx="2.07" fill="#f1ece0" transform="rotate(-8 101.5 709.6)"/>
<rect x="68" y="731.9" width="15.2" height="19.2" rx="3.42" fill="#f1ece0" transform="rotate(0 75.6 741.5)"/>
<rect x="85.2" y="726.4" width="13.2" height="17.2" rx="2.97" fill="#f1ece0" transform="rotate(12 91.8 735)"/>
<rect x="95.5" y="738.8" width="23" height="14" rx="3.15" fill="#f1ece0" transform="rotate(-25 107 745.8)"/>
<rect x="128.2" y="726.6" width="17.2" height="15.2" rx="3.42" fill="#f1ece0" transform="rotate(15 136.8 734.2)"/>
<rect x="74.5" y="751.2" width="24" height="10" rx="2.25" fill="#f1ece0" transform="rotate(0 86.5 756.2)"/>
<rect x="111" y="720" width="12" height="8" rx="1.8" fill="#f1ece0" transform="rotate(0 117 724)"/>
</g>
<path d="M88 742 C91 748 95 752 98 754" fill="none" stroke="#3a2f2c" stroke-width="0.6"/>
<path d="M99 741 C102 738 106 736 110 735" fill="none" stroke="#3a2f2c" stroke-width="0.6"/>
<g filter="url(#pb1)">
<ellipse cx="92.3" cy="704" rx="8.2" ry="3.4" fill="#0b0b0d" transform="rotate(-8 92.3 704)"/>
<ellipse cx="86.5" cy="706.5" rx="3.4" ry="4" fill="#0b0b0d" transform="rotate(0 86.5 706.5)"/>
<ellipse cx="82" cy="725" rx="4.6" ry="4.2" fill="#0b0b0d" transform="rotate(-30 82 725)"/>
<ellipse cx="80" cy="729.5" rx="3.2" ry="3" fill="#0b0b0d" transform="rotate(0 80 729.5)"/>
<ellipse cx="123.4" cy="734.8" rx="3.2" ry="5.4" fill="#0b0b0d" transform="rotate(-10 123.4 734.8)"/>
<ellipse cx="127.5" cy="739" rx="3" ry="1.6" fill="#0b0b0d" transform="rotate(10 127.5 739)"/>
<ellipse cx="138.5" cy="721.2" rx="1.8" ry="1.3" fill="#0b0b0d" transform="rotate(-30 138.5 721.2)"/>
</g>
<rect x="53" y="686.8" width="144.9" height="89.6" fill="none" stroke="#c2c2cc" stroke-width="0.8"/>
</g>
<g clip-path="url(#pc4)">
<rect x="204.1" y="686.4" width="145.8" height="90.4" fill="#b0b0ae"/>
<polygon points="204.1,686.4 349.9,686.4 328.4,700 219.9,700" fill="#c2bfb6"/>
<polygon points="204.1,776.8 349.9,776.8 328.4,763 219.9,763" fill="#b4b4b2"/>
<polygon points="204.1,686.4 219.9,700 219.9,763 204.1,776.8" fill="#aeaead"/>
<polygon points="349.9,686.4 328.4,700 328.4,763 349.9,776.8" fill="#a5a5a8"/>
<rect x="204.1" y="686.4" width="145.8" height="90.4" fill="#808080" filter="url(#nzg)"/>
<path d="M206 688.03L210.74 692.11" stroke="#e4e4ea" stroke-width="0.8" fill="none"/>
<path d="M210.74 692.11L219.9 700" stroke="#b4b4ba" stroke-width="0.5" fill="none"/>
<path d="M347.32 688.03L340.87 692.11" stroke="#e4e4ea" stroke-width="0.8" fill="none"/>
<path d="M340.87 692.11L328.4 700" stroke="#b4b4ba" stroke-width="0.5" fill="none"/>
<path d="M206 775.14L210.74 771" stroke="#e4e4ea" stroke-width="0.8" fill="none"/>
<path d="M210.74 771L219.9 763" stroke="#b4b4ba" stroke-width="0.5" fill="none"/>
<path d="M347.32 775.14L340.87 771" stroke="#e4e4ea" stroke-width="0.8" fill="none"/>
<path d="M340.87 771L328.4 763" stroke="#b4b4ba" stroke-width="0.5" fill="none"/>
<g filter="url(#pb2)">
<ellipse cx="318" cy="692" rx="6" ry="4.5" fill="#2e2e34" opacity="0.7"/>
<ellipse cx="338.6" cy="713.5" rx="5.5" ry="9.5" fill="#2e2e34" opacity="0.75"/>
<ellipse cx="343" cy="728" rx="4" ry="8" fill="#2e2e34" opacity="0.35"/>
<ellipse cx="214" cy="735" rx="3" ry="12" fill="#2e2e34" opacity="0.25"/>
</g>
<rect x="219.9" y="700" width="108.5" height="63" fill="#e6d2a2"/>
<rect x="219.9" y="700" width="108.5" height="63" fill="#e6d2a2" filter="url(#nzl)"/>
<rect x="219.9" y="700" width="108.5" height="63" fill="#e6d2a2" filter="url(#nzd)"/>
<rect x="204.1" y="743" width="1.3" height="8" fill="#e03040"/>
<g filter="url(#pb3)">
<rect x="226.5" y="708.6" width="16.4" height="25.2" rx="3.69" fill="#f1ece0" transform="rotate(8 234.7 721.2)"/>
<rect x="260.6" y="704" width="25.2" height="15.2" rx="3.42" fill="#f1ece0" transform="rotate(25 273.2 711.6)"/>
<rect x="289.4" y="707.8" width="24" height="15.6" rx="3.51" fill="#f1ece0" transform="rotate(22 301.4 715.6)"/>
<rect x="269.8" y="724" width="24.8" height="20" rx="4.5" fill="#f1ece0" transform="rotate(18 282.2 734)"/>
<rect x="302.1" y="726.8" width="19.2" height="20.4" rx="4.32" fill="#f1ece0" transform="rotate(22 311.7 737)"/>
<rect x="284.8" y="744.8" width="15.2" height="12.4" rx="2.79" fill="#f1ece0" transform="rotate(30 292.4 751)"/>
<rect x="222.4" y="750.5" width="22" height="10" rx="2.25" fill="#f1ece0" transform="rotate(0 233.4 755.5)"/>
<rect x="255" y="749" width="14" height="8" rx="1.8" fill="#f1ece0" transform="rotate(0 262 753)"/>
</g>
<path d="M262 729 C266 728 270 727.5 273 727" fill="none" stroke="#3a2f2c" stroke-width="0.6"/>
<path d="M324 727 C325 734 322 741 317 746" fill="none" stroke="#3a2f2c" stroke-width="0.6"/>
<g filter="url(#pb1)">
<ellipse cx="255.8" cy="736.6" rx="11.6" ry="4.4" fill="#0b0b0d" transform="rotate(33 255.8 736.6)"/>
<ellipse cx="264.5" cy="743.2" rx="3.4" ry="2" fill="#0b0b0d" transform="rotate(25 264.5 743.2)"/>
<ellipse cx="315" cy="711" rx="3.6" ry="6.2" fill="#0b0b0d" transform="rotate(25 315 711)"/>
<ellipse cx="323.8" cy="716.5" rx="4.2" ry="8.6" fill="#0b0b0d" transform="rotate(-12 323.8 716.5)"/>
<ellipse cx="288.6" cy="721.4" rx="6.8" ry="2.8" fill="#0b0b0d" transform="rotate(8 288.6 721.4)"/>
<ellipse cx="300.5" cy="728.2" rx="6.4" ry="3.2" fill="#0b0b0d" transform="rotate(-32 300.5 728.2)"/>
</g>
<rect x="204.5" y="686.8" width="145" height="89.6" fill="none" stroke="#c2c2cc" stroke-width="0.8"/>
</g>
</svg>
</body></html>
